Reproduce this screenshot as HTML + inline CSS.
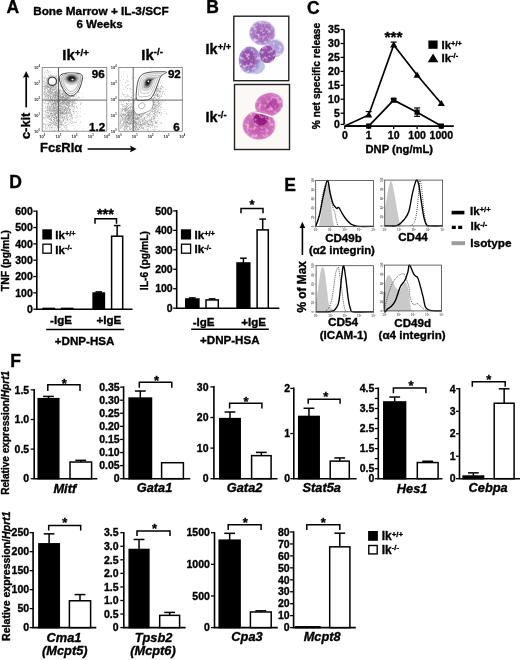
<!DOCTYPE html><html><head><meta charset="utf-8"><style>html,body{margin:0;padding:0;background:#fff;}svg{display:block;} text{stroke:#000;stroke-width:0.35px;stroke-linejoin:round;} text.g{stroke:none;}</style></head><body>
<svg width="520" height="660" viewBox="0 0 520 660" font-family="'Liberation Sans', Arial, Helvetica, sans-serif" font-weight="bold" fill="#000">
<rect width="520" height="660" fill="#fff"/>
<text x="6.60" y="13.40" font-size="17.5" text-anchor="start" >A</text>
<text x="33.20" y="15.20" font-size="11.75" text-anchor="start" >Bone Marrow + IL-3/SCF</text>
<text x="99.50" y="27.80" font-size="11.6" text-anchor="middle" >6 Weeks</text>
<text x="62.30" y="59.80" font-size="15" text-anchor="start">Ik<tspan font-size="9.75" dy="-3.75">+/+</tspan></text>
<text x="141.30" y="59.80" font-size="15" text-anchor="start">Ik<tspan font-size="9.75" dy="-4.80">-/-</tspan></text>
<path d="M71.0 102.8h.55v.55h-.55zM62.5 93.9h.55v.55h-.55zM54.4 97.1h.55v.55h-.55zM54.8 91.3h.55v.55h-.55zM63.4 97.5h.55v.55h-.55zM65.8 93.3h.55v.55h-.55zM62.0 96.7h.55v.55h-.55zM51.5 99.2h.55v.55h-.55zM64.2 106.6h.55v.55h-.55zM63.4 96.4h.55v.55h-.55zM70.6 97.8h.55v.55h-.55zM68.4 95.5h.55v.55h-.55zM63.5 101.1h.55v.55h-.55zM66.9 97.5h.55v.55h-.55zM54.4 98.8h.55v.55h-.55zM62.5 99.9h.55v.55h-.55zM63.5 101.4h.55v.55h-.55zM61.6 97.8h.55v.55h-.55zM66.7 92.7h.55v.55h-.55zM59.2 95.0h.55v.55h-.55zM75.9 96.6h.55v.55h-.55zM66.6 99.5h.55v.55h-.55zM60.0 90.8h.55v.55h-.55zM68.8 95.4h.55v.55h-.55zM67.0 91.8h.55v.55h-.55zM58.9 102.0h.55v.55h-.55zM72.0 91.8h.55v.55h-.55zM52.7 96.8h.55v.55h-.55zM67.1 97.6h.55v.55h-.55zM64.1 93.0h.55v.55h-.55zM66.1 101.5h.55v.55h-.55zM59.0 91.3h.55v.55h-.55zM56.7 100.0h.55v.55h-.55zM49.9 96.6h.55v.55h-.55zM55.1 96.5h.55v.55h-.55zM60.3 97.1h.55v.55h-.55zM72.5 98.7h.55v.55h-.55zM71.3 96.4h.55v.55h-.55zM58.6 98.5h.55v.55h-.55zM63.1 92.1h.55v.55h-.55zM65.3 94.8h.55v.55h-.55zM44.8 96.1h.55v.55h-.55zM55.1 94.9h.55v.55h-.55zM60.9 102.0h.55v.55h-.55zM62.7 96.9h.55v.55h-.55zM64.7 89.8h.55v.55h-.55zM70.7 92.7h.55v.55h-.55zM65.1 92.5h.55v.55h-.55zM55.2 95.4h.55v.55h-.55zM75.3 99.8h.55v.55h-.55zM57.8 95.9h.55v.55h-.55zM53.9 96.9h.55v.55h-.55zM58.0 99.9h.55v.55h-.55zM52.5 95.7h.55v.55h-.55zM56.1 94.1h.55v.55h-.55zM67.0 97.5h.55v.55h-.55zM66.1 101.8h.55v.55h-.55zM70.0 91.5h.55v.55h-.55zM65.8 90.0h.55v.55h-.55zM61.6 104.7h.55v.55h-.55zM60.6 95.5h.55v.55h-.55zM63.2 97.1h.55v.55h-.55zM62.2 94.0h.55v.55h-.55zM69.6 100.6h.55v.55h-.55zM60.5 98.3h.55v.55h-.55zM66.6 101.1h.55v.55h-.55zM64.7 99.8h.55v.55h-.55zM60.2 92.7h.55v.55h-.55zM58.5 101.1h.55v.55h-.55zM68.8 97.6h.55v.55h-.55zM58.0 98.2h.55v.55h-.55zM73.6 102.4h.55v.55h-.55zM57.2 96.8h.55v.55h-.55zM51.8 92.5h.55v.55h-.55zM63.3 97.1h.55v.55h-.55zM68.8 102.1h.55v.55h-.55zM67.8 102.3h.55v.55h-.55zM58.2 92.5h.55v.55h-.55zM65.5 107.7h.55v.55h-.55zM64.5 92.4h.55v.55h-.55zM63.7 102.7h.55v.55h-.55zM54.8 100.2h.55v.55h-.55zM57.7 102.1h.55v.55h-.55zM67.5 98.2h.55v.55h-.55zM76.0 95.4h.55v.55h-.55zM57.2 104.4h.55v.55h-.55zM55.9 105.8h.55v.55h-.55zM61.7 92.9h.55v.55h-.55zM62.0 97.5h.55v.55h-.55zM63.4 96.2h.55v.55h-.55zM69.6 87.7h.55v.55h-.55zM58.1 96.0h.55v.55h-.55zM74.7 89.0h.55v.55h-.55zM59.6 92.4h.55v.55h-.55zM57.3 99.6h.55v.55h-.55zM64.9 102.8h.55v.55h-.55zM57.8 98.1h.55v.55h-.55zM70.2 100.6h.55v.55h-.55zM59.6 101.5h.55v.55h-.55zM55.5 104.2h.55v.55h-.55zM63.1 96.5h.55v.55h-.55zM63.9 100.4h.55v.55h-.55zM74.2 96.4h.55v.55h-.55zM59.4 99.3h.55v.55h-.55zM55.9 90.2h.55v.55h-.55zM67.9 95.5h.55v.55h-.55zM69.9 92.9h.55v.55h-.55zM63.1 103.4h.55v.55h-.55zM65.7 98.2h.55v.55h-.55zM66.1 95.5h.55v.55h-.55zM62.5 91.6h.55v.55h-.55zM65.6 93.8h.55v.55h-.55zM58.9 99.8h.55v.55h-.55zM68.4 93.0h.55v.55h-.55zM76.0 94.6h.55v.55h-.55zM67.8 100.8h.55v.55h-.55zM63.6 97.7h.55v.55h-.55zM74.6 100.6h.55v.55h-.55zM65.1 89.7h.55v.55h-.55zM56.8 101.7h.55v.55h-.55zM63.4 93.2h.55v.55h-.55zM57.5 95.8h.55v.55h-.55zM66.8 98.5h.55v.55h-.55zM69.0 93.7h.55v.55h-.55zM68.9 95.0h.55v.55h-.55zM59.9 103.9h.55v.55h-.55zM62.5 96.4h.55v.55h-.55zM60.5 95.5h.55v.55h-.55zM72.9 102.5h.55v.55h-.55zM67.0 97.7h.55v.55h-.55zM69.3 96.7h.55v.55h-.55zM65.2 98.6h.55v.55h-.55zM62.6 103.6h.55v.55h-.55zM74.3 102.3h.55v.55h-.55zM48.6 104.3h.55v.55h-.55zM66.9 95.2h.55v.55h-.55zM61.8 101.6h.55v.55h-.55zM70.2 100.4h.55v.55h-.55zM63.0 97.1h.55v.55h-.55zM67.8 96.6h.55v.55h-.55zM55.7 94.5h.55v.55h-.55zM61.0 98.3h.55v.55h-.55zM77.8 91.5h.55v.55h-.55zM65.3 96.6h.55v.55h-.55zM64.1 102.4h.55v.55h-.55zM70.7 96.4h.55v.55h-.55zM58.1 91.5h.55v.55h-.55zM61.5 102.0h.55v.55h-.55zM60.1 99.8h.55v.55h-.55zM67.0 98.6h.55v.55h-.55zM69.6 96.5h.55v.55h-.55zM56.2 92.3h.55v.55h-.55zM68.5 95.6h.55v.55h-.55zM59.8 100.3h.55v.55h-.55zM56.5 104.1h.55v.55h-.55zM66.7 94.9h.55v.55h-.55zM57.6 101.3h.55v.55h-.55zM53.7 94.4h.55v.55h-.55zM62.0 97.8h.55v.55h-.55zM62.1 98.5h.55v.55h-.55zM59.5 96.5h.55v.55h-.55zM70.9 99.6h.55v.55h-.55zM58.9 103.9h.55v.55h-.55zM48.1 97.3h.55v.55h-.55zM66.7 100.9h.55v.55h-.55zM62.8 95.5h.55v.55h-.55zM66.1 96.2h.55v.55h-.55zM65.3 85.6h.55v.55h-.55zM64.7 93.8h.55v.55h-.55zM68.6 100.0h.55v.55h-.55zM67.1 95.4h.55v.55h-.55zM65.0 95.6h.55v.55h-.55zM63.5 96.5h.55v.55h-.55zM55.9 104.9h.55v.55h-.55zM67.1 88.8h.55v.55h-.55zM68.3 91.4h.55v.55h-.55zM60.4 94.7h.55v.55h-.55zM58.3 98.0h.55v.55h-.55zM59.7 91.2h.55v.55h-.55zM62.0 98.5h.55v.55h-.55zM74.4 95.3h.55v.55h-.55zM53.7 95.5h.55v.55h-.55zM66.6 93.5h.55v.55h-.55zM57.0 99.2h.55v.55h-.55zM61.9 97.9h.55v.55h-.55zM57.6 93.7h.55v.55h-.55zM59.7 96.4h.55v.55h-.55zM59.7 98.7h.55v.55h-.55zM65.8 99.2h.55v.55h-.55zM65.4 93.5h.55v.55h-.55zM54.2 100.2h.55v.55h-.55zM62.1 97.5h.55v.55h-.55zM53.9 96.2h.55v.55h-.55zM57.5 93.5h.55v.55h-.55zM57.6 91.0h.55v.55h-.55zM62.6 101.7h.55v.55h-.55zM57.0 97.4h.55v.55h-.55zM54.4 99.7h.55v.55h-.55zM75.0 92.1h.55v.55h-.55zM60.4 102.7h.55v.55h-.55zM64.6 97.5h.55v.55h-.55zM47.7 96.4h.55v.55h-.55zM68.4 102.7h.55v.55h-.55zM66.5 94.7h.55v.55h-.55zM57.2 89.7h.55v.55h-.55zM54.5 101.5h.55v.55h-.55zM61.2 91.6h.55v.55h-.55zM71.2 90.3h.55v.55h-.55zM70.8 95.7h.55v.55h-.55zM64.4 99.7h.55v.55h-.55zM63.8 102.1h.55v.55h-.55zM62.1 95.7h.55v.55h-.55zM57.4 91.2h.55v.55h-.55zM57.1 100.9h.55v.55h-.55zM67.8 102.6h.55v.55h-.55zM81.1 99.9h.55v.55h-.55zM65.5 91.7h.55v.55h-.55zM60.3 105.8h.55v.55h-.55zM65.7 96.4h.55v.55h-.55zM64.2 89.4h.55v.55h-.55zM56.2 91.8h.55v.55h-.55zM47.0 100.1h.55v.55h-.55zM68.8 96.3h.55v.55h-.55zM64.4 93.0h.55v.55h-.55zM65.2 100.1h.55v.55h-.55zM72.7 103.2h.55v.55h-.55zM65.4 96.5h.55v.55h-.55zM56.2 94.6h.55v.55h-.55zM66.3 99.3h.55v.55h-.55zM62.1 103.7h.55v.55h-.55zM66.5 97.1h.55v.55h-.55zM60.7 97.3h.55v.55h-.55zM55.4 93.1h.55v.55h-.55zM64.4 94.7h.55v.55h-.55zM60.1 101.9h.55v.55h-.55zM60.6 102.3h.55v.55h-.55zM61.9 103.1h.55v.55h-.55zM65.3 90.0h.55v.55h-.55zM70.7 96.2h.55v.55h-.55zM48.2 97.5h.55v.55h-.55zM63.1 91.8h.55v.55h-.55zM57.7 99.2h.55v.55h-.55zM71.9 101.6h.55v.55h-.55zM70.6 101.5h.55v.55h-.55zM44.6 94.1h.55v.55h-.55zM63.3 86.2h.55v.55h-.55zM67.4 100.6h.55v.55h-.55zM56.6 95.5h.55v.55h-.55zM55.4 96.9h.55v.55h-.55zM61.7 97.0h.55v.55h-.55zM54.8 98.5h.55v.55h-.55zM59.6 100.8h.55v.55h-.55zM64.2 91.1h.55v.55h-.55zM51.9 97.3h.55v.55h-.55zM58.6 98.9h.55v.55h-.55zM67.6 97.1h.55v.55h-.55zM50.2 92.2h.55v.55h-.55zM66.0 92.8h.55v.55h-.55zM69.8 96.6h.55v.55h-.55zM65.6 93.5h.55v.55h-.55zM61.3 85.2h.55v.55h-.55zM60.5 99.3h.55v.55h-.55zM55.7 93.6h.55v.55h-.55zM61.6 97.3h.55v.55h-.55zM56.3 99.7h.55v.55h-.55zM50.5 101.5h.55v.55h-.55zM52.2 93.7h.55v.55h-.55zM71.3 93.0h.55v.55h-.55zM50.4 97.3h.55v.55h-.55zM55.6 92.5h.55v.55h-.55zM57.1 94.0h.55v.55h-.55zM55.2 92.9h.55v.55h-.55zM73.3 94.3h.55v.55h-.55zM68.8 91.4h.55v.55h-.55zM65.8 92.0h.55v.55h-.55zM58.8 99.5h.55v.55h-.55zM58.3 89.1h.55v.55h-.55zM58.1 96.4h.55v.55h-.55zM66.0 93.0h.55v.55h-.55zM59.9 97.3h.55v.55h-.55zM50.5 96.6h.55v.55h-.55zM56.2 98.8h.55v.55h-.55zM61.2 96.3h.55v.55h-.55zM45.1 96.6h.55v.55h-.55zM59.4 93.2h.55v.55h-.55zM58.4 91.9h.55v.55h-.55zM63.2 99.6h.55v.55h-.55zM66.2 94.9h.55v.55h-.55zM73.8 100.4h.55v.55h-.55zM55.4 96.4h.55v.55h-.55zM50.6 96.5h.55v.55h-.55zM67.0 102.1h.55v.55h-.55zM59.1 89.8h.55v.55h-.55zM60.8 102.4h.55v.55h-.55zM63.0 102.1h.55v.55h-.55zM67.8 103.2h.55v.55h-.55zM66.2 94.3h.55v.55h-.55zM65.1 107.1h.55v.55h-.55zM58.4 89.6h.55v.55h-.55zM76.7 98.6h.55v.55h-.55zM57.6 94.6h.55v.55h-.55zM51.2 99.8h.55v.55h-.55zM63.0 94.5h.55v.55h-.55zM59.0 95.3h.55v.55h-.55zM69.5 96.3h.55v.55h-.55zM71.7 93.6h.55v.55h-.55zM57.7 95.1h.55v.55h-.55zM58.2 96.6h.55v.55h-.55zM69.2 101.8h.55v.55h-.55zM54.5 102.1h.55v.55h-.55zM62.7 103.4h.55v.55h-.55zM60.8 93.7h.55v.55h-.55zM67.5 99.5h.55v.55h-.55zM58.8 97.1h.55v.55h-.55zM62.9 98.2h.55v.55h-.55zM50.0 92.2h.55v.55h-.55zM62.4 98.0h.55v.55h-.55zM58.3 90.0h.55v.55h-.55zM71.4 95.8h.55v.55h-.55zM54.7 103.4h.55v.55h-.55zM69.9 101.2h.55v.55h-.55zM67.8 99.3h.55v.55h-.55zM55.2 97.1h.55v.55h-.55zM64.5 99.5h.55v.55h-.55zM65.3 93.0h.55v.55h-.55zM57.8 95.7h.55v.55h-.55zM60.6 93.5h.55v.55h-.55zM49.2 92.1h.55v.55h-.55zM64.2 97.0h.55v.55h-.55zM66.1 89.5h.55v.55h-.55zM59.1 100.6h.55v.55h-.55zM48.3 92.7h.55v.55h-.55zM50.3 101.8h.55v.55h-.55zM62.2 94.7h.55v.55h-.55zM63.0 96.6h.55v.55h-.55zM68.3 101.7h.55v.55h-.55zM68.4 98.4h.55v.55h-.55zM67.3 100.3h.55v.55h-.55zM70.2 89.7h.55v.55h-.55zM64.4 97.3h.55v.55h-.55zM63.1 96.0h.55v.55h-.55zM61.5 99.0h.55v.55h-.55zM63.4 97.5h.55v.55h-.55zM54.5 92.0h.55v.55h-.55zM56.8 89.9h.55v.55h-.55zM58.4 93.6h.55v.55h-.55zM49.4 89.2h.55v.55h-.55zM58.7 94.7h.55v.55h-.55zM77.2 100.5h.55v.55h-.55zM56.5 95.0h.55v.55h-.55zM54.9 93.8h.55v.55h-.55zM59.5 96.8h.55v.55h-.55zM57.6 100.3h.55v.55h-.55zM66.5 104.8h.55v.55h-.55zM52.8 99.7h.55v.55h-.55zM59.4 90.6h.55v.55h-.55zM59.9 90.4h.55v.55h-.55zM61.8 107.9h.55v.55h-.55zM71.1 104.3h.55v.55h-.55zM70.4 90.8h.55v.55h-.55zM64.9 97.6h.55v.55h-.55zM65.0 92.8h.55v.55h-.55zM48.1 105.4h.55v.55h-.55zM70.3 98.2h.55v.55h-.55zM58.6 97.7h.55v.55h-.55zM53.3 100.8h.55v.55h-.55zM63.2 96.4h.55v.55h-.55zM59.0 96.7h.55v.55h-.55zM62.9 95.4h.55v.55h-.55zM68.7 97.8h.55v.55h-.55zM61.3 93.6h.55v.55h-.55zM70.5 102.2h.55v.55h-.55zM66.8 89.6h.55v.55h-.55zM59.6 101.0h.55v.55h-.55zM62.3 102.1h.55v.55h-.55zM58.9 100.2h.55v.55h-.55zM65.7 87.2h.55v.55h-.55zM59.2 96.1h.55v.55h-.55zM57.6 93.4h.55v.55h-.55zM73.1 96.5h.55v.55h-.55zM67.5 91.6h.55v.55h-.55zM47.5 95.1h.55v.55h-.55zM64.9 94.1h.55v.55h-.55zM65.7 100.2h.55v.55h-.55zM58.9 96.8h.55v.55h-.55zM56.8 101.3h.55v.55h-.55zM74.4 99.0h.55v.55h-.55zM58.5 94.2h.55v.55h-.55zM60.0 100.6h.55v.55h-.55zM56.7 102.9h.55v.55h-.55zM53.4 97.0h.55v.55h-.55zM71.2 104.1h.55v.55h-.55zM59.1 100.2h.55v.55h-.55zM79.7 101.7h.55v.55h-.55zM46.7 98.1h.55v.55h-.55zM78.6 92.4h.55v.55h-.55zM68.4 88.6h.55v.55h-.55zM73.1 93.6h.55v.55h-.55zM67.7 100.6h.55v.55h-.55zM64.3 90.9h.55v.55h-.55zM61.9 93.2h.55v.55h-.55zM71.4 95.0h.55v.55h-.55zM55.6 99.6h.55v.55h-.55zM70.6 96.4h.55v.55h-.55zM64.0 99.0h.55v.55h-.55zM58.5 92.2h.55v.55h-.55zM65.7 95.6h.55v.55h-.55zM52.4 100.4h.55v.55h-.55zM65.0 97.6h.55v.55h-.55zM56.7 96.1h.55v.55h-.55zM66.3 98.9h.55v.55h-.55zM56.2 93.4h.55v.55h-.55zM64.4 97.7h.55v.55h-.55zM67.9 92.4h.55v.55h-.55zM68.4 104.1h.55v.55h-.55zM68.6 97.5h.55v.55h-.55zM68.3 91.9h.55v.55h-.55zM58.9 105.2h.55v.55h-.55zM50.6 92.4h.55v.55h-.55zM67.8 94.4h.55v.55h-.55zM58.0 92.5h.55v.55h-.55zM73.8 94.6h.55v.55h-.55zM60.1 89.7h.55v.55h-.55zM67.4 97.0h.55v.55h-.55zM65.5 103.3h.55v.55h-.55zM63.1 92.2h.55v.55h-.55zM54.9 97.3h.55v.55h-.55zM71.2 92.2h.55v.55h-.55zM60.3 96.4h.55v.55h-.55zM66.6 93.4h.55v.55h-.55zM64.2 100.1h.55v.55h-.55zM61.7 96.6h.55v.55h-.55zM66.3 99.3h.55v.55h-.55zM70.8 92.7h.55v.55h-.55zM70.6 96.1h.55v.55h-.55zM54.0 94.8h.55v.55h-.55zM53.4 96.2h.55v.55h-.55zM69.2 88.0h.55v.55h-.55zM53.7 100.1h.55v.55h-.55zM59.9 100.2h.55v.55h-.55zM52.7 96.8h.55v.55h-.55zM43.8 93.6h.55v.55h-.55zM67.2 101.9h.55v.55h-.55zM73.4 96.8h.55v.55h-.55zM55.9 95.5h.55v.55h-.55zM48.6 102.4h.55v.55h-.55zM70.2 93.4h.55v.55h-.55zM74.8 91.6h.55v.55h-.55zM65.9 93.8h.55v.55h-.55zM49.8 98.6h.55v.55h-.55zM53.9 101.8h.55v.55h-.55zM55.7 97.4h.55v.55h-.55zM58.6 97.5h.55v.55h-.55zM57.6 100.3h.55v.55h-.55zM66.3 97.3h.55v.55h-.55zM61.1 104.9h.55v.55h-.55zM57.1 95.2h.55v.55h-.55zM67.4 97.0h.55v.55h-.55zM50.6 96.4h.55v.55h-.55zM59.3 93.0h.55v.55h-.55zM63.4 92.5h.55v.55h-.55zM60.2 92.5h.55v.55h-.55zM72.9 95.9h.55v.55h-.55zM65.1 98.1h.55v.55h-.55zM66.9 96.4h.55v.55h-.55zM67.3 97.5h.55v.55h-.55zM44.9 98.2h.55v.55h-.55zM53.0 100.8h.55v.55h-.55zM63.5 95.5h.55v.55h-.55zM44.3 88.4h.55v.55h-.55zM53.8 95.5h.55v.55h-.55zM52.3 104.9h.55v.55h-.55zM65.2 96.6h.55v.55h-.55zM55.1 95.6h.55v.55h-.55zM60.3 95.2h.55v.55h-.55zM61.5 100.2h.55v.55h-.55zM49.7 97.9h.55v.55h-.55zM69.7 91.5h.55v.55h-.55zM60.7 95.5h.55v.55h-.55zM54.0 100.8h.55v.55h-.55zM59.7 101.6h.55v.55h-.55zM64.9 95.9h.55v.55h-.55zM64.0 95.5h.55v.55h-.55zM50.5 102.7h.55v.55h-.55zM64.6 101.6h.55v.55h-.55zM49.3 101.2h.55v.55h-.55zM67.8 96.8h.55v.55h-.55zM47.2 97.4h.55v.55h-.55zM57.3 96.2h.55v.55h-.55zM62.4 93.4h.55v.55h-.55zM61.1 97.0h.55v.55h-.55zM72.2 96.6h.55v.55h-.55zM78.5 92.3h.55v.55h-.55zM61.0 102.0h.55v.55h-.55zM51.0 99.5h.55v.55h-.55zM64.8 94.6h.55v.55h-.55zM60.3 103.2h.55v.55h-.55zM58.9 98.1h.55v.55h-.55zM65.0 101.8h.55v.55h-.55zM47.5 91.1h.55v.55h-.55zM52.6 95.9h.55v.55h-.55zM66.3 100.3h.55v.55h-.55zM60.0 103.1h.55v.55h-.55zM61.5 99.8h.55v.55h-.55zM56.7 100.3h.55v.55h-.55zM57.0 101.6h.55v.55h-.55zM68.0 104.5h.55v.55h-.55zM59.0 92.4h.55v.55h-.55zM67.8 98.3h.55v.55h-.55zM58.3 91.6h.55v.55h-.55zM67.6 89.2h.55v.55h-.55zM58.7 101.3h.55v.55h-.55zM60.2 98.8h.55v.55h-.55zM65.4 99.4h.55v.55h-.55zM69.4 99.6h.55v.55h-.55zM59.4 92.1h.55v.55h-.55zM60.0 94.4h.55v.55h-.55zM64.8 101.9h.55v.55h-.55zM67.5 94.2h.55v.55h-.55zM63.4 97.0h.55v.55h-.55zM58.7 102.2h.55v.55h-.55zM66.3 98.4h.55v.55h-.55zM53.4 86.5h.55v.55h-.55zM56.9 101.6h.55v.55h-.55zM60.5 96.9h.55v.55h-.55zM60.2 98.9h.55v.55h-.55zM61.9 103.9h.55v.55h-.55zM61.2 95.9h.55v.55h-.55zM71.9 100.0h.55v.55h-.55zM66.9 99.1h.55v.55h-.55zM61.7 98.3h.55v.55h-.55zM65.8 97.4h.55v.55h-.55zM48.8 102.5h.55v.55h-.55zM58.6 94.7h.55v.55h-.55zM59.6 94.1h.55v.55h-.55zM55.9 96.7h.55v.55h-.55zM68.2 95.8h.55v.55h-.55zM65.3 91.6h.55v.55h-.55zM67.3 92.5h.55v.55h-.55zM66.9 94.0h.55v.55h-.55zM57.8 92.0h.55v.55h-.55zM53.1 96.1h.55v.55h-.55zM55.2 96.1h.55v.55h-.55zM70.0 93.6h.55v.55h-.55zM59.8 96.6h.55v.55h-.55zM57.7 96.9h.55v.55h-.55zM63.6 101.2h.55v.55h-.55zM56.9 96.1h.55v.55h-.55zM60.9 101.9h.55v.55h-.55zM55.0 97.7h.55v.55h-.55zM67.4 99.3h.55v.55h-.55zM57.0 92.9h.55v.55h-.55zM49.0 94.9h.55v.55h-.55zM60.2 91.0h.55v.55h-.55zM67.9 97.7h.55v.55h-.55zM60.3 94.9h.55v.55h-.55zM65.3 95.9h.55v.55h-.55zM65.5 95.1h.55v.55h-.55zM69.4 90.5h.55v.55h-.55zM54.5 104.2h.55v.55h-.55zM69.3 103.6h.55v.55h-.55zM56.5 99.9h.55v.55h-.55zM69.0 100.7h.55v.55h-.55zM60.7 102.9h.55v.55h-.55zM64.9 91.8h.55v.55h-.55zM79.2 97.5h.55v.55h-.55zM70.8 94.2h.55v.55h-.55zM55.5 100.5h.55v.55h-.55zM67.8 94.0h.55v.55h-.55zM63.7 91.7h.55v.55h-.55zM47.6 101.4h.55v.55h-.55zM54.0 100.0h.55v.55h-.55zM69.5 98.5h.55v.55h-.55zM72.6 98.5h.55v.55h-.55zM64.1 97.0h.55v.55h-.55zM64.9 98.4h.55v.55h-.55zM55.4 96.8h.55v.55h-.55zM59.4 108.4h.55v.55h-.55zM70.6 93.8h.55v.55h-.55zM66.2 90.0h.55v.55h-.55zM62.4 104.3h.55v.55h-.55zM62.6 102.1h.55v.55h-.55zM59.4 98.8h.55v.55h-.55zM64.6 88.2h.55v.55h-.55zM56.4 104.6h.55v.55h-.55zM56.2 101.8h.55v.55h-.55zM74.0 96.8h.55v.55h-.55zM69.0 98.5h.55v.55h-.55zM57.8 99.3h.55v.55h-.55zM65.0 93.1h.55v.55h-.55zM58.9 91.6h.55v.55h-.55zM59.6 96.8h.55v.55h-.55zM55.1 89.5h.55v.55h-.55zM66.7 102.1h.55v.55h-.55zM55.6 97.3h.55v.55h-.55zM57.3 86.5h.55v.55h-.55zM76.8 98.2h.55v.55h-.55zM52.1 102.1h.55v.55h-.55zM67.1 102.7h.55v.55h-.55zM67.1 99.1h.55v.55h-.55zM72.1 95.9h.55v.55h-.55zM63.7 92.7h.55v.55h-.55zM54.0 97.8h.55v.55h-.55zM63.6 90.7h.55v.55h-.55zM64.6 101.0h.55v.55h-.55zM53.2 95.6h.55v.55h-.55zM74.0 93.6h.55v.55h-.55zM66.0 100.1h.55v.55h-.55zM63.3 97.6h.55v.55h-.55zM66.0 98.1h.55v.55h-.55zM63.0 91.1h.55v.55h-.55zM63.7 93.8h.55v.55h-.55zM72.5 105.9h.55v.55h-.55zM69.8 88.4h.55v.55h-.55zM69.0 97.5h.55v.55h-.55zM54.4 92.1h.55v.55h-.55zM69.4 94.4h.55v.55h-.55zM61.4 97.3h.55v.55h-.55zM68.6 86.3h.55v.55h-.55zM70.6 93.8h.55v.55h-.55zM59.2 99.5h.55v.55h-.55zM64.6 87.8h.55v.55h-.55zM66.2 96.4h.55v.55h-.55zM54.8 94.5h.55v.55h-.55zM50.8 100.1h.55v.55h-.55zM72.3 94.5h.55v.55h-.55zM58.7 91.2h.55v.55h-.55zM57.1 92.9h.55v.55h-.55zM62.2 104.0h.55v.55h-.55zM69.4 100.9h.55v.55h-.55zM55.2 100.3h.55v.55h-.55zM57.0 93.5h.55v.55h-.55zM67.1 96.6h.55v.55h-.55zM79.4 97.8h.55v.55h-.55zM59.9 100.0h.55v.55h-.55zM53.9 99.7h.55v.55h-.55zM72.9 96.5h.55v.55h-.55zM58.4 101.5h.55v.55h-.55zM54.2 98.5h.55v.55h-.55zM58.3 98.2h.55v.55h-.55zM56.5 99.4h.55v.55h-.55zM65.9 104.0h.55v.55h-.55zM59.4 98.8h.55v.55h-.55zM49.7 93.9h.55v.55h-.55zM63.9 91.5h.55v.55h-.55zM61.2 93.4h.55v.55h-.55zM65.4 99.4h.55v.55h-.55zM58.7 99.6h.55v.55h-.55zM58.1 97.5h.55v.55h-.55zM65.7 99.2h.55v.55h-.55zM66.2 103.8h.55v.55h-.55zM57.5 96.4h.55v.55h-.55zM49.2 100.5h.55v.55h-.55zM54.1 94.6h.55v.55h-.55zM58.4 98.7h.55v.55h-.55zM60.0 95.9h.55v.55h-.55zM62.5 95.7h.55v.55h-.55zM61.8 93.1h.55v.55h-.55zM58.1 92.1h.55v.55h-.55zM68.0 100.6h.55v.55h-.55zM66.6 98.3h.55v.55h-.55zM57.8 99.2h.55v.55h-.55zM51.2 87.0h.55v.55h-.55zM53.7 103.0h.55v.55h-.55zM63.7 103.2h.55v.55h-.55zM57.0 101.0h.55v.55h-.55zM73.1 101.0h.55v.55h-.55zM64.0 101.3h.55v.55h-.55zM58.8 104.1h.55v.55h-.55zM53.9 94.0h.55v.55h-.55zM62.2 93.9h.55v.55h-.55zM74.3 99.7h.55v.55h-.55zM56.9 103.7h.55v.55h-.55zM71.5 95.5h.55v.55h-.55zM72.9 101.7h.55v.55h-.55zM58.5 94.8h.55v.55h-.55zM64.2 101.6h.55v.55h-.55zM73.0 103.0h.55v.55h-.55zM58.6 89.9h.55v.55h-.55zM50.2 103.0h.55v.55h-.55zM69.4 101.7h.55v.55h-.55zM62.0 97.3h.55v.55h-.55zM65.4 98.8h.55v.55h-.55zM62.6 93.1h.55v.55h-.55zM52.4 97.6h.55v.55h-.55zM60.9 102.7h.55v.55h-.55zM54.5 89.1h.55v.55h-.55zM48.2 96.9h.55v.55h-.55zM73.7 95.6h.55v.55h-.55zM57.1 98.5h.55v.55h-.55zM72.8 101.3h.55v.55h-.55zM68.2 100.7h.55v.55h-.55zM60.0 97.3h.55v.55h-.55zM64.9 104.3h.55v.55h-.55zM46.6 94.8h.55v.55h-.55zM64.6 96.0h.55v.55h-.55zM61.1 95.9h.55v.55h-.55zM45.2 92.0h.55v.55h-.55zM56.5 86.8h.55v.55h-.55zM52.2 95.7h.55v.55h-.55zM46.7 88.5h.55v.55h-.55zM43.5 98.5h.55v.55h-.55zM58.6 87.8h.55v.55h-.55zM60.0 94.1h.55v.55h-.55zM51.3 92.0h.55v.55h-.55zM53.4 86.3h.55v.55h-.55zM55.7 90.9h.55v.55h-.55zM59.5 88.3h.55v.55h-.55zM52.8 78.0h.55v.55h-.55zM47.0 84.2h.55v.55h-.55zM54.7 85.2h.55v.55h-.55zM55.8 86.0h.55v.55h-.55zM54.8 85.3h.55v.55h-.55zM44.0 92.5h.55v.55h-.55zM48.8 92.1h.55v.55h-.55zM48.3 100.8h.55v.55h-.55zM52.0 78.9h.55v.55h-.55zM51.7 81.4h.55v.55h-.55zM54.9 94.1h.55v.55h-.55zM60.7 90.2h.55v.55h-.55zM47.5 93.9h.55v.55h-.55zM43.2 86.3h.55v.55h-.55zM45.0 85.6h.55v.55h-.55zM43.6 80.3h.55v.55h-.55zM44.4 91.3h.55v.55h-.55zM50.2 88.5h.55v.55h-.55zM52.4 93.5h.55v.55h-.55zM52.4 101.4h.55v.55h-.55zM51.4 91.3h.55v.55h-.55zM47.6 95.5h.55v.55h-.55zM57.2 71.2h.55v.55h-.55zM54.1 82.4h.55v.55h-.55zM51.8 89.5h.55v.55h-.55zM43.7 80.9h.55v.55h-.55zM48.7 104.8h.55v.55h-.55zM43.8 86.6h.55v.55h-.55zM48.5 87.4h.55v.55h-.55zM55.6 101.4h.55v.55h-.55zM49.8 91.5h.55v.55h-.55zM48.4 98.5h.55v.55h-.55zM49.7 93.1h.55v.55h-.55zM49.0 95.8h.55v.55h-.55zM49.7 83.9h.55v.55h-.55zM59.6 77.3h.55v.55h-.55zM50.9 86.9h.55v.55h-.55zM45.4 101.5h.55v.55h-.55zM51.7 86.5h.55v.55h-.55zM45.6 91.0h.55v.55h-.55zM50.0 87.6h.55v.55h-.55zM46.7 98.2h.55v.55h-.55zM51.1 87.9h.55v.55h-.55zM43.7 84.3h.55v.55h-.55zM53.7 84.5h.55v.55h-.55zM53.3 88.3h.55v.55h-.55zM52.0 91.1h.55v.55h-.55zM47.8 87.4h.55v.55h-.55zM49.7 92.9h.55v.55h-.55zM62.0 94.2h.55v.55h-.55zM43.4 102.3h.55v.55h-.55zM49.4 84.8h.55v.55h-.55zM50.6 88.7h.55v.55h-.55zM51.3 88.8h.55v.55h-.55zM49.9 96.6h.55v.55h-.55zM58.5 89.6h.55v.55h-.55zM57.9 94.6h.55v.55h-.55zM56.0 90.6h.55v.55h-.55zM51.0 93.8h.55v.55h-.55zM45.2 89.3h.55v.55h-.55zM44.3 94.5h.55v.55h-.55zM51.1 92.6h.55v.55h-.55zM48.3 84.4h.55v.55h-.55zM54.8 86.4h.55v.55h-.55zM48.9 89.2h.55v.55h-.55zM52.3 89.4h.55v.55h-.55zM44.8 82.7h.55v.55h-.55zM55.1 87.1h.55v.55h-.55zM48.8 83.7h.55v.55h-.55zM54.7 91.8h.55v.55h-.55zM47.3 78.7h.55v.55h-.55zM59.0 85.6h.55v.55h-.55zM44.2 86.0h.55v.55h-.55zM44.3 89.0h.55v.55h-.55zM47.2 81.9h.55v.55h-.55zM53.4 83.9h.55v.55h-.55zM47.3 82.5h.55v.55h-.55zM47.0 86.1h.55v.55h-.55zM47.5 96.6h.55v.55h-.55zM55.3 90.9h.55v.55h-.55zM52.8 86.3h.55v.55h-.55zM56.9 84.8h.55v.55h-.55zM46.5 84.8h.55v.55h-.55zM43.4 92.3h.55v.55h-.55zM44.6 97.3h.55v.55h-.55zM58.3 89.5h.55v.55h-.55zM49.8 83.9h.55v.55h-.55zM54.5 89.5h.55v.55h-.55zM52.3 86.0h.55v.55h-.55zM52.2 90.5h.55v.55h-.55zM57.2 88.4h.55v.55h-.55zM55.3 95.6h.55v.55h-.55zM56.6 86.9h.55v.55h-.55zM51.4 104.3h.55v.55h-.55zM49.0 85.4h.55v.55h-.55zM50.6 81.9h.55v.55h-.55zM45.7 86.4h.55v.55h-.55zM48.6 95.0h.55v.55h-.55zM44.5 87.9h.55v.55h-.55zM51.3 87.2h.55v.55h-.55zM53.7 102.4h.55v.55h-.55zM44.6 83.8h.55v.55h-.55zM47.4 85.7h.55v.55h-.55zM47.3 91.5h.55v.55h-.55zM58.7 103.8h.55v.55h-.55zM49.6 76.7h.55v.55h-.55zM57.8 89.1h.55v.55h-.55zM47.9 95.6h.55v.55h-.55zM49.4 87.7h.55v.55h-.55zM45.6 94.5h.55v.55h-.55zM54.2 83.9h.55v.55h-.55zM47.2 96.4h.55v.55h-.55zM46.4 86.5h.55v.55h-.55zM46.2 87.6h.55v.55h-.55zM54.3 89.4h.55v.55h-.55zM55.0 92.6h.55v.55h-.55zM49.9 79.0h.55v.55h-.55zM53.9 88.7h.55v.55h-.55zM47.5 92.1h.55v.55h-.55zM54.8 93.3h.55v.55h-.55zM47.4 88.8h.55v.55h-.55zM62.2 81.2h.55v.55h-.55zM50.4 89.2h.55v.55h-.55zM57.5 92.7h.55v.55h-.55zM51.1 87.2h.55v.55h-.55zM56.2 89.4h.55v.55h-.55zM49.5 90.0h.55v.55h-.55zM53.4 89.2h.55v.55h-.55zM51.3 93.8h.55v.55h-.55zM46.4 87.6h.55v.55h-.55zM50.4 93.1h.55v.55h-.55zM52.8 86.1h.55v.55h-.55zM44.8 86.8h.55v.55h-.55zM47.5 94.3h.55v.55h-.55zM53.2 89.4h.55v.55h-.55zM44.6 81.2h.55v.55h-.55zM50.6 92.7h.55v.55h-.55zM51.9 87.5h.55v.55h-.55zM52.9 77.2h.55v.55h-.55zM55.7 98.0h.55v.55h-.55zM50.9 90.4h.55v.55h-.55zM49.0 94.4h.55v.55h-.55zM45.4 85.5h.55v.55h-.55zM52.0 80.5h.55v.55h-.55zM52.5 91.7h.55v.55h-.55zM49.9 86.0h.55v.55h-.55zM58.7 85.8h.55v.55h-.55zM50.8 93.8h.55v.55h-.55zM49.9 95.3h.55v.55h-.55zM50.0 90.5h.55v.55h-.55zM50.0 92.9h.55v.55h-.55zM46.8 94.3h.55v.55h-.55zM55.2 82.7h.55v.55h-.55zM46.0 93.1h.55v.55h-.55zM50.3 100.3h.55v.55h-.55zM57.9 79.8h.55v.55h-.55zM48.1 87.2h.55v.55h-.55zM58.0 93.7h.55v.55h-.55zM54.6 84.1h.55v.55h-.55zM60.2 82.4h.55v.55h-.55zM50.1 83.2h.55v.55h-.55zM45.5 90.5h.55v.55h-.55zM45.5 93.1h.55v.55h-.55zM52.6 89.3h.55v.55h-.55zM53.2 95.8h.55v.55h-.55zM55.5 82.2h.55v.55h-.55zM53.3 94.4h.55v.55h-.55zM48.1 86.7h.55v.55h-.55zM56.0 93.0h.55v.55h-.55zM50.7 97.6h.55v.55h-.55zM54.7 99.4h.55v.55h-.55zM48.1 94.9h.55v.55h-.55zM58.3 83.2h.55v.55h-.55zM49.2 86.9h.55v.55h-.55zM52.4 95.8h.55v.55h-.55zM58.0 88.1h.55v.55h-.55zM51.7 94.3h.55v.55h-.55zM55.8 87.3h.55v.55h-.55zM56.8 80.4h.55v.55h-.55zM51.4 80.7h.55v.55h-.55zM47.7 84.3h.55v.55h-.55zM58.9 99.0h.55v.55h-.55zM53.9 90.0h.55v.55h-.55zM50.9 93.4h.55v.55h-.55zM52.6 84.6h.55v.55h-.55zM46.1 92.2h.55v.55h-.55zM61.4 93.4h.55v.55h-.55zM49.8 88.3h.55v.55h-.55zM52.2 90.9h.55v.55h-.55zM52.3 92.3h.55v.55h-.55zM47.7 95.6h.55v.55h-.55zM55.1 84.6h.55v.55h-.55zM55.1 84.7h.55v.55h-.55zM45.0 85.7h.55v.55h-.55zM45.3 88.6h.55v.55h-.55zM48.2 90.0h.55v.55h-.55zM52.4 98.8h.55v.55h-.55zM52.3 92.1h.55v.55h-.55zM52.5 93.9h.55v.55h-.55zM54.5 90.7h.55v.55h-.55zM44.2 83.3h.55v.55h-.55zM51.4 87.1h.55v.55h-.55zM48.0 85.9h.55v.55h-.55zM46.4 95.6h.55v.55h-.55zM53.9 81.4h.55v.55h-.55zM50.9 88.9h.55v.55h-.55zM47.7 95.3h.55v.55h-.55zM51.6 89.4h.55v.55h-.55zM45.7 94.7h.55v.55h-.55zM51.2 90.7h.55v.55h-.55zM46.6 98.0h.55v.55h-.55zM44.9 86.0h.55v.55h-.55zM48.3 90.2h.55v.55h-.55zM56.8 92.4h.55v.55h-.55zM50.6 88.1h.55v.55h-.55zM51.9 93.8h.55v.55h-.55zM46.3 99.5h.55v.55h-.55zM49.9 94.1h.55v.55h-.55zM48.0 97.2h.55v.55h-.55zM55.1 90.9h.55v.55h-.55zM53.1 87.1h.55v.55h-.55zM45.5 95.9h.55v.55h-.55zM44.0 85.9h.55v.55h-.55zM44.2 83.3h.55v.55h-.55zM47.9 94.0h.55v.55h-.55zM45.2 93.4h.55v.55h-.55zM45.7 93.0h.55v.55h-.55zM56.6 75.1h.55v.55h-.55zM50.4 98.7h.55v.55h-.55zM50.1 98.9h.55v.55h-.55zM55.8 90.7h.55v.55h-.55zM57.7 83.7h.55v.55h-.55zM44.6 86.3h.55v.55h-.55zM56.3 89.6h.55v.55h-.55zM53.4 95.9h.55v.55h-.55zM57.6 92.1h.55v.55h-.55zM52.3 83.2h.55v.55h-.55zM47.2 80.8h.55v.55h-.55zM49.3 91.4h.55v.55h-.55zM50.2 83.4h.55v.55h-.55zM52.9 94.5h.55v.55h-.55zM56.2 76.1h.55v.55h-.55zM52.7 95.2h.55v.55h-.55zM53.6 89.2h.55v.55h-.55zM51.2 87.5h.55v.55h-.55zM46.6 83.1h.55v.55h-.55zM65.8 87.5h.55v.55h-.55zM52.8 92.3h.55v.55h-.55zM54.5 88.7h.55v.55h-.55zM54.7 101.0h.55v.55h-.55zM46.8 85.5h.55v.55h-.55zM45.0 86.9h.55v.55h-.55zM43.9 91.0h.55v.55h-.55zM53.3 96.3h.55v.55h-.55zM56.4 86.8h.55v.55h-.55zM51.0 84.2h.55v.55h-.55zM50.3 89.6h.55v.55h-.55zM52.5 88.6h.55v.55h-.55zM44.7 95.0h.55v.55h-.55zM49.3 80.7h.55v.55h-.55zM57.5 92.2h.55v.55h-.55zM54.1 92.4h.55v.55h-.55zM47.0 90.3h.55v.55h-.55zM53.2 89.9h.55v.55h-.55zM55.4 88.0h.55v.55h-.55zM50.5 85.3h.55v.55h-.55zM47.4 86.8h.55v.55h-.55zM51.0 81.4h.55v.55h-.55zM50.6 86.9h.55v.55h-.55zM53.2 87.1h.55v.55h-.55zM53.2 83.8h.55v.55h-.55zM51.8 87.2h.55v.55h-.55zM55.3 91.2h.55v.55h-.55zM55.1 86.2h.55v.55h-.55zM47.0 88.8h.55v.55h-.55zM44.9 87.4h.55v.55h-.55zM56.3 82.6h.55v.55h-.55zM47.2 89.5h.55v.55h-.55zM58.1 101.7h.55v.55h-.55zM47.3 86.2h.55v.55h-.55zM51.3 85.1h.55v.55h-.55zM51.9 90.7h.55v.55h-.55zM52.7 90.1h.55v.55h-.55zM46.9 92.7h.55v.55h-.55zM49.8 90.0h.55v.55h-.55zM44.6 89.5h.55v.55h-.55zM49.8 83.9h.55v.55h-.55zM46.2 86.5h.55v.55h-.55zM50.1 85.3h.55v.55h-.55zM44.6 89.4h.55v.55h-.55zM44.0 90.9h.55v.55h-.55zM45.8 87.8h.55v.55h-.55zM55.5 75.8h.55v.55h-.55zM43.4 85.9h.55v.55h-.55zM49.3 83.8h.55v.55h-.55zM45.3 85.3h.55v.55h-.55zM45.0 89.6h.55v.55h-.55zM46.6 88.0h.55v.55h-.55zM50.2 93.0h.55v.55h-.55zM46.9 86.5h.55v.55h-.55zM52.1 76.2h.55v.55h-.55zM50.3 83.7h.55v.55h-.55zM54.3 87.1h.55v.55h-.55zM45.7 95.2h.55v.55h-.55zM47.3 83.8h.55v.55h-.55zM52.2 77.6h.55v.55h-.55zM49.1 93.2h.55v.55h-.55zM43.8 94.6h.55v.55h-.55zM48.5 85.7h.55v.55h-.55zM56.6 87.0h.55v.55h-.55zM51.8 77.7h.55v.55h-.55zM50.3 91.2h.55v.55h-.55zM46.2 85.2h.55v.55h-.55zM49.0 84.1h.55v.55h-.55zM54.3 92.4h.55v.55h-.55zM53.5 95.1h.55v.55h-.55zM48.4 71.4h.55v.55h-.55zM50.1 85.7h.55v.55h-.55zM44.2 91.9h.55v.55h-.55zM45.0 81.9h.55v.55h-.55zM61.8 86.6h.55v.55h-.55zM50.8 92.4h.55v.55h-.55zM52.9 88.3h.55v.55h-.55zM52.5 88.4h.55v.55h-.55zM47.7 87.4h.55v.55h-.55zM53.0 93.0h.55v.55h-.55zM52.1 80.0h.55v.55h-.55zM48.9 92.0h.55v.55h-.55zM48.0 91.9h.55v.55h-.55zM50.6 96.0h.55v.55h-.55zM55.2 93.0h.55v.55h-.55zM47.5 87.7h.55v.55h-.55zM48.3 91.5h.55v.55h-.55zM53.6 85.6h.55v.55h-.55zM55.2 91.7h.55v.55h-.55zM49.3 85.0h.55v.55h-.55zM50.4 88.7h.55v.55h-.55zM49.5 87.3h.55v.55h-.55zM51.4 85.5h.55v.55h-.55zM52.7 78.5h.55v.55h-.55zM50.3 86.1h.55v.55h-.55zM48.1 90.7h.55v.55h-.55zM46.9 70.2h.55v.55h-.55zM48.6 86.1h.55v.55h-.55zM46.8 93.0h.55v.55h-.55zM50.0 82.8h.55v.55h-.55zM45.7 94.6h.55v.55h-.55zM50.5 91.1h.55v.55h-.55zM50.1 90.2h.55v.55h-.55zM47.3 83.2h.55v.55h-.55zM45.2 83.8h.55v.55h-.55zM58.7 92.7h.55v.55h-.55zM50.3 88.3h.55v.55h-.55zM47.5 80.7h.55v.55h-.55zM57.2 83.2h.55v.55h-.55zM48.7 88.0h.55v.55h-.55zM43.4 87.8h.55v.55h-.55zM44.4 98.3h.55v.55h-.55zM50.2 97.6h.55v.55h-.55zM47.4 90.3h.55v.55h-.55zM52.6 89.4h.55v.55h-.55zM48.7 95.6h.55v.55h-.55zM51.8 89.4h.55v.55h-.55zM54.0 72.9h.55v.55h-.55zM44.9 91.8h.55v.55h-.55zM48.2 87.4h.55v.55h-.55zM56.7 86.0h.55v.55h-.55zM45.1 87.3h.55v.55h-.55zM55.2 85.2h.55v.55h-.55zM48.3 89.9h.55v.55h-.55zM48.5 91.0h.55v.55h-.55zM58.6 97.0h.55v.55h-.55zM55.6 94.6h.55v.55h-.55zM55.1 92.8h.55v.55h-.55zM53.1 86.7h.55v.55h-.55zM47.6 96.7h.55v.55h-.55zM44.3 85.6h.55v.55h-.55zM48.9 90.1h.55v.55h-.55zM46.7 86.3h.55v.55h-.55zM46.1 84.6h.55v.55h-.55zM48.1 108.7h.55v.55h-.55zM44.2 103.4h.55v.55h-.55zM43.9 90.0h.55v.55h-.55zM49.6 92.7h.55v.55h-.55zM48.5 82.6h.55v.55h-.55zM47.3 87.1h.55v.55h-.55zM50.5 80.1h.55v.55h-.55zM43.5 93.7h.55v.55h-.55zM45.3 85.1h.55v.55h-.55zM47.1 85.3h.55v.55h-.55zM52.6 90.3h.55v.55h-.55zM60.4 86.8h.55v.55h-.55zM51.8 84.9h.55v.55h-.55zM54.7 80.0h.55v.55h-.55zM45.9 87.7h.55v.55h-.55zM63.7 102.0h.55v.55h-.55zM59.8 88.9h.55v.55h-.55zM55.3 85.0h.55v.55h-.55zM59.7 100.6h.55v.55h-.55zM55.9 107.2h.55v.55h-.55zM56.4 110.4h.55v.55h-.55zM55.1 96.7h.55v.55h-.55zM61.6 120.8h.55v.55h-.55zM52.5 100.4h.55v.55h-.55zM53.5 86.6h.55v.55h-.55zM51.8 114.9h.55v.55h-.55zM51.8 107.3h.55v.55h-.55zM55.9 103.6h.55v.55h-.55zM58.9 111.9h.55v.55h-.55zM61.9 113.7h.55v.55h-.55zM54.6 128.1h.55v.55h-.55zM58.2 115.3h.55v.55h-.55zM58.2 106.4h.55v.55h-.55zM53.3 123.4h.55v.55h-.55zM54.1 106.7h.55v.55h-.55zM60.5 120.8h.55v.55h-.55zM62.4 112.1h.55v.55h-.55zM56.1 122.2h.55v.55h-.55zM50.3 117.8h.55v.55h-.55zM59.7 127.3h.55v.55h-.55zM62.6 113.3h.55v.55h-.55zM58.9 99.6h.55v.55h-.55zM59.2 101.6h.55v.55h-.55zM51.6 129.1h.55v.55h-.55zM64.0 108.8h.55v.55h-.55zM51.7 126.5h.55v.55h-.55zM55.8 116.9h.55v.55h-.55zM56.7 126.8h.55v.55h-.55zM61.8 108.3h.55v.55h-.55zM61.8 120.4h.55v.55h-.55zM62.6 98.6h.55v.55h-.55zM60.5 110.1h.55v.55h-.55zM58.0 93.1h.55v.55h-.55zM65.5 109.4h.55v.55h-.55zM58.8 93.9h.55v.55h-.55zM56.2 112.0h.55v.55h-.55zM57.5 97.9h.55v.55h-.55zM58.4 105.6h.55v.55h-.55zM60.6 97.6h.55v.55h-.55zM61.7 98.8h.55v.55h-.55zM52.6 115.2h.55v.55h-.55zM59.4 114.7h.55v.55h-.55zM54.8 106.9h.55v.55h-.55zM53.4 122.3h.55v.55h-.55zM50.0 96.9h.55v.55h-.55zM52.4 115.7h.55v.55h-.55zM51.1 118.7h.55v.55h-.55zM50.2 91.2h.55v.55h-.55zM58.3 114.5h.55v.55h-.55zM55.5 124.7h.55v.55h-.55zM55.3 104.4h.55v.55h-.55zM56.3 124.7h.55v.55h-.55zM62.5 121.9h.55v.55h-.55zM60.6 124.3h.55v.55h-.55zM58.9 84.2h.55v.55h-.55zM57.7 108.6h.55v.55h-.55zM52.3 89.5h.55v.55h-.55zM57.6 98.0h.55v.55h-.55zM57.0 101.0h.55v.55h-.55zM58.3 99.4h.55v.55h-.55zM57.9 109.5h.55v.55h-.55zM55.2 107.1h.55v.55h-.55zM58.1 80.9h.55v.55h-.55zM49.3 111.1h.55v.55h-.55zM57.1 112.6h.55v.55h-.55zM58.4 99.3h.55v.55h-.55zM62.2 118.3h.55v.55h-.55zM58.4 107.3h.55v.55h-.55zM54.2 103.5h.55v.55h-.55zM58.5 111.1h.55v.55h-.55zM60.3 112.6h.55v.55h-.55zM55.2 122.8h.55v.55h-.55zM51.3 95.2h.55v.55h-.55zM58.5 104.7h.55v.55h-.55zM51.3 93.8h.55v.55h-.55zM57.0 125.0h.55v.55h-.55zM62.7 108.9h.55v.55h-.55zM56.0 100.9h.55v.55h-.55zM64.5 109.0h.55v.55h-.55zM55.5 118.4h.55v.55h-.55zM61.6 110.4h.55v.55h-.55zM61.9 96.2h.55v.55h-.55zM58.8 116.5h.55v.55h-.55zM58.6 117.2h.55v.55h-.55zM57.7 116.3h.55v.55h-.55zM48.6 102.0h.55v.55h-.55zM60.4 97.9h.55v.55h-.55zM57.3 113.0h.55v.55h-.55zM58.5 129.0h.55v.55h-.55zM55.9 101.0h.55v.55h-.55zM58.1 125.4h.55v.55h-.55zM49.9 108.6h.55v.55h-.55zM55.4 111.5h.55v.55h-.55zM59.6 113.4h.55v.55h-.55zM50.7 107.4h.55v.55h-.55zM56.5 109.5h.55v.55h-.55zM61.2 106.5h.55v.55h-.55zM54.5 108.2h.55v.55h-.55zM57.1 117.6h.55v.55h-.55zM50.1 95.1h.55v.55h-.55zM56.7 120.2h.55v.55h-.55zM56.8 112.6h.55v.55h-.55zM64.0 111.3h.55v.55h-.55zM58.2 109.5h.55v.55h-.55zM60.9 115.6h.55v.55h-.55zM56.0 117.8h.55v.55h-.55zM58.8 104.7h.55v.55h-.55zM52.6 98.3h.55v.55h-.55zM56.6 107.8h.55v.55h-.55zM58.0 109.6h.55v.55h-.55zM57.6 122.4h.55v.55h-.55zM62.1 87.1h.55v.55h-.55zM59.2 110.3h.55v.55h-.55zM59.2 110.6h.55v.55h-.55zM58.4 107.6h.55v.55h-.55zM54.4 108.2h.55v.55h-.55zM60.2 110.4h.55v.55h-.55zM56.7 123.7h.55v.55h-.55zM60.4 100.4h.55v.55h-.55zM53.8 108.2h.55v.55h-.55zM58.9 121.4h.55v.55h-.55zM50.2 124.6h.55v.55h-.55zM57.2 112.4h.55v.55h-.55zM60.3 113.1h.55v.55h-.55zM57.8 120.9h.55v.55h-.55zM61.7 97.9h.55v.55h-.55zM50.7 98.5h.55v.55h-.55zM58.1 107.2h.55v.55h-.55zM56.2 104.6h.55v.55h-.55zM53.6 115.8h.55v.55h-.55zM56.8 113.3h.55v.55h-.55zM59.1 126.2h.55v.55h-.55zM65.5 103.6h.55v.55h-.55zM62.1 112.0h.55v.55h-.55zM58.8 122.4h.55v.55h-.55zM54.7 108.6h.55v.55h-.55zM60.9 116.6h.55v.55h-.55zM64.3 116.8h.55v.55h-.55zM57.5 108.8h.55v.55h-.55zM59.4 90.1h.55v.55h-.55zM62.2 113.6h.55v.55h-.55zM54.5 111.1h.55v.55h-.55zM59.2 97.1h.55v.55h-.55zM60.6 86.2h.55v.55h-.55zM62.8 106.9h.55v.55h-.55zM58.0 107.1h.55v.55h-.55zM54.6 120.6h.55v.55h-.55zM53.2 109.2h.55v.55h-.55zM59.2 96.7h.55v.55h-.55zM59.5 100.2h.55v.55h-.55zM60.5 106.3h.55v.55h-.55zM62.2 109.4h.55v.55h-.55zM53.0 120.7h.55v.55h-.55zM61.8 120.4h.55v.55h-.55zM51.1 98.3h.55v.55h-.55zM60.7 115.3h.55v.55h-.55zM55.8 108.0h.55v.55h-.55zM57.7 86.4h.55v.55h-.55zM52.2 96.7h.55v.55h-.55zM61.1 105.9h.55v.55h-.55zM48.7 108.3h.55v.55h-.55zM55.6 102.1h.55v.55h-.55zM51.2 100.0h.55v.55h-.55zM58.2 105.2h.55v.55h-.55zM60.0 124.6h.55v.55h-.55zM55.6 92.6h.55v.55h-.55zM53.1 110.7h.55v.55h-.55zM60.0 107.9h.55v.55h-.55zM56.8 112.4h.55v.55h-.55zM61.8 117.8h.55v.55h-.55zM55.5 103.4h.55v.55h-.55zM56.8 103.3h.55v.55h-.55zM53.1 121.3h.55v.55h-.55zM57.8 98.1h.55v.55h-.55zM58.6 98.4h.55v.55h-.55zM53.1 92.1h.55v.55h-.55zM52.3 104.6h.55v.55h-.55zM58.0 108.8h.55v.55h-.55zM58.1 110.4h.55v.55h-.55zM55.1 122.7h.55v.55h-.55zM52.5 98.8h.55v.55h-.55zM65.1 112.4h.55v.55h-.55zM52.6 127.5h.55v.55h-.55zM56.8 107.7h.55v.55h-.55zM53.0 109.2h.55v.55h-.55zM59.9 109.7h.55v.55h-.55zM55.0 114.2h.55v.55h-.55zM62.0 110.4h.55v.55h-.55zM55.3 105.5h.55v.55h-.55zM58.5 103.4h.55v.55h-.55zM62.5 103.7h.55v.55h-.55zM61.2 107.9h.55v.55h-.55zM59.9 97.3h.55v.55h-.55zM56.1 99.0h.55v.55h-.55zM53.8 109.4h.55v.55h-.55zM63.7 119.8h.55v.55h-.55zM57.0 103.5h.55v.55h-.55zM50.1 118.8h.55v.55h-.55zM52.2 109.3h.55v.55h-.55zM54.5 109.8h.55v.55h-.55zM63.6 108.9h.55v.55h-.55zM56.2 119.9h.55v.55h-.55zM54.9 88.6h.55v.55h-.55zM53.9 107.1h.55v.55h-.55zM53.8 120.7h.55v.55h-.55zM61.7 98.8h.55v.55h-.55zM57.1 112.2h.55v.55h-.55zM55.3 102.8h.55v.55h-.55zM58.7 105.4h.55v.55h-.55zM64.2 109.5h.55v.55h-.55zM57.0 112.0h.55v.55h-.55zM57.8 105.2h.55v.55h-.55zM59.3 118.8h.55v.55h-.55zM57.8 114.3h.55v.55h-.55zM51.4 105.1h.55v.55h-.55zM57.3 106.3h.55v.55h-.55zM61.3 113.9h.55v.55h-.55zM56.9 102.5h.55v.55h-.55zM55.4 107.0h.55v.55h-.55zM63.5 96.7h.55v.55h-.55zM60.7 105.7h.55v.55h-.55zM63.4 120.1h.55v.55h-.55zM53.5 113.7h.55v.55h-.55zM51.4 117.6h.55v.55h-.55zM56.4 98.3h.55v.55h-.55zM56.8 116.3h.55v.55h-.55zM66.7 119.2h.55v.55h-.55zM58.5 109.2h.55v.55h-.55zM48.0 93.7h.55v.55h-.55zM47.6 96.6h.55v.55h-.55zM60.9 123.9h.55v.55h-.55zM58.1 105.4h.55v.55h-.55zM57.6 125.1h.55v.55h-.55zM62.4 100.9h.55v.55h-.55zM57.5 100.8h.55v.55h-.55zM58.3 105.1h.55v.55h-.55zM53.3 117.5h.55v.55h-.55zM56.7 107.2h.55v.55h-.55zM60.4 114.8h.55v.55h-.55zM61.9 130.0h.55v.55h-.55zM52.0 115.1h.55v.55h-.55zM49.9 119.8h.55v.55h-.55zM64.7 99.4h.55v.55h-.55zM61.8 117.4h.55v.55h-.55zM58.5 85.8h.55v.55h-.55zM52.8 105.7h.55v.55h-.55zM57.2 111.3h.55v.55h-.55zM60.2 111.3h.55v.55h-.55zM56.2 99.0h.55v.55h-.55zM53.9 107.7h.55v.55h-.55zM65.9 105.9h.55v.55h-.55zM56.7 120.8h.55v.55h-.55zM60.2 116.8h.55v.55h-.55zM57.3 127.7h.55v.55h-.55zM54.7 125.5h.55v.55h-.55zM63.2 112.9h.55v.55h-.55zM54.8 103.1h.55v.55h-.55zM58.1 88.2h.55v.55h-.55zM62.1 100.5h.55v.55h-.55zM52.1 115.4h.55v.55h-.55zM57.3 100.4h.55v.55h-.55zM62.2 97.1h.55v.55h-.55zM54.7 92.6h.55v.55h-.55zM63.9 116.4h.55v.55h-.55zM51.2 115.5h.55v.55h-.55zM54.5 100.6h.55v.55h-.55zM56.3 88.4h.55v.55h-.55zM57.8 109.9h.55v.55h-.55zM62.9 100.3h.55v.55h-.55zM51.4 99.5h.55v.55h-.55zM54.6 119.1h.55v.55h-.55zM65.9 116.4h.55v.55h-.55zM58.7 97.6h.55v.55h-.55zM51.3 96.7h.55v.55h-.55zM59.6 122.4h.55v.55h-.55zM56.1 95.7h.55v.55h-.55zM60.0 108.8h.55v.55h-.55zM54.0 92.7h.55v.55h-.55zM49.7 126.5h.55v.55h-.55zM55.1 113.3h.55v.55h-.55zM58.9 119.6h.55v.55h-.55zM65.9 108.0h.55v.55h-.55zM61.8 100.4h.55v.55h-.55zM51.3 109.7h.55v.55h-.55zM49.1 93.2h.55v.55h-.55zM53.9 116.8h.55v.55h-.55zM56.1 90.3h.55v.55h-.55zM56.8 103.5h.55v.55h-.55zM54.9 103.5h.55v.55h-.55zM56.5 118.4h.55v.55h-.55zM59.0 110.3h.55v.55h-.55zM53.6 92.7h.55v.55h-.55zM64.6 126.6h.55v.55h-.55zM50.2 114.1h.55v.55h-.55zM58.6 111.2h.55v.55h-.55zM57.7 105.4h.55v.55h-.55zM62.7 113.8h.55v.55h-.55zM61.0 113.1h.55v.55h-.55zM57.8 105.0h.55v.55h-.55zM61.8 89.8h.55v.55h-.55zM62.5 107.6h.55v.55h-.55zM58.0 104.2h.55v.55h-.55zM49.7 99.9h.55v.55h-.55zM58.6 105.0h.55v.55h-.55zM58.9 100.2h.55v.55h-.55zM49.9 108.5h.55v.55h-.55zM55.3 101.5h.55v.55h-.55zM62.7 90.0h.55v.55h-.55zM57.5 106.7h.55v.55h-.55zM62.2 111.4h.55v.55h-.55zM58.4 112.7h.55v.55h-.55zM57.9 107.5h.55v.55h-.55zM56.3 119.2h.55v.55h-.55zM65.8 99.0h.55v.55h-.55zM58.0 98.1h.55v.55h-.55zM64.6 129.0h.55v.55h-.55zM58.0 125.5h.55v.55h-.55zM57.9 97.1h.55v.55h-.55zM64.1 92.9h.55v.55h-.55zM52.8 122.9h.55v.55h-.55zM60.5 116.5h.55v.55h-.55zM55.5 102.2h.55v.55h-.55zM52.3 123.3h.55v.55h-.55zM58.8 116.0h.55v.55h-.55zM54.8 104.8h.55v.55h-.55zM59.0 101.2h.55v.55h-.55zM61.1 121.7h.55v.55h-.55zM52.0 116.8h.55v.55h-.55zM58.0 112.3h.55v.55h-.55zM55.6 122.7h.55v.55h-.55zM57.9 117.1h.55v.55h-.55zM58.5 103.0h.55v.55h-.55zM52.4 128.3h.55v.55h-.55zM63.9 109.8h.55v.55h-.55zM61.3 124.5h.55v.55h-.55zM63.0 120.6h.55v.55h-.55zM56.5 117.6h.55v.55h-.55zM55.0 112.7h.55v.55h-.55zM53.3 92.3h.55v.55h-.55zM53.4 93.0h.55v.55h-.55zM58.7 117.4h.55v.55h-.55zM58.9 101.7h.55v.55h-.55zM56.9 95.8h.55v.55h-.55zM58.7 116.3h.55v.55h-.55zM64.6 99.0h.55v.55h-.55zM56.4 108.9h.55v.55h-.55zM66.4 112.7h.55v.55h-.55zM58.9 93.8h.55v.55h-.55zM62.5 117.4h.55v.55h-.55zM55.5 100.2h.55v.55h-.55zM58.0 103.4h.55v.55h-.55zM66.0 104.0h.55v.55h-.55zM55.1 118.3h.55v.55h-.55zM58.0 100.3h.55v.55h-.55zM51.8 101.1h.55v.55h-.55zM63.3 103.8h.55v.55h-.55zM56.4 120.1h.55v.55h-.55zM63.4 119.0h.55v.55h-.55zM58.6 103.5h.55v.55h-.55zM53.4 111.8h.55v.55h-.55zM56.8 112.6h.55v.55h-.55zM48.9 94.9h.55v.55h-.55zM60.2 126.2h.55v.55h-.55zM57.7 96.5h.55v.55h-.55zM59.4 100.6h.55v.55h-.55zM55.9 107.2h.55v.55h-.55zM60.1 122.0h.55v.55h-.55zM59.5 99.6h.55v.55h-.55zM61.3 104.8h.55v.55h-.55zM51.1 120.3h.55v.55h-.55zM64.6 98.7h.55v.55h-.55zM55.5 103.6h.55v.55h-.55zM55.2 123.1h.55v.55h-.55zM60.3 112.1h.55v.55h-.55zM57.7 101.9h.55v.55h-.55zM55.0 102.5h.55v.55h-.55zM59.4 117.4h.55v.55h-.55zM55.6 118.0h.55v.55h-.55zM52.8 104.2h.55v.55h-.55zM56.7 119.1h.55v.55h-.55zM58.1 100.6h.55v.55h-.55zM59.3 118.8h.55v.55h-.55zM52.6 86.8h.55v.55h-.55zM59.3 98.9h.55v.55h-.55zM61.1 130.0h.55v.55h-.55zM62.1 113.6h.55v.55h-.55zM60.4 108.3h.55v.55h-.55zM53.6 108.7h.55v.55h-.55zM55.3 112.7h.55v.55h-.55zM52.4 98.5h.55v.55h-.55zM57.4 111.2h.55v.55h-.55zM57.2 120.3h.55v.55h-.55zM51.2 116.9h.55v.55h-.55zM56.0 109.6h.55v.55h-.55zM61.3 111.4h.55v.55h-.55zM60.6 127.4h.55v.55h-.55zM56.8 90.1h.55v.55h-.55zM55.0 104.9h.55v.55h-.55zM57.9 101.2h.55v.55h-.55zM57.6 112.7h.55v.55h-.55zM49.3 127.4h.55v.55h-.55zM54.6 95.2h.55v.55h-.55zM53.9 118.1h.55v.55h-.55zM69.5 88.1h.55v.55h-.55zM54.3 122.7h.55v.55h-.55zM54.3 110.6h.55v.55h-.55zM55.3 109.7h.55v.55h-.55zM58.2 99.3h.55v.55h-.55zM53.1 94.2h.55v.55h-.55zM61.6 109.0h.55v.55h-.55zM62.1 116.9h.55v.55h-.55zM55.8 103.0h.55v.55h-.55zM57.6 101.2h.55v.55h-.55zM56.9 114.6h.55v.55h-.55zM52.1 97.4h.55v.55h-.55zM55.8 101.2h.55v.55h-.55zM56.6 113.5h.55v.55h-.55zM58.4 117.5h.55v.55h-.55zM57.3 113.1h.55v.55h-.55zM56.5 110.9h.55v.55h-.55zM56.7 110.0h.55v.55h-.55zM55.7 113.4h.55v.55h-.55zM60.2 124.5h.55v.55h-.55zM63.3 118.4h.55v.55h-.55zM54.6 95.7h.55v.55h-.55zM50.7 106.6h.55v.55h-.55zM57.8 121.0h.55v.55h-.55zM57.4 110.1h.55v.55h-.55zM52.2 117.7h.55v.55h-.55zM64.5 105.5h.55v.55h-.55zM65.4 118.1h.55v.55h-.55zM53.7 116.9h.55v.55h-.55zM57.9 114.1h.55v.55h-.55zM52.2 114.1h.55v.55h-.55zM60.5 97.0h.55v.55h-.55zM58.9 123.8h.55v.55h-.55zM58.3 102.5h.55v.55h-.55zM56.2 118.2h.55v.55h-.55zM59.2 108.9h.55v.55h-.55zM54.4 102.3h.55v.55h-.55zM56.3 97.2h.55v.55h-.55zM56.2 109.5h.55v.55h-.55zM57.5 116.6h.55v.55h-.55zM56.0 115.9h.55v.55h-.55zM53.6 98.1h.55v.55h-.55zM54.6 115.5h.55v.55h-.55zM54.4 102.0h.55v.55h-.55zM57.9 88.2h.55v.55h-.55zM55.2 84.4h.55v.55h-.55zM54.5 130.4h.55v.55h-.55zM50.4 122.1h.55v.55h-.55zM54.6 103.9h.55v.55h-.55zM54.7 110.7h.55v.55h-.55zM55.1 107.1h.55v.55h-.55zM59.9 113.2h.55v.55h-.55zM57.4 102.6h.55v.55h-.55zM57.8 107.6h.55v.55h-.55zM56.8 110.9h.55v.55h-.55zM54.9 95.9h.55v.55h-.55zM58.6 90.2h.55v.55h-.55zM60.5 103.7h.55v.55h-.55zM53.3 121.2h.55v.55h-.55zM54.4 110.6h.55v.55h-.55zM53.4 114.5h.55v.55h-.55zM58.3 107.1h.55v.55h-.55zM56.1 93.0h.55v.55h-.55zM61.4 102.7h.55v.55h-.55zM56.4 104.6h.55v.55h-.55zM57.9 107.4h.55v.55h-.55zM55.5 106.6h.55v.55h-.55zM57.8 126.6h.55v.55h-.55zM52.5 121.2h.55v.55h-.55zM57.3 114.9h.55v.55h-.55zM54.3 120.7h.55v.55h-.55zM59.9 89.5h.55v.55h-.55zM50.1 128.2h.55v.55h-.55zM54.6 107.3h.55v.55h-.55zM51.0 109.6h.55v.55h-.55zM57.2 104.5h.55v.55h-.55zM62.0 107.6h.55v.55h-.55zM60.3 110.3h.55v.55h-.55zM57.7 106.8h.55v.55h-.55zM54.7 125.3h.55v.55h-.55zM61.4 122.6h.55v.55h-.55zM54.3 105.4h.55v.55h-.55zM57.6 106.0h.55v.55h-.55zM59.4 127.5h.55v.55h-.55zM54.8 105.4h.55v.55h-.55zM50.9 123.3h.55v.55h-.55zM57.7 113.6h.55v.55h-.55zM54.3 110.1h.55v.55h-.55zM55.8 102.5h.55v.55h-.55zM59.1 124.1h.55v.55h-.55zM61.9 106.5h.55v.55h-.55zM69.1 102.8h.55v.55h-.55zM57.1 95.6h.55v.55h-.55zM55.9 113.2h.55v.55h-.55zM54.5 108.8h.55v.55h-.55zM53.1 105.2h.55v.55h-.55zM52.1 105.0h.55v.55h-.55zM48.5 100.7h.55v.55h-.55zM55.1 108.2h.55v.55h-.55zM61.9 98.0h.55v.55h-.55zM54.1 118.8h.55v.55h-.55zM53.3 105.8h.55v.55h-.55zM50.1 75.9h.55v.55h-.55zM65.5 117.9h.55v.55h-.55zM65.0 108.6h.55v.55h-.55zM51.3 113.7h.55v.55h-.55zM53.2 112.2h.55v.55h-.55zM58.5 116.1h.55v.55h-.55zM53.8 111.3h.55v.55h-.55zM58.4 124.6h.55v.55h-.55zM55.5 130.4h.55v.55h-.55zM59.4 114.1h.55v.55h-.55zM54.5 113.5h.55v.55h-.55zM59.4 99.1h.55v.55h-.55zM59.5 112.8h.55v.55h-.55zM55.9 101.0h.55v.55h-.55zM56.2 117.2h.55v.55h-.55zM63.7 111.5h.55v.55h-.55zM55.6 117.3h.55v.55h-.55zM60.7 118.0h.55v.55h-.55zM56.3 83.4h.55v.55h-.55zM57.7 109.2h.55v.55h-.55zM52.4 110.3h.55v.55h-.55zM53.0 106.5h.55v.55h-.55zM61.8 103.5h.55v.55h-.55zM47.6 121.1h.55v.55h-.55zM56.5 109.8h.55v.55h-.55zM49.8 89.6h.55v.55h-.55zM55.5 104.0h.55v.55h-.55zM57.6 107.5h.55v.55h-.55zM58.2 105.1h.55v.55h-.55zM58.4 104.2h.55v.55h-.55zM58.8 116.7h.55v.55h-.55zM50.9 109.6h.55v.55h-.55zM55.5 109.7h.55v.55h-.55zM64.2 103.1h.55v.55h-.55zM56.3 112.3h.55v.55h-.55zM48.3 125.2h.55v.55h-.55zM59.3 108.1h.55v.55h-.55zM53.7 124.4h.55v.55h-.55zM63.7 101.1h.55v.55h-.55zM58.8 95.7h.55v.55h-.55zM58.0 102.5h.55v.55h-.55zM59.3 105.7h.55v.55h-.55zM61.9 123.2h.55v.55h-.55zM63.7 109.0h.55v.55h-.55zM55.8 106.7h.55v.55h-.55zM54.5 108.8h.55v.55h-.55zM53.0 107.1h.55v.55h-.55zM60.2 120.6h.55v.55h-.55zM58.6 93.2h.55v.55h-.55zM63.0 129.9h.55v.55h-.55zM60.4 105.7h.55v.55h-.55zM59.6 109.0h.55v.55h-.55zM50.8 122.4h.55v.55h-.55zM60.4 115.7h.55v.55h-.55zM59.8 110.5h.55v.55h-.55zM52.3 126.4h.55v.55h-.55zM55.7 106.5h.55v.55h-.55zM58.9 92.2h.55v.55h-.55zM56.1 116.4h.55v.55h-.55zM56.1 84.2h.55v.55h-.55zM57.7 119.7h.55v.55h-.55zM57.7 110.7h.55v.55h-.55zM58.8 121.2h.55v.55h-.55zM58.1 109.4h.55v.55h-.55zM58.4 97.2h.55v.55h-.55zM65.0 92.0h.55v.55h-.55zM56.4 101.8h.55v.55h-.55zM57.5 109.1h.55v.55h-.55zM61.1 109.1h.55v.55h-.55zM53.1 110.1h.55v.55h-.55zM55.6 120.8h.55v.55h-.55zM57.1 123.3h.55v.55h-.55zM54.1 113.4h.55v.55h-.55zM59.3 110.2h.55v.55h-.55zM58.2 93.1h.55v.55h-.55zM52.5 109.6h.55v.55h-.55zM59.4 103.6h.55v.55h-.55zM59.6 110.2h.55v.55h-.55zM51.5 116.0h.55v.55h-.55zM55.0 122.6h.55v.55h-.55zM53.2 110.5h.55v.55h-.55zM56.8 126.2h.55v.55h-.55zM51.9 108.7h.55v.55h-.55zM53.9 113.5h.55v.55h-.55zM49.9 113.1h.55v.55h-.55zM55.8 125.5h.55v.55h-.55zM55.1 115.9h.55v.55h-.55zM48.3 98.1h.55v.55h-.55zM49.0 116.5h.55v.55h-.55zM45.8 115.8h.55v.55h-.55zM46.1 114.4h.55v.55h-.55zM53.6 112.3h.55v.55h-.55zM53.4 103.4h.55v.55h-.55zM50.4 108.4h.55v.55h-.55zM50.4 112.0h.55v.55h-.55zM50.8 105.4h.55v.55h-.55zM47.8 96.2h.55v.55h-.55zM48.8 89.7h.55v.55h-.55zM51.7 129.3h.55v.55h-.55zM47.6 108.1h.55v.55h-.55zM50.4 115.8h.55v.55h-.55zM53.7 107.4h.55v.55h-.55zM48.5 115.8h.55v.55h-.55zM52.1 101.2h.55v.55h-.55zM52.5 127.4h.55v.55h-.55zM48.5 102.8h.55v.55h-.55zM43.5 126.9h.55v.55h-.55zM51.0 115.8h.55v.55h-.55zM54.8 101.4h.55v.55h-.55zM56.1 106.4h.55v.55h-.55zM55.3 112.0h.55v.55h-.55zM56.8 117.2h.55v.55h-.55zM49.9 121.0h.55v.55h-.55zM47.0 117.9h.55v.55h-.55zM43.3 110.7h.55v.55h-.55zM59.5 120.2h.55v.55h-.55zM45.3 124.0h.55v.55h-.55zM48.6 115.7h.55v.55h-.55zM48.3 117.6h.55v.55h-.55zM47.5 124.6h.55v.55h-.55zM48.6 106.7h.55v.55h-.55zM48.1 100.0h.55v.55h-.55zM53.4 122.1h.55v.55h-.55zM56.9 116.6h.55v.55h-.55zM49.3 123.9h.55v.55h-.55zM57.2 106.6h.55v.55h-.55zM43.9 107.8h.55v.55h-.55zM50.1 122.1h.55v.55h-.55zM55.5 115.5h.55v.55h-.55zM55.8 109.9h.55v.55h-.55zM49.6 92.6h.55v.55h-.55zM47.6 110.1h.55v.55h-.55zM56.0 111.3h.55v.55h-.55zM48.4 113.4h.55v.55h-.55zM48.4 94.8h.55v.55h-.55zM46.9 110.8h.55v.55h-.55zM49.1 106.4h.55v.55h-.55zM47.9 117.5h.55v.55h-.55zM47.2 110.1h.55v.55h-.55zM50.3 118.3h.55v.55h-.55zM44.5 97.2h.55v.55h-.55zM50.9 113.1h.55v.55h-.55zM46.5 110.2h.55v.55h-.55zM46.0 124.7h.55v.55h-.55zM58.5 122.3h.55v.55h-.55zM44.3 118.3h.55v.55h-.55zM51.7 112.8h.55v.55h-.55zM49.4 109.8h.55v.55h-.55zM47.2 106.1h.55v.55h-.55zM52.8 106.2h.55v.55h-.55zM46.9 117.0h.55v.55h-.55zM59.0 127.2h.55v.55h-.55zM45.4 100.4h.55v.55h-.55zM47.0 114.8h.55v.55h-.55zM47.4 107.1h.55v.55h-.55zM60.3 100.8h.55v.55h-.55zM53.4 110.7h.55v.55h-.55zM47.2 129.2h.55v.55h-.55zM43.8 114.5h.55v.55h-.55zM49.2 106.0h.55v.55h-.55zM48.0 112.9h.55v.55h-.55zM62.9 116.6h.55v.55h-.55zM48.8 99.6h.55v.55h-.55zM51.2 119.2h.55v.55h-.55zM64.0 98.1h.55v.55h-.55zM49.5 105.7h.55v.55h-.55zM50.7 111.3h.55v.55h-.55zM49.3 122.4h.55v.55h-.55zM54.3 108.8h.55v.55h-.55zM56.2 121.1h.55v.55h-.55zM48.8 108.0h.55v.55h-.55zM48.2 103.7h.55v.55h-.55zM56.8 90.5h.55v.55h-.55zM48.5 103.5h.55v.55h-.55zM48.1 115.6h.55v.55h-.55zM55.4 116.5h.55v.55h-.55zM53.5 122.0h.55v.55h-.55zM51.4 122.3h.55v.55h-.55zM54.5 106.0h.55v.55h-.55zM53.8 108.5h.55v.55h-.55zM55.2 122.6h.55v.55h-.55zM43.2 117.4h.55v.55h-.55zM45.3 107.4h.55v.55h-.55zM47.7 116.8h.55v.55h-.55zM53.4 111.7h.55v.55h-.55zM55.8 88.6h.55v.55h-.55zM47.1 106.8h.55v.55h-.55zM51.2 109.6h.55v.55h-.55zM55.1 108.5h.55v.55h-.55zM45.6 94.6h.55v.55h-.55zM53.2 102.9h.55v.55h-.55zM53.2 108.4h.55v.55h-.55zM54.3 123.8h.55v.55h-.55zM52.3 103.7h.55v.55h-.55zM55.2 113.8h.55v.55h-.55zM50.3 115.4h.55v.55h-.55zM53.4 122.5h.55v.55h-.55zM43.5 123.0h.55v.55h-.55zM51.3 124.0h.55v.55h-.55zM49.5 119.3h.55v.55h-.55zM54.8 124.0h.55v.55h-.55zM48.5 125.1h.55v.55h-.55zM47.6 101.4h.55v.55h-.55zM46.0 100.4h.55v.55h-.55zM57.0 120.9h.55v.55h-.55zM51.3 114.0h.55v.55h-.55zM47.4 105.9h.55v.55h-.55zM54.3 111.3h.55v.55h-.55zM45.6 114.5h.55v.55h-.55zM46.8 109.8h.55v.55h-.55zM53.9 110.2h.55v.55h-.55zM62.7 99.4h.55v.55h-.55zM45.2 126.1h.55v.55h-.55zM51.1 110.5h.55v.55h-.55zM54.8 110.4h.55v.55h-.55zM45.2 125.8h.55v.55h-.55zM50.6 113.8h.55v.55h-.55zM50.9 111.7h.55v.55h-.55zM45.8 103.1h.55v.55h-.55zM50.4 110.2h.55v.55h-.55zM48.0 115.0h.55v.55h-.55zM49.2 111.3h.55v.55h-.55zM45.6 119.1h.55v.55h-.55zM51.5 123.7h.55v.55h-.55zM52.7 103.0h.55v.55h-.55zM46.9 110.5h.55v.55h-.55zM55.6 112.5h.55v.55h-.55zM50.0 124.7h.55v.55h-.55zM54.4 117.8h.55v.55h-.55zM59.9 118.1h.55v.55h-.55zM56.4 128.6h.55v.55h-.55zM54.0 94.5h.55v.55h-.55zM51.9 110.3h.55v.55h-.55zM45.7 121.2h.55v.55h-.55zM46.4 123.5h.55v.55h-.55zM52.3 107.6h.55v.55h-.55zM45.8 128.6h.55v.55h-.55zM49.0 115.2h.55v.55h-.55zM49.9 104.5h.55v.55h-.55zM48.4 110.3h.55v.55h-.55zM45.5 114.9h.55v.55h-.55zM50.8 101.1h.55v.55h-.55zM46.9 112.9h.55v.55h-.55zM45.9 96.7h.55v.55h-.55zM54.3 112.0h.55v.55h-.55zM48.3 107.8h.55v.55h-.55zM51.7 108.2h.55v.55h-.55zM50.2 121.9h.55v.55h-.55zM57.0 126.9h.55v.55h-.55zM45.0 111.6h.55v.55h-.55zM43.6 102.4h.55v.55h-.55zM43.1 108.4h.55v.55h-.55zM47.8 103.2h.55v.55h-.55zM49.5 116.6h.55v.55h-.55zM47.5 104.5h.55v.55h-.55zM53.8 109.9h.55v.55h-.55zM51.1 102.5h.55v.55h-.55zM52.8 119.4h.55v.55h-.55zM44.8 102.3h.55v.55h-.55zM47.9 117.3h.55v.55h-.55zM53.7 122.0h.55v.55h-.55zM45.4 94.5h.55v.55h-.55zM45.5 112.5h.55v.55h-.55zM52.1 99.8h.55v.55h-.55zM49.7 108.8h.55v.55h-.55zM52.2 103.9h.55v.55h-.55zM49.1 108.9h.55v.55h-.55zM51.2 112.0h.55v.55h-.55zM51.9 113.7h.55v.55h-.55zM54.1 103.3h.55v.55h-.55zM67.0 124.4h.55v.55h-.55zM43.1 117.7h.55v.55h-.55zM47.5 104.8h.55v.55h-.55zM56.0 91.1h.55v.55h-.55zM46.1 116.5h.55v.55h-.55zM47.7 111.9h.55v.55h-.55zM57.3 112.9h.55v.55h-.55zM55.1 124.3h.55v.55h-.55zM47.2 108.4h.55v.55h-.55zM56.8 117.6h.55v.55h-.55zM45.6 111.3h.55v.55h-.55zM52.3 100.2h.55v.55h-.55zM45.2 98.7h.55v.55h-.55zM48.6 112.8h.55v.55h-.55zM49.2 110.6h.55v.55h-.55zM51.4 115.4h.55v.55h-.55zM49.7 125.1h.55v.55h-.55zM55.8 106.8h.55v.55h-.55zM57.3 126.1h.55v.55h-.55zM47.7 106.8h.55v.55h-.55zM50.3 106.5h.55v.55h-.55zM45.3 106.5h.55v.55h-.55zM59.2 125.2h.55v.55h-.55zM51.6 120.1h.55v.55h-.55zM47.4 106.6h.55v.55h-.55zM53.5 116.3h.55v.55h-.55zM43.5 123.4h.55v.55h-.55zM56.0 124.9h.55v.55h-.55zM64.2 109.7h.55v.55h-.55zM49.3 115.9h.55v.55h-.55zM50.5 102.3h.55v.55h-.55zM48.6 108.9h.55v.55h-.55zM54.9 110.0h.55v.55h-.55zM50.6 111.8h.55v.55h-.55zM48.5 121.7h.55v.55h-.55zM47.7 116.5h.55v.55h-.55zM56.3 110.6h.55v.55h-.55zM55.6 107.8h.55v.55h-.55zM51.6 99.4h.55v.55h-.55zM55.0 122.6h.55v.55h-.55zM49.9 97.7h.55v.55h-.55zM48.4 112.2h.55v.55h-.55zM56.3 91.3h.55v.55h-.55zM51.3 113.1h.55v.55h-.55zM54.9 103.7h.55v.55h-.55zM44.6 103.4h.55v.55h-.55zM47.7 116.4h.55v.55h-.55zM53.3 108.3h.55v.55h-.55zM52.8 102.4h.55v.55h-.55zM49.4 96.2h.55v.55h-.55zM57.1 100.5h.55v.55h-.55zM45.6 127.1h.55v.55h-.55zM54.9 102.6h.55v.55h-.55zM51.5 103.6h.55v.55h-.55zM47.0 127.6h.55v.55h-.55zM47.4 104.7h.55v.55h-.55zM62.6 96.9h.55v.55h-.55zM45.9 96.7h.55v.55h-.55zM46.5 107.6h.55v.55h-.55zM52.3 98.7h.55v.55h-.55zM53.4 106.3h.55v.55h-.55zM57.1 106.8h.55v.55h-.55zM50.0 94.7h.55v.55h-.55zM60.3 96.9h.55v.55h-.55zM48.6 110.1h.55v.55h-.55zM50.2 118.0h.55v.55h-.55zM53.1 118.8h.55v.55h-.55zM60.9 123.2h.55v.55h-.55zM52.2 104.6h.55v.55h-.55zM47.6 97.8h.55v.55h-.55zM44.6 130.0h.55v.55h-.55zM50.5 111.1h.55v.55h-.55zM53.0 105.0h.55v.55h-.55zM51.7 111.2h.55v.55h-.55zM53.3 103.0h.55v.55h-.55zM49.0 122.3h.55v.55h-.55zM52.7 103.8h.55v.55h-.55zM51.9 106.7h.55v.55h-.55zM45.0 111.3h.55v.55h-.55zM51.2 117.6h.55v.55h-.55zM52.3 115.5h.55v.55h-.55zM46.6 115.2h.55v.55h-.55zM49.7 108.1h.55v.55h-.55zM47.1 109.5h.55v.55h-.55zM50.4 110.5h.55v.55h-.55zM49.1 116.6h.55v.55h-.55zM45.2 117.3h.55v.55h-.55zM55.1 106.7h.55v.55h-.55zM60.1 98.6h.55v.55h-.55zM52.3 113.2h.55v.55h-.55zM51.5 105.0h.55v.55h-.55zM53.8 113.2h.55v.55h-.55zM53.6 114.6h.55v.55h-.55zM51.2 111.8h.55v.55h-.55zM46.6 110.3h.55v.55h-.55zM49.8 106.6h.55v.55h-.55zM49.8 101.1h.55v.55h-.55zM52.0 111.2h.55v.55h-.55zM44.8 110.8h.55v.55h-.55zM58.3 104.2h.55v.55h-.55zM51.0 103.0h.55v.55h-.55zM48.1 118.5h.55v.55h-.55zM52.0 111.4h.55v.55h-.55zM54.7 121.6h.55v.55h-.55zM60.3 95.3h.55v.55h-.55zM46.1 120.2h.55v.55h-.55zM50.4 106.5h.55v.55h-.55zM48.4 103.0h.55v.55h-.55zM54.5 114.4h.55v.55h-.55zM49.5 95.9h.55v.55h-.55zM46.8 98.8h.55v.55h-.55zM47.1 117.7h.55v.55h-.55zM45.7 117.8h.55v.55h-.55zM45.2 128.6h.55v.55h-.55zM49.1 107.1h.55v.55h-.55zM53.8 119.6h.55v.55h-.55zM45.0 101.5h.55v.55h-.55zM44.1 117.2h.55v.55h-.55zM46.7 107.4h.55v.55h-.55zM51.6 104.2h.55v.55h-.55zM51.9 115.7h.55v.55h-.55zM46.6 103.8h.55v.55h-.55zM55.8 96.8h.55v.55h-.55zM50.9 127.6h.55v.55h-.55zM47.4 101.4h.55v.55h-.55zM53.1 111.8h.55v.55h-.55zM45.5 116.5h.55v.55h-.55zM49.1 124.4h.55v.55h-.55zM53.5 103.9h.55v.55h-.55zM53.4 115.4h.55v.55h-.55zM48.9 102.2h.55v.55h-.55zM53.7 113.9h.55v.55h-.55zM45.7 110.5h.55v.55h-.55zM51.3 120.5h.55v.55h-.55zM58.0 124.1h.55v.55h-.55zM47.6 121.1h.55v.55h-.55zM44.6 110.7h.55v.55h-.55zM52.6 109.5h.55v.55h-.55zM47.1 112.2h.55v.55h-.55zM57.2 117.2h.55v.55h-.55zM45.8 124.7h.55v.55h-.55zM48.6 112.2h.55v.55h-.55zM51.0 113.0h.55v.55h-.55zM45.5 107.8h.55v.55h-.55zM48.9 119.3h.55v.55h-.55zM57.2 101.4h.55v.55h-.55zM49.9 107.4h.55v.55h-.55zM43.6 124.1h.55v.55h-.55zM52.3 125.8h.55v.55h-.55zM57.1 122.4h.55v.55h-.55zM49.8 118.9h.55v.55h-.55zM52.4 111.0h.55v.55h-.55zM53.4 107.6h.55v.55h-.55zM49.5 116.9h.55v.55h-.55zM54.6 115.1h.55v.55h-.55zM45.9 114.7h.55v.55h-.55zM60.5 112.8h.55v.55h-.55zM53.9 101.4h.55v.55h-.55zM51.9 115.9h.55v.55h-.55zM46.9 112.5h.55v.55h-.55zM49.3 118.2h.55v.55h-.55zM50.9 98.7h.55v.55h-.55zM47.3 103.2h.55v.55h-.55zM44.8 113.8h.55v.55h-.55zM60.9 120.9h.55v.55h-.55zM49.1 114.5h.55v.55h-.55zM53.9 117.4h.55v.55h-.55zM48.7 101.7h.55v.55h-.55zM59.7 123.2h.55v.55h-.55zM70.3 110.6h.55v.55h-.55zM71.0 102.0h.55v.55h-.55zM63.6 108.7h.55v.55h-.55zM58.1 100.6h.55v.55h-.55zM67.6 104.7h.55v.55h-.55zM56.1 101.6h.55v.55h-.55zM68.1 105.8h.55v.55h-.55zM74.0 121.7h.55v.55h-.55zM61.3 113.7h.55v.55h-.55zM65.6 102.4h.55v.55h-.55zM70.6 116.2h.55v.55h-.55zM55.6 95.4h.55v.55h-.55zM72.9 114.9h.55v.55h-.55zM71.6 115.5h.55v.55h-.55zM62.1 101.5h.55v.55h-.55zM61.1 113.1h.55v.55h-.55zM71.1 94.0h.55v.55h-.55zM56.6 112.0h.55v.55h-.55zM60.1 111.4h.55v.55h-.55zM60.1 100.4h.55v.55h-.55zM59.4 110.4h.55v.55h-.55zM69.5 102.5h.55v.55h-.55zM63.7 104.8h.55v.55h-.55zM67.8 107.7h.55v.55h-.55zM66.7 103.3h.55v.55h-.55zM65.7 107.4h.55v.55h-.55zM65.2 110.1h.55v.55h-.55zM58.6 113.2h.55v.55h-.55zM73.5 109.1h.55v.55h-.55zM56.1 117.4h.55v.55h-.55zM64.9 109.2h.55v.55h-.55zM66.8 124.3h.55v.55h-.55zM60.1 108.7h.55v.55h-.55zM64.1 114.1h.55v.55h-.55zM71.0 115.9h.55v.55h-.55zM68.1 111.4h.55v.55h-.55zM68.7 112.7h.55v.55h-.55zM69.1 104.7h.55v.55h-.55zM80.4 111.7h.55v.55h-.55zM50.1 109.4h.55v.55h-.55zM67.6 99.2h.55v.55h-.55zM65.8 108.1h.55v.55h-.55zM62.1 110.8h.55v.55h-.55zM57.4 118.9h.55v.55h-.55zM55.5 95.0h.55v.55h-.55zM67.4 92.4h.55v.55h-.55zM71.6 114.1h.55v.55h-.55zM70.6 95.6h.55v.55h-.55zM68.7 100.3h.55v.55h-.55zM71.0 115.0h.55v.55h-.55zM56.7 102.4h.55v.55h-.55zM57.4 120.6h.55v.55h-.55zM73.1 98.7h.55v.55h-.55zM65.4 83.8h.55v.55h-.55zM70.7 112.0h.55v.55h-.55zM60.1 111.0h.55v.55h-.55zM63.1 100.3h.55v.55h-.55zM65.0 109.3h.55v.55h-.55zM72.6 110.7h.55v.55h-.55zM64.1 113.2h.55v.55h-.55zM68.4 108.4h.55v.55h-.55zM68.9 116.2h.55v.55h-.55zM66.8 116.8h.55v.55h-.55zM65.9 104.8h.55v.55h-.55zM59.0 98.3h.55v.55h-.55zM81.9 93.5h.55v.55h-.55zM66.7 110.2h.55v.55h-.55zM61.5 99.9h.55v.55h-.55zM72.7 102.0h.55v.55h-.55zM66.4 106.9h.55v.55h-.55zM62.1 109.0h.55v.55h-.55zM67.0 110.8h.55v.55h-.55zM71.6 105.3h.55v.55h-.55zM69.0 94.8h.55v.55h-.55zM67.8 101.7h.55v.55h-.55zM66.7 99.2h.55v.55h-.55zM74.3 103.2h.55v.55h-.55zM77.9 96.1h.55v.55h-.55zM62.5 113.9h.55v.55h-.55zM77.3 108.3h.55v.55h-.55zM63.3 104.8h.55v.55h-.55zM55.7 94.7h.55v.55h-.55zM82.4 96.9h.55v.55h-.55zM63.6 113.2h.55v.55h-.55zM69.3 108.1h.55v.55h-.55zM65.6 119.2h.55v.55h-.55zM79.8 108.7h.55v.55h-.55zM58.9 95.3h.55v.55h-.55zM64.4 117.5h.55v.55h-.55zM68.5 106.0h.55v.55h-.55zM69.0 110.1h.55v.55h-.55zM67.1 112.8h.55v.55h-.55zM69.4 108.9h.55v.55h-.55zM61.1 110.6h.55v.55h-.55zM59.3 111.1h.55v.55h-.55zM63.9 97.9h.55v.55h-.55zM80.2 104.5h.55v.55h-.55zM71.9 102.2h.55v.55h-.55zM66.3 116.8h.55v.55h-.55zM58.8 108.5h.55v.55h-.55zM74.3 103.6h.55v.55h-.55zM69.2 106.2h.55v.55h-.55zM63.0 103.2h.55v.55h-.55zM66.6 108.1h.55v.55h-.55zM63.4 111.7h.55v.55h-.55zM65.2 110.1h.55v.55h-.55zM70.4 109.1h.55v.55h-.55zM64.9 98.9h.55v.55h-.55zM63.7 90.5h.55v.55h-.55zM58.0 108.0h.55v.55h-.55zM67.7 115.1h.55v.55h-.55zM65.9 94.0h.55v.55h-.55zM68.4 112.1h.55v.55h-.55zM59.6 110.1h.55v.55h-.55zM56.9 97.4h.55v.55h-.55zM66.1 111.6h.55v.55h-.55zM70.4 111.6h.55v.55h-.55zM63.9 111.0h.55v.55h-.55zM68.8 101.4h.55v.55h-.55zM66.0 114.5h.55v.55h-.55zM72.3 100.5h.55v.55h-.55zM67.1 104.2h.55v.55h-.55zM69.0 115.1h.55v.55h-.55zM62.8 109.0h.55v.55h-.55zM66.8 111.1h.55v.55h-.55zM69.1 110.0h.55v.55h-.55zM66.2 114.8h.55v.55h-.55zM48.3 90.5h.55v.55h-.55zM59.9 103.9h.55v.55h-.55zM63.8 110.5h.55v.55h-.55zM62.5 100.6h.55v.55h-.55zM62.8 101.3h.55v.55h-.55zM67.3 115.0h.55v.55h-.55zM68.8 113.1h.55v.55h-.55zM69.8 106.4h.55v.55h-.55zM54.8 97.5h.55v.55h-.55zM61.7 112.1h.55v.55h-.55zM68.5 110.7h.55v.55h-.55zM72.1 104.1h.55v.55h-.55zM65.2 110.1h.55v.55h-.55zM65.2 103.8h.55v.55h-.55zM55.9 108.1h.55v.55h-.55zM69.8 93.0h.55v.55h-.55zM65.8 112.7h.55v.55h-.55zM69.9 112.8h.55v.55h-.55zM63.8 112.4h.55v.55h-.55zM70.5 113.7h.55v.55h-.55zM63.2 110.0h.55v.55h-.55zM67.1 104.9h.55v.55h-.55zM61.5 113.1h.55v.55h-.55zM59.5 114.9h.55v.55h-.55zM57.9 106.9h.55v.55h-.55zM65.7 104.5h.55v.55h-.55zM73.1 105.9h.55v.55h-.55zM66.1 102.7h.55v.55h-.55zM55.8 110.3h.55v.55h-.55zM62.8 117.3h.55v.55h-.55zM71.1 101.0h.55v.55h-.55zM56.8 106.1h.55v.55h-.55zM70.1 105.1h.55v.55h-.55zM75.7 105.9h.55v.55h-.55zM63.1 111.0h.55v.55h-.55zM65.6 116.2h.55v.55h-.55zM64.3 100.2h.55v.55h-.55zM68.3 109.1h.55v.55h-.55zM68.3 106.8h.55v.55h-.55zM76.9 97.8h.55v.55h-.55zM59.2 100.5h.55v.55h-.55zM72.9 95.9h.55v.55h-.55zM63.7 95.0h.55v.55h-.55zM69.9 105.2h.55v.55h-.55zM57.5 115.2h.55v.55h-.55zM63.5 100.6h.55v.55h-.55zM67.8 108.0h.55v.55h-.55zM67.3 112.2h.55v.55h-.55zM58.5 124.0h.55v.55h-.55zM76.3 107.3h.55v.55h-.55zM53.9 116.8h.55v.55h-.55zM62.3 116.6h.55v.55h-.55zM64.9 100.7h.55v.55h-.55zM62.5 90.8h.55v.55h-.55zM59.9 119.1h.55v.55h-.55zM77.8 115.6h.55v.55h-.55zM60.5 109.5h.55v.55h-.55zM68.6 107.1h.55v.55h-.55zM51.1 106.1h.55v.55h-.55zM62.6 112.3h.55v.55h-.55zM57.4 111.1h.55v.55h-.55zM64.8 127.1h.55v.55h-.55zM75.1 100.9h.55v.55h-.55zM59.8 106.5h.55v.55h-.55zM66.5 115.4h.55v.55h-.55zM60.7 109.5h.55v.55h-.55zM65.1 107.9h.55v.55h-.55zM69.5 95.3h.55v.55h-.55zM66.6 104.4h.55v.55h-.55zM65.4 113.6h.55v.55h-.55zM51.9 99.9h.55v.55h-.55zM58.9 119.8h.55v.55h-.55zM74.7 110.9h.55v.55h-.55zM61.7 112.8h.55v.55h-.55zM59.9 94.9h.55v.55h-.55zM71.6 104.7h.55v.55h-.55zM59.4 107.5h.55v.55h-.55zM73.2 111.4h.55v.55h-.55zM65.4 90.1h.55v.55h-.55zM67.8 117.9h.55v.55h-.55zM67.1 102.9h.55v.55h-.55zM64.9 116.2h.55v.55h-.55zM61.1 93.9h.55v.55h-.55zM63.8 118.5h.55v.55h-.55zM80.3 103.3h.55v.55h-.55zM68.8 100.7h.55v.55h-.55zM63.9 99.3h.55v.55h-.55zM60.4 107.3h.55v.55h-.55zM76.0 107.4h.55v.55h-.55zM64.5 107.5h.55v.55h-.55zM60.7 122.2h.55v.55h-.55zM76.5 117.0h.55v.55h-.55zM63.6 109.2h.55v.55h-.55zM55.5 110.6h.55v.55h-.55zM72.7 110.9h.55v.55h-.55zM63.6 100.0h.55v.55h-.55zM63.7 118.5h.55v.55h-.55zM63.1 106.9h.55v.55h-.55zM75.2 98.2h.55v.55h-.55zM52.8 104.2h.55v.55h-.55zM64.8 106.6h.55v.55h-.55zM74.3 103.8h.55v.55h-.55zM66.7 109.4h.55v.55h-.55zM66.1 100.2h.55v.55h-.55zM72.0 116.8h.55v.55h-.55zM55.5 102.9h.55v.55h-.55zM60.7 102.8h.55v.55h-.55zM57.3 129.9h.55v.55h-.55zM68.1 107.1h.55v.55h-.55zM76.1 107.3h.55v.55h-.55zM65.9 122.0h.55v.55h-.55zM61.0 98.9h.55v.55h-.55zM69.5 103.1h.55v.55h-.55zM69.2 98.5h.55v.55h-.55zM54.4 122.9h.55v.55h-.55zM73.1 112.9h.55v.55h-.55zM67.2 105.6h.55v.55h-.55zM70.7 100.4h.55v.55h-.55zM61.1 105.7h.55v.55h-.55zM66.4 103.6h.55v.55h-.55zM60.3 108.7h.55v.55h-.55zM62.1 106.4h.55v.55h-.55zM65.0 107.6h.55v.55h-.55zM60.4 100.4h.55v.55h-.55zM69.2 113.5h.55v.55h-.55zM55.4 113.5h.55v.55h-.55zM74.0 107.4h.55v.55h-.55zM67.2 100.5h.55v.55h-.55zM78.0 97.0h.55v.55h-.55zM74.3 107.5h.55v.55h-.55zM69.6 110.8h.55v.55h-.55zM67.4 118.8h.55v.55h-.55zM62.3 115.0h.55v.55h-.55zM66.3 104.4h.55v.55h-.55zM70.3 109.1h.55v.55h-.55zM63.3 103.3h.55v.55h-.55zM72.6 103.7h.55v.55h-.55zM59.2 105.1h.55v.55h-.55zM73.9 112.3h.55v.55h-.55zM57.9 101.5h.55v.55h-.55zM59.7 122.5h.55v.55h-.55zM56.9 114.3h.55v.55h-.55zM73.9 108.1h.55v.55h-.55zM69.4 105.9h.55v.55h-.55zM67.1 108.0h.55v.55h-.55zM58.6 119.1h.55v.55h-.55zM67.7 119.5h.55v.55h-.55zM67.4 102.3h.55v.55h-.55zM72.2 101.3h.55v.55h-.55zM60.9 112.0h.55v.55h-.55zM71.4 121.3h.55v.55h-.55zM67.7 103.0h.55v.55h-.55zM69.2 109.6h.55v.55h-.55zM61.6 112.7h.55v.55h-.55zM75.4 102.7h.55v.55h-.55zM72.2 122.7h.55v.55h-.55zM80.7 103.1h.55v.55h-.55zM57.4 108.0h.55v.55h-.55zM69.2 105.2h.55v.55h-.55zM70.9 107.9h.55v.55h-.55zM63.4 112.8h.55v.55h-.55zM63.3 95.6h.55v.55h-.55zM66.6 113.6h.55v.55h-.55zM76.9 107.5h.55v.55h-.55zM64.7 122.5h.55v.55h-.55zM64.2 99.9h.55v.55h-.55zM75.1 103.3h.55v.55h-.55zM63.5 125.3h.55v.55h-.55zM59.3 118.8h.55v.55h-.55zM59.8 108.5h.55v.55h-.55zM68.1 117.2h.55v.55h-.55zM60.9 106.7h.55v.55h-.55zM66.8 117.9h.55v.55h-.55zM59.3 112.6h.55v.55h-.55zM67.0 89.6h.55v.55h-.55zM57.9 107.1h.55v.55h-.55zM69.3 111.0h.55v.55h-.55zM60.2 114.4h.55v.55h-.55zM67.8 117.5h.55v.55h-.55zM65.7 95.3h.55v.55h-.55zM70.9 99.3h.55v.55h-.55zM66.1 96.6h.55v.55h-.55zM72.7 115.0h.55v.55h-.55zM63.8 102.0h.55v.55h-.55zM67.6 100.7h.55v.55h-.55zM73.6 95.1h.55v.55h-.55zM56.6 114.7h.55v.55h-.55zM66.1 113.2h.55v.55h-.55zM67.6 105.3h.55v.55h-.55zM61.9 96.0h.55v.55h-.55zM61.4 108.3h.55v.55h-.55zM71.9 109.7h.55v.55h-.55zM60.5 113.2h.55v.55h-.55zM67.4 114.3h.55v.55h-.55zM66.4 112.4h.55v.55h-.55zM59.7 121.9h.55v.55h-.55zM71.2 100.9h.55v.55h-.55zM62.3 98.1h.55v.55h-.55zM60.3 103.7h.55v.55h-.55zM63.3 101.1h.55v.55h-.55zM64.3 113.3h.55v.55h-.55zM58.2 116.1h.55v.55h-.55zM76.1 111.3h.55v.55h-.55zM68.8 96.5h.55v.55h-.55zM64.3 104.4h.55v.55h-.55zM64.0 111.6h.55v.55h-.55zM59.5 108.0h.55v.55h-.55zM52.1 121.6h.55v.55h-.55zM55.6 116.0h.55v.55h-.55zM64.3 112.9h.55v.55h-.55zM61.4 113.3h.55v.55h-.55zM63.4 107.8h.55v.55h-.55zM55.8 92.1h.55v.55h-.55zM74.3 117.5h.55v.55h-.55zM63.9 110.7h.55v.55h-.55zM68.1 87.1h.55v.55h-.55zM64.4 93.8h.55v.55h-.55zM72.2 95.7h.55v.55h-.55zM59.3 109.9h.55v.55h-.55zM74.8 114.6h.55v.55h-.55zM78.4 97.0h.55v.55h-.55zM72.3 105.1h.55v.55h-.55zM66.2 100.1h.55v.55h-.55zM68.3 103.8h.55v.55h-.55zM69.7 110.0h.55v.55h-.55zM65.3 112.9h.55v.55h-.55zM56.1 108.2h.55v.55h-.55zM52.9 104.9h.55v.55h-.55zM66.5 108.9h.55v.55h-.55zM62.7 119.5h.55v.55h-.55zM66.5 109.6h.55v.55h-.55zM62.9 124.5h.55v.55h-.55zM65.2 112.8h.55v.55h-.55zM63.9 117.1h.55v.55h-.55zM68.5 96.6h.55v.55h-.55zM70.4 101.5h.55v.55h-.55zM66.9 113.1h.55v.55h-.55zM73.8 111.5h.55v.55h-.55zM63.4 114.6h.55v.55h-.55zM64.7 109.6h.55v.55h-.55zM63.2 110.9h.55v.55h-.55zM73.2 122.0h.55v.55h-.55zM69.9 119.2h.55v.55h-.55zM60.6 109.8h.55v.55h-.55zM73.1 106.2h.55v.55h-.55zM69.7 105.3h.55v.55h-.55zM61.7 106.4h.55v.55h-.55zM66.7 105.3h.55v.55h-.55zM66.9 127.3h.55v.55h-.55zM59.5 106.0h.55v.55h-.55zM57.7 126.9h.55v.55h-.55zM72.9 106.4h.55v.55h-.55zM62.8 108.3h.55v.55h-.55zM62.6 110.3h.55v.55h-.55zM60.6 105.1h.55v.55h-.55zM72.3 99.5h.55v.55h-.55zM69.0 96.3h.55v.55h-.55zM66.3 117.2h.55v.55h-.55zM62.5 115.3h.55v.55h-.55zM76.5 115.5h.55v.55h-.55zM80.0 103.9h.55v.55h-.55zM67.1 110.2h.55v.55h-.55zM54.4 110.7h.55v.55h-.55zM59.4 100.7h.55v.55h-.55zM67.5 108.6h.55v.55h-.55zM72.3 104.4h.55v.55h-.55zM59.5 110.3h.55v.55h-.55zM60.5 111.5h.55v.55h-.55zM69.9 112.0h.55v.55h-.55zM66.4 111.7h.55v.55h-.55zM58.0 113.1h.55v.55h-.55zM74.4 100.5h.55v.55h-.55zM67.5 101.4h.55v.55h-.55zM63.8 104.8h.55v.55h-.55zM64.0 114.4h.55v.55h-.55zM51.0 95.9h.55v.55h-.55zM69.9 109.2h.55v.55h-.55zM56.6 110.8h.55v.55h-.55zM68.3 103.2h.55v.55h-.55zM80.0 108.4h.55v.55h-.55zM70.9 113.4h.55v.55h-.55zM66.0 112.4h.55v.55h-.55zM63.8 99.0h.55v.55h-.55zM62.1 113.2h.55v.55h-.55zM76.0 99.1h.55v.55h-.55zM76.9 113.0h.55v.55h-.55zM68.2 112.9h.55v.55h-.55zM57.7 109.4h.55v.55h-.55zM63.2 106.9h.55v.55h-.55zM76.1 106.3h.55v.55h-.55zM53.8 94.0h.55v.55h-.55zM74.0 107.8h.55v.55h-.55zM58.1 112.5h.55v.55h-.55zM65.9 106.0h.55v.55h-.55zM63.9 99.3h.55v.55h-.55zM63.4 105.5h.55v.55h-.55zM73.2 110.7h.55v.55h-.55zM62.5 121.8h.55v.55h-.55zM73.7 106.0h.55v.55h-.55zM70.1 105.1h.55v.55h-.55zM62.9 113.9h.55v.55h-.55zM65.0 109.6h.55v.55h-.55zM59.7 112.1h.55v.55h-.55zM71.7 106.7h.55v.55h-.55zM65.7 128.5h.55v.55h-.55zM66.1 105.0h.55v.55h-.55zM65.7 114.6h.55v.55h-.55zM66.7 101.4h.55v.55h-.55zM74.3 102.2h.55v.55h-.55zM73.8 96.5h.55v.55h-.55zM62.6 99.3h.55v.55h-.55zM69.4 105.1h.55v.55h-.55zM59.4 103.8h.55v.55h-.55zM64.3 117.9h.55v.55h-.55zM67.3 119.6h.55v.55h-.55zM71.8 118.1h.55v.55h-.55zM55.6 93.1h.55v.55h-.55zM59.7 98.7h.55v.55h-.55zM57.8 99.4h.55v.55h-.55zM58.3 90.1h.55v.55h-.55zM73.6 99.0h.55v.55h-.55zM68.3 109.0h.55v.55h-.55zM68.7 91.2h.55v.55h-.55zM70.4 122.1h.55v.55h-.55zM72.3 108.3h.55v.55h-.55zM66.3 125.4h.55v.55h-.55zM70.4 113.0h.55v.55h-.55zM70.5 99.0h.55v.55h-.55zM70.5 100.3h.55v.55h-.55zM70.4 111.9h.55v.55h-.55zM61.5 101.4h.55v.55h-.55zM73.7 107.7h.55v.55h-.55zM58.6 112.4h.55v.55h-.55zM62.1 113.2h.55v.55h-.55zM64.4 115.8h.55v.55h-.55zM71.6 106.1h.55v.55h-.55zM69.4 101.1h.55v.55h-.55zM53.8 115.9h.55v.55h-.55zM64.0 101.3h.55v.55h-.55zM74.4 121.7h.55v.55h-.55zM62.0 120.7h.55v.55h-.55zM70.3 102.9h.55v.55h-.55zM64.4 110.5h.55v.55h-.55zM66.0 103.7h.55v.55h-.55zM65.0 106.3h.55v.55h-.55zM72.1 118.1h.55v.55h-.55zM65.8 110.3h.55v.55h-.55zM69.1 112.3h.55v.55h-.55zM70.1 107.4h.55v.55h-.55zM68.2 112.5h.55v.55h-.55zM62.4 113.0h.55v.55h-.55zM60.5 103.1h.55v.55h-.55zM57.3 102.2h.55v.55h-.55zM64.9 106.5h.55v.55h-.55zM71.6 117.1h.55v.55h-.55zM61.9 107.6h.55v.55h-.55zM72.5 101.5h.55v.55h-.55zM58.9 106.5h.55v.55h-.55zM74.1 101.6h.55v.55h-.55zM65.0 95.8h.55v.55h-.55zM59.7 104.8h.55v.55h-.55zM54.6 99.7h.55v.55h-.55zM63.4 106.5h.55v.55h-.55zM62.8 121.2h.55v.55h-.55zM66.3 113.4h.55v.55h-.55zM70.3 120.1h.55v.55h-.55zM66.3 91.2h.55v.55h-.55zM58.5 96.9h.55v.55h-.55zM67.0 119.4h.55v.55h-.55zM56.8 108.9h.55v.55h-.55zM68.9 105.4h.55v.55h-.55zM74.3 105.6h.55v.55h-.55zM70.8 113.8h.55v.55h-.55zM58.9 90.3h.55v.55h-.55zM68.9 97.3h.55v.55h-.55zM66.6 102.0h.55v.55h-.55zM69.0 105.0h.55v.55h-.55zM64.3 106.1h.55v.55h-.55zM67.6 105.4h.55v.55h-.55zM70.6 97.2h.55v.55h-.55zM61.0 107.1h.55v.55h-.55zM62.5 99.1h.55v.55h-.55zM62.6 102.7h.55v.55h-.55zM70.2 115.5h.55v.55h-.55zM64.9 103.3h.55v.55h-.55zM67.3 97.1h.55v.55h-.55zM68.3 108.0h.55v.55h-.55zM52.9 103.5h.55v.55h-.55zM77.5 112.8h.55v.55h-.55zM61.6 100.1h.55v.55h-.55zM58.5 110.6h.55v.55h-.55zM67.1 107.8h.55v.55h-.55zM64.5 110.6h.55v.55h-.55zM69.4 110.0h.55v.55h-.55zM59.0 103.3h.55v.55h-.55zM69.1 119.2h.55v.55h-.55zM72.5 104.8h.55v.55h-.55zM59.2 120.9h.55v.55h-.55zM71.9 103.1h.55v.55h-.55zM75.6 117.6h.55v.55h-.55zM62.4 106.7h.55v.55h-.55zM68.3 106.1h.55v.55h-.55zM62.0 124.4h.55v.55h-.55zM60.3 100.8h.55v.55h-.55zM58.4 105.6h.55v.55h-.55zM60.4 103.8h.55v.55h-.55zM66.3 99.4h.55v.55h-.55zM67.6 98.4h.55v.55h-.55zM61.7 104.4h.55v.55h-.55zM64.6 123.1h.55v.55h-.55zM74.4 87.0h.55v.55h-.55zM77.8 111.4h.55v.55h-.55zM64.6 98.9h.55v.55h-.55zM76.4 102.9h.55v.55h-.55zM64.8 95.4h.55v.55h-.55zM58.5 90.7h.55v.55h-.55zM60.3 104.0h.55v.55h-.55zM66.3 118.0h.55v.55h-.55zM74.1 113.3h.55v.55h-.55zM65.8 120.1h.55v.55h-.55zM66.6 100.8h.55v.55h-.55zM71.1 104.1h.55v.55h-.55zM55.0 127.4h.55v.55h-.55zM72.7 125.5h.55v.55h-.55zM71.6 119.8h.55v.55h-.55zM48.7 126.6h.55v.55h-.55zM62.0 111.4h.55v.55h-.55zM60.3 117.3h.55v.55h-.55zM81.2 101.9h.55v.55h-.55zM75.7 122.1h.55v.55h-.55zM71.2 123.5h.55v.55h-.55zM51.1 104.1h.55v.55h-.55zM57.7 111.3h.55v.55h-.55zM61.6 125.6h.55v.55h-.55zM45.4 128.7h.55v.55h-.55zM57.7 115.5h.55v.55h-.55zM68.6 129.9h.55v.55h-.55zM61.6 111.5h.55v.55h-.55zM73.8 125.2h.55v.55h-.55zM47.6 117.2h.55v.55h-.55zM60.5 129.2h.55v.55h-.55zM46.9 123.7h.55v.55h-.55zM54.4 124.5h.55v.55h-.55zM69.9 125.3h.55v.55h-.55zM74.3 128.7h.55v.55h-.55zM68.4 120.7h.55v.55h-.55zM50.7 120.5h.55v.55h-.55zM74.9 122.2h.55v.55h-.55zM55.5 114.7h.55v.55h-.55zM48.2 124.5h.55v.55h-.55zM48.1 123.5h.55v.55h-.55zM63.3 112.1h.55v.55h-.55zM65.1 122.5h.55v.55h-.55zM55.9 123.3h.55v.55h-.55zM68.5 124.5h.55v.55h-.55zM47.2 127.6h.55v.55h-.55zM76.8 116.5h.55v.55h-.55zM50.3 113.1h.55v.55h-.55zM53.1 124.2h.55v.55h-.55zM55.1 114.8h.55v.55h-.55zM76.5 122.0h.55v.55h-.55zM55.8 120.4h.55v.55h-.55zM55.7 122.9h.55v.55h-.55zM63.3 105.7h.55v.55h-.55zM71.8 118.8h.55v.55h-.55zM50.7 125.0h.55v.55h-.55zM68.8 121.9h.55v.55h-.55zM62.1 113.0h.55v.55h-.55zM43.4 126.9h.55v.55h-.55zM63.2 125.1h.55v.55h-.55zM53.6 125.0h.55v.55h-.55zM84.7 113.7h.55v.55h-.55zM49.2 118.9h.55v.55h-.55zM57.6 120.1h.55v.55h-.55zM50.9 120.1h.55v.55h-.55zM58.8 108.9h.55v.55h-.55zM60.2 114.1h.55v.55h-.55zM56.2 113.2h.55v.55h-.55zM67.6 109.8h.55v.55h-.55zM51.9 123.8h.55v.55h-.55zM67.5 116.6h.55v.55h-.55zM55.5 125.4h.55v.55h-.55zM79.6 116.4h.55v.55h-.55zM65.3 123.3h.55v.55h-.55zM54.1 129.6h.55v.55h-.55zM72.5 121.0h.55v.55h-.55zM49.7 126.8h.55v.55h-.55zM61.3 129.5h.55v.55h-.55zM50.6 124.4h.55v.55h-.55zM61.4 120.8h.55v.55h-.55zM68.8 113.8h.55v.55h-.55zM51.1 118.7h.55v.55h-.55zM66.2 107.0h.55v.55h-.55zM70.7 113.9h.55v.55h-.55zM62.3 128.4h.55v.55h-.55zM66.3 129.1h.55v.55h-.55zM58.4 115.2h.55v.55h-.55zM69.9 116.2h.55v.55h-.55zM61.6 112.5h.55v.55h-.55zM76.2 111.7h.55v.55h-.55zM54.8 117.0h.55v.55h-.55zM79.6 126.9h.55v.55h-.55zM52.7 130.1h.55v.55h-.55zM54.0 117.9h.55v.55h-.55zM61.0 116.9h.55v.55h-.55zM61.7 118.8h.55v.55h-.55zM53.1 117.0h.55v.55h-.55zM71.6 123.0h.55v.55h-.55zM78.1 119.8h.55v.55h-.55zM66.5 129.0h.55v.55h-.55zM66.0 111.1h.55v.55h-.55zM57.7 124.9h.55v.55h-.55zM53.3 113.5h.55v.55h-.55zM57.3 108.1h.55v.55h-.55zM60.6 113.6h.55v.55h-.55zM49.6 129.9h.55v.55h-.55zM49.0 128.8h.55v.55h-.55zM51.3 111.9h.55v.55h-.55zM73.8 123.4h.55v.55h-.55zM71.7 117.0h.55v.55h-.55zM56.3 123.1h.55v.55h-.55zM60.7 121.0h.55v.55h-.55zM62.3 124.0h.55v.55h-.55zM50.8 127.0h.55v.55h-.55zM50.4 125.4h.55v.55h-.55zM49.6 115.8h.55v.55h-.55zM58.2 128.9h.55v.55h-.55zM66.7 130.3h.55v.55h-.55zM75.9 120.5h.55v.55h-.55zM82.8 128.7h.55v.55h-.55zM64.1 125.2h.55v.55h-.55zM62.9 119.8h.55v.55h-.55zM59.0 120.5h.55v.55h-.55zM59.4 120.0h.55v.55h-.55zM70.1 117.0h.55v.55h-.55zM63.8 127.3h.55v.55h-.55zM65.9 126.1h.55v.55h-.55zM56.1 118.7h.55v.55h-.55zM65.7 112.0h.55v.55h-.55zM53.9 127.2h.55v.55h-.55zM58.8 116.9h.55v.55h-.55zM47.6 121.0h.55v.55h-.55zM63.4 119.0h.55v.55h-.55zM63.2 130.3h.55v.55h-.55zM65.3 125.1h.55v.55h-.55zM51.4 127.5h.55v.55h-.55zM53.4 119.0h.55v.55h-.55zM64.9 121.6h.55v.55h-.55zM65.0 113.3h.55v.55h-.55zM60.5 123.4h.55v.55h-.55zM54.0 114.6h.55v.55h-.55zM51.6 119.7h.55v.55h-.55zM60.1 106.0h.55v.55h-.55zM63.2 112.5h.55v.55h-.55zM57.7 125.9h.55v.55h-.55zM50.6 119.2h.55v.55h-.55zM43.1 117.0h.55v.55h-.55zM48.2 125.6h.55v.55h-.55zM62.3 112.5h.55v.55h-.55zM72.3 122.4h.55v.55h-.55zM61.4 124.1h.55v.55h-.55zM45.5 124.6h.55v.55h-.55zM71.7 117.6h.55v.55h-.55zM44.3 124.4h.55v.55h-.55zM50.9 112.9h.55v.55h-.55zM80.1 121.6h.55v.55h-.55zM54.6 115.0h.55v.55h-.55zM64.4 113.2h.55v.55h-.55zM57.9 129.9h.55v.55h-.55zM61.6 112.1h.55v.55h-.55zM49.7 123.0h.55v.55h-.55zM57.1 122.4h.55v.55h-.55zM69.5 123.4h.55v.55h-.55zM58.3 113.3h.55v.55h-.55zM57.0 121.4h.55v.55h-.55zM67.1 120.3h.55v.55h-.55zM59.1 115.7h.55v.55h-.55zM58.1 117.1h.55v.55h-.55zM71.3 115.0h.55v.55h-.55zM51.0 108.0h.55v.55h-.55zM56.3 123.4h.55v.55h-.55zM55.7 114.2h.55v.55h-.55zM61.1 125.3h.55v.55h-.55zM47.4 115.5h.55v.55h-.55zM55.0 121.7h.55v.55h-.55zM60.2 116.4h.55v.55h-.55zM53.9 112.7h.55v.55h-.55zM69.7 118.6h.55v.55h-.55zM48.7 116.1h.55v.55h-.55zM65.6 112.4h.55v.55h-.55zM60.9 127.9h.55v.55h-.55zM53.4 117.4h.55v.55h-.55zM61.6 116.3h.55v.55h-.55zM56.1 124.6h.55v.55h-.55zM69.1 120.9h.55v.55h-.55zM75.7 129.8h.55v.55h-.55zM58.9 120.0h.55v.55h-.55zM58.5 124.8h.55v.55h-.55zM46.8 116.4h.55v.55h-.55zM54.6 119.9h.55v.55h-.55zM55.9 117.1h.55v.55h-.55zM46.1 112.2h.55v.55h-.55zM56.9 111.7h.55v.55h-.55zM67.2 130.2h.55v.55h-.55zM64.1 118.9h.55v.55h-.55zM59.9 121.5h.55v.55h-.55zM48.7 112.5h.55v.55h-.55zM66.7 116.8h.55v.55h-.55zM49.1 119.3h.55v.55h-.55zM57.6 124.4h.55v.55h-.55zM71.0 114.5h.55v.55h-.55zM66.6 127.6h.55v.55h-.55zM56.4 123.1h.55v.55h-.55zM54.8 122.3h.55v.55h-.55zM72.9 111.2h.55v.55h-.55zM59.6 115.1h.55v.55h-.55zM49.4 129.5h.55v.55h-.55zM49.9 109.2h.55v.55h-.55zM60.3 112.3h.55v.55h-.55zM47.3 110.8h.55v.55h-.55zM52.2 123.3h.55v.55h-.55zM54.5 117.2h.55v.55h-.55zM49.9 110.2h.55v.55h-.55zM49.8 110.5h.55v.55h-.55zM77.6 124.8h.55v.55h-.55zM80.5 116.2h.55v.55h-.55zM58.9 118.7h.55v.55h-.55zM58.0 118.9h.55v.55h-.55zM63.0 120.9h.55v.55h-.55zM63.4 124.9h.55v.55h-.55zM58.0 119.4h.55v.55h-.55zM48.5 114.7h.55v.55h-.55zM44.4 110.7h.55v.55h-.55zM54.5 113.6h.55v.55h-.55zM50.4 114.7h.55v.55h-.55zM60.3 124.3h.55v.55h-.55zM56.9 124.9h.55v.55h-.55zM50.0 74.6h.55v.55h-.55zM43.2 81.1h.55v.55h-.55zM49.2 75.7h.55v.55h-.55zM45.6 75.1h.55v.55h-.55zM51.8 80.9h.55v.55h-.55zM43.5 83.7h.55v.55h-.55zM48.3 78.6h.55v.55h-.55zM48.5 86.8h.55v.55h-.55zM46.2 79.7h.55v.55h-.55zM44.2 76.0h.55v.55h-.55zM46.1 77.9h.55v.55h-.55zM51.3 80.0h.55v.55h-.55zM51.6 81.5h.55v.55h-.55zM47.6 70.6h.55v.55h-.55zM47.6 73.9h.55v.55h-.55zM49.2 81.0h.55v.55h-.55zM43.8 84.2h.55v.55h-.55zM49.3 91.1h.55v.55h-.55zM52.2 77.7h.55v.55h-.55zM44.9 81.9h.55v.55h-.55zM43.6 77.9h.55v.55h-.55zM50.3 87.6h.55v.55h-.55zM44.1 72.0h.55v.55h-.55zM47.7 77.5h.55v.55h-.55zM45.6 70.6h.55v.55h-.55zM47.8 71.9h.55v.55h-.55zM50.0 91.3h.55v.55h-.55zM43.9 68.4h.55v.55h-.55zM47.5 79.7h.55v.55h-.55zM50.8 80.0h.55v.55h-.55zM52.7 84.5h.55v.55h-.55zM49.3 79.6h.55v.55h-.55zM44.0 78.7h.55v.55h-.55zM44.1 77.5h.55v.55h-.55zM49.7 80.6h.55v.55h-.55zM44.3 77.9h.55v.55h-.55zM48.6 83.7h.55v.55h-.55zM48.4 72.8h.55v.55h-.55zM46.0 72.4h.55v.55h-.55zM47.8 86.5h.55v.55h-.55zM46.5 79.7h.55v.55h-.55zM45.9 78.8h.55v.55h-.55zM44.6 75.0h.55v.55h-.55zM48.5 75.1h.55v.55h-.55zM52.4 82.7h.55v.55h-.55zM47.2 80.7h.55v.55h-.55zM47.0 83.1h.55v.55h-.55zM45.9 86.6h.55v.55h-.55zM48.9 83.2h.55v.55h-.55zM49.3 76.3h.55v.55h-.55zM47.0 69.8h.55v.55h-.55zM46.7 85.0h.55v.55h-.55zM48.7 79.3h.55v.55h-.55zM44.1 73.3h.55v.55h-.55zM47.0 78.0h.55v.55h-.55zM43.9 71.8h.55v.55h-.55zM47.4 72.9h.55v.55h-.55zM48.3 81.8h.55v.55h-.55zM50.1 71.3h.55v.55h-.55zM51.1 77.1h.55v.55h-.55zM45.1 83.8h.55v.55h-.55zM45.2 82.0h.55v.55h-.55zM44.6 77.7h.55v.55h-.55zM49.6 79.6h.55v.55h-.55zM49.6 81.9h.55v.55h-.55zM45.0 85.8h.55v.55h-.55zM56.7 82.9h.55v.55h-.55zM44.0 81.9h.55v.55h-.55zM49.7 80.1h.55v.55h-.55zM50.1 80.9h.55v.55h-.55zM44.0 80.3h.55v.55h-.55zM45.2 77.1h.55v.55h-.55zM53.2 89.4h.55v.55h-.55z" fill="#222" opacity="0.5"/>
<path d="M59.30 79.00 C59.05 76.80 59.88 75.77 61.00 74.80 C62.12 73.83 64.17 73.50 66.00 73.20 C67.83 72.90 70.00 72.98 72.00 73.00 C74.00 73.02 76.37 72.97 78.00 73.30 C79.63 73.63 81.08 74.05 81.80 75.00 C82.52 75.95 82.52 77.17 82.30 79.00 C82.08 80.83 81.30 83.83 80.50 86.00 C79.70 88.17 78.92 90.37 77.50 92.00 C76.08 93.63 73.75 95.47 72.00 95.80 C70.25 96.13 68.58 95.30 67.00 94.00 C65.42 92.70 63.78 90.50 62.50 88.00 C61.22 85.50 59.55 81.20 59.30 79.00 Z" fill="#fff" stroke="#3a3a3a" stroke-width="1.0"/>
<path d="M60.97 79.21 C60.75 77.32 61.47 76.43 62.43 75.60 C63.39 74.77 65.15 74.48 66.73 74.22 C68.30 73.96 70.17 74.04 71.89 74.05 C73.61 74.06 75.64 74.02 77.05 74.31 C78.45 74.59 79.70 74.95 80.32 75.77 C80.93 76.59 80.93 77.63 80.75 79.21 C80.56 80.79 79.89 83.37 79.20 85.23 C78.51 87.09 77.84 88.99 76.62 90.39 C75.40 91.79 73.39 93.37 71.89 93.66 C70.38 93.94 68.95 93.23 67.59 92.11 C66.23 90.99 64.82 89.10 63.72 86.95 C62.61 84.80 61.18 81.10 60.97 79.21 Z" fill="#fff" stroke="#8a8a8a" stroke-width="0.7"/>
<path d="M62.63 79.42 C62.45 77.84 63.05 77.09 63.86 76.40 C64.66 75.70 66.14 75.46 67.46 75.24 C68.78 75.03 70.34 75.09 71.78 75.10 C73.22 75.11 74.92 75.08 76.10 75.32 C77.27 75.56 78.32 75.86 78.83 76.54 C79.35 77.22 79.35 78.10 79.19 79.42 C79.04 80.74 78.47 82.90 77.90 84.46 C77.32 86.02 76.76 87.60 75.74 88.78 C74.72 89.96 73.04 91.28 71.78 91.52 C70.52 91.76 69.32 91.16 68.18 90.22 C67.04 89.28 65.86 87.70 64.94 85.90 C64.01 84.10 62.81 81.00 62.63 79.42 Z" fill="#f6f6f6" stroke="#9a9a9a" stroke-width="0.7"/>
<ellipse cx="71.6" cy="78.6" rx="8.6" ry="5.9" fill="#e4e4e4" stroke="#999" stroke-width="0.4"/>
<ellipse cx="71.6" cy="78.6" rx="7.2" ry="4.8" fill="#c8c8c8" stroke="#888" stroke-width="0.4"/>
<ellipse cx="71.6" cy="78.6" rx="5.8" ry="3.8" fill="#999" stroke="#666" stroke-width="0.4"/>
<ellipse cx="71.6" cy="78.6" rx="4.5" ry="2.9" fill="#5a5a5a" stroke="#444" stroke-width="0.4"/>
<ellipse cx="71.6" cy="78.6" rx="3.2" ry="2.0" fill="#222" stroke="#111" stroke-width="0.4"/>
<ellipse cx="72.6" cy="79.6" rx="1.3" ry="0.8" fill="#ddd"/>
<circle cx="52.3" cy="81.3" r="5.8" fill="none" stroke="#aaa" stroke-width="0.6"/>
<circle cx="52.3" cy="81.3" r="4.2" fill="#fff" stroke="#444" stroke-width="1.3"/>
<rect x="42.20" y="67.40" width="64.60" height="63.80" fill="none" stroke="#777" stroke-width="0.8" />
<line x1="58.50" y1="67.40" x2="58.50" y2="131.20" stroke="#555" stroke-width="0.9" />
<line x1="42.20" y1="100.10" x2="106.80" y2="100.10" stroke="#555" stroke-width="0.9" />
<text x="40.0" y="132.7" font-size="4" text-anchor="end" fill="#222" class="g" font-weight="bold">10<tspan font-size="2.6" dy="-1.6">0</tspan></text>
<text x="42.2" y="138.0" font-size="4" text-anchor="middle" fill="#222" class="g">10<tspan font-size="2.6" dy="-1.6">0</tspan></text>
<text x="40.0" y="116.7" font-size="4" text-anchor="end" fill="#222" class="g" font-weight="bold">10<tspan font-size="2.6" dy="-1.6">1</tspan></text>
<text x="58.4" y="138.0" font-size="4" text-anchor="middle" fill="#222" class="g">10<tspan font-size="2.6" dy="-1.6">1</tspan></text>
<text x="40.0" y="100.8" font-size="4" text-anchor="end" fill="#222" class="g" font-weight="bold">10<tspan font-size="2.6" dy="-1.6">2</tspan></text>
<text x="74.5" y="138.0" font-size="4" text-anchor="middle" fill="#222" class="g">10<tspan font-size="2.6" dy="-1.6">2</tspan></text>
<text x="40.0" y="84.8" font-size="4" text-anchor="end" fill="#222" class="g" font-weight="bold">10<tspan font-size="2.6" dy="-1.6">3</tspan></text>
<text x="90.7" y="138.0" font-size="4" text-anchor="middle" fill="#222" class="g">10<tspan font-size="2.6" dy="-1.6">3</tspan></text>
<text x="40.0" y="68.9" font-size="4" text-anchor="end" fill="#222" class="g" font-weight="bold">10<tspan font-size="2.6" dy="-1.6">4</tspan></text>
<text x="106.8" y="138.0" font-size="4" text-anchor="middle" fill="#222" class="g">10<tspan font-size="2.6" dy="-1.6">4</tspan></text>
<text x="104.60" y="77.80" font-size="11.6" text-anchor="end" >96</text>
<text x="105.20" y="130.60" font-size="11.6" text-anchor="end" >1.2</text>
<path d="M143.7 111.0h.55v.55h-.55zM134.0 118.3h.55v.55h-.55zM136.2 104.4h.55v.55h-.55zM129.9 110.2h.55v.55h-.55zM126.6 109.4h.55v.55h-.55zM129.4 114.4h.55v.55h-.55zM127.5 120.8h.55v.55h-.55zM129.3 88.2h.55v.55h-.55zM138.0 113.5h.55v.55h-.55zM128.3 119.4h.55v.55h-.55zM133.1 117.5h.55v.55h-.55zM127.7 118.7h.55v.55h-.55zM124.3 130.0h.55v.55h-.55zM125.7 115.1h.55v.55h-.55zM132.1 119.0h.55v.55h-.55zM130.8 121.3h.55v.55h-.55zM130.6 111.9h.55v.55h-.55zM139.0 107.0h.55v.55h-.55zM130.9 97.5h.55v.55h-.55zM132.7 101.2h.55v.55h-.55zM134.9 115.7h.55v.55h-.55zM132.2 102.7h.55v.55h-.55zM126.0 119.7h.55v.55h-.55zM120.6 118.3h.55v.55h-.55zM122.6 116.9h.55v.55h-.55zM136.5 111.1h.55v.55h-.55zM121.8 108.6h.55v.55h-.55zM131.1 106.7h.55v.55h-.55zM132.8 124.8h.55v.55h-.55zM131.1 111.8h.55v.55h-.55zM135.3 113.1h.55v.55h-.55zM135.7 112.9h.55v.55h-.55zM139.5 113.3h.55v.55h-.55zM126.0 116.7h.55v.55h-.55zM128.1 107.2h.55v.55h-.55zM130.7 122.7h.55v.55h-.55zM120.4 115.4h.55v.55h-.55zM130.6 114.5h.55v.55h-.55zM135.4 103.9h.55v.55h-.55zM134.7 113.8h.55v.55h-.55zM131.9 113.9h.55v.55h-.55zM129.7 111.1h.55v.55h-.55zM136.8 123.8h.55v.55h-.55zM134.3 111.6h.55v.55h-.55zM125.0 123.7h.55v.55h-.55zM136.6 118.7h.55v.55h-.55zM135.5 128.9h.55v.55h-.55zM142.8 128.1h.55v.55h-.55zM140.0 119.3h.55v.55h-.55zM135.8 117.9h.55v.55h-.55zM133.1 112.1h.55v.55h-.55zM135.1 129.6h.55v.55h-.55zM130.9 118.8h.55v.55h-.55zM134.9 116.7h.55v.55h-.55zM136.5 118.9h.55v.55h-.55zM125.8 107.2h.55v.55h-.55zM135.4 122.3h.55v.55h-.55zM137.4 118.9h.55v.55h-.55zM132.8 102.3h.55v.55h-.55zM138.9 108.3h.55v.55h-.55zM137.1 106.3h.55v.55h-.55zM128.5 118.1h.55v.55h-.55zM129.7 110.4h.55v.55h-.55zM136.4 122.9h.55v.55h-.55zM133.8 113.7h.55v.55h-.55zM127.7 112.4h.55v.55h-.55zM129.2 116.5h.55v.55h-.55zM135.7 115.3h.55v.55h-.55zM127.9 111.2h.55v.55h-.55zM138.3 118.3h.55v.55h-.55zM133.1 119.4h.55v.55h-.55zM134.9 118.1h.55v.55h-.55zM137.8 124.2h.55v.55h-.55zM146.8 105.3h.55v.55h-.55zM132.6 126.7h.55v.55h-.55zM132.0 129.0h.55v.55h-.55zM125.6 105.6h.55v.55h-.55zM131.0 110.3h.55v.55h-.55zM126.6 122.1h.55v.55h-.55zM133.3 117.1h.55v.55h-.55zM130.0 119.4h.55v.55h-.55zM131.4 110.4h.55v.55h-.55zM134.6 120.3h.55v.55h-.55zM132.4 123.3h.55v.55h-.55zM126.5 115.7h.55v.55h-.55zM129.4 129.0h.55v.55h-.55zM139.9 113.7h.55v.55h-.55zM126.5 121.4h.55v.55h-.55zM130.6 115.6h.55v.55h-.55zM126.7 122.4h.55v.55h-.55zM132.9 120.6h.55v.55h-.55zM133.6 108.9h.55v.55h-.55zM120.8 114.6h.55v.55h-.55zM128.8 112.2h.55v.55h-.55zM136.8 116.1h.55v.55h-.55zM139.5 118.6h.55v.55h-.55zM135.4 121.6h.55v.55h-.55zM136.0 105.7h.55v.55h-.55zM137.5 118.0h.55v.55h-.55zM127.1 122.5h.55v.55h-.55zM133.7 128.6h.55v.55h-.55zM135.7 120.3h.55v.55h-.55zM139.4 124.0h.55v.55h-.55zM134.3 128.0h.55v.55h-.55zM127.7 123.3h.55v.55h-.55zM132.1 108.0h.55v.55h-.55zM133.8 120.2h.55v.55h-.55zM140.5 125.5h.55v.55h-.55zM124.0 99.3h.55v.55h-.55zM131.6 115.1h.55v.55h-.55zM127.3 103.9h.55v.55h-.55zM131.0 106.6h.55v.55h-.55zM128.5 124.8h.55v.55h-.55zM133.2 110.2h.55v.55h-.55zM126.4 115.3h.55v.55h-.55zM140.7 112.4h.55v.55h-.55zM140.7 109.9h.55v.55h-.55zM130.9 123.3h.55v.55h-.55zM128.1 117.5h.55v.55h-.55zM125.2 123.0h.55v.55h-.55zM137.8 111.1h.55v.55h-.55zM132.9 113.3h.55v.55h-.55zM135.1 124.4h.55v.55h-.55zM133.9 118.6h.55v.55h-.55zM143.9 100.6h.55v.55h-.55zM130.4 113.2h.55v.55h-.55zM131.0 123.3h.55v.55h-.55zM128.4 105.0h.55v.55h-.55zM126.4 121.1h.55v.55h-.55zM136.8 124.3h.55v.55h-.55zM140.0 112.3h.55v.55h-.55zM137.0 123.2h.55v.55h-.55zM131.2 110.2h.55v.55h-.55zM136.4 110.9h.55v.55h-.55zM130.5 108.2h.55v.55h-.55zM140.7 116.5h.55v.55h-.55zM129.5 114.8h.55v.55h-.55zM130.9 117.8h.55v.55h-.55zM123.5 106.5h.55v.55h-.55zM134.5 126.7h.55v.55h-.55zM126.9 118.0h.55v.55h-.55zM129.1 96.5h.55v.55h-.55zM130.4 107.2h.55v.55h-.55zM136.4 115.1h.55v.55h-.55zM131.8 103.8h.55v.55h-.55zM132.7 99.5h.55v.55h-.55zM133.1 129.4h.55v.55h-.55zM125.9 124.7h.55v.55h-.55zM139.0 115.2h.55v.55h-.55zM137.6 117.7h.55v.55h-.55zM129.5 98.9h.55v.55h-.55zM126.6 103.6h.55v.55h-.55zM143.9 119.3h.55v.55h-.55zM131.1 104.8h.55v.55h-.55zM140.6 106.5h.55v.55h-.55zM139.4 126.8h.55v.55h-.55zM132.4 111.0h.55v.55h-.55zM131.8 105.1h.55v.55h-.55zM136.5 126.4h.55v.55h-.55zM128.5 119.8h.55v.55h-.55zM126.9 112.9h.55v.55h-.55zM132.3 117.3h.55v.55h-.55zM122.5 118.6h.55v.55h-.55zM127.4 104.3h.55v.55h-.55zM124.5 118.3h.55v.55h-.55zM130.0 123.1h.55v.55h-.55zM130.8 117.0h.55v.55h-.55zM139.3 124.2h.55v.55h-.55zM135.8 130.3h.55v.55h-.55zM133.1 108.0h.55v.55h-.55zM128.0 102.9h.55v.55h-.55zM133.8 113.3h.55v.55h-.55zM134.6 124.5h.55v.55h-.55zM127.9 118.7h.55v.55h-.55zM138.4 117.8h.55v.55h-.55zM136.7 115.2h.55v.55h-.55zM127.2 114.9h.55v.55h-.55zM122.5 123.4h.55v.55h-.55zM129.4 129.2h.55v.55h-.55zM125.8 118.1h.55v.55h-.55zM133.7 115.2h.55v.55h-.55zM133.9 110.2h.55v.55h-.55zM126.6 104.2h.55v.55h-.55zM129.2 109.6h.55v.55h-.55zM133.2 113.7h.55v.55h-.55zM128.7 110.3h.55v.55h-.55zM122.4 113.7h.55v.55h-.55zM134.1 104.9h.55v.55h-.55zM130.7 123.1h.55v.55h-.55zM128.5 118.7h.55v.55h-.55zM139.0 127.8h.55v.55h-.55zM128.5 122.9h.55v.55h-.55zM131.2 120.3h.55v.55h-.55zM129.1 118.4h.55v.55h-.55zM128.1 119.7h.55v.55h-.55zM140.9 104.5h.55v.55h-.55zM125.3 121.6h.55v.55h-.55zM136.0 113.6h.55v.55h-.55zM135.0 120.9h.55v.55h-.55zM134.8 129.6h.55v.55h-.55zM128.7 123.0h.55v.55h-.55zM133.0 110.7h.55v.55h-.55zM134.5 105.1h.55v.55h-.55zM124.5 126.8h.55v.55h-.55zM137.3 112.2h.55v.55h-.55zM127.5 96.6h.55v.55h-.55zM131.6 102.0h.55v.55h-.55zM140.0 101.6h.55v.55h-.55zM132.3 92.0h.55v.55h-.55zM130.2 129.1h.55v.55h-.55zM129.7 109.4h.55v.55h-.55zM129.5 120.4h.55v.55h-.55zM136.5 114.8h.55v.55h-.55zM121.5 119.8h.55v.55h-.55zM132.8 118.5h.55v.55h-.55zM129.2 123.8h.55v.55h-.55zM141.0 107.8h.55v.55h-.55zM132.4 107.4h.55v.55h-.55zM128.5 115.2h.55v.55h-.55zM134.5 109.3h.55v.55h-.55zM130.5 129.5h.55v.55h-.55zM134.6 123.4h.55v.55h-.55zM134.0 115.2h.55v.55h-.55zM134.1 121.7h.55v.55h-.55zM132.0 126.4h.55v.55h-.55zM132.0 125.2h.55v.55h-.55zM132.1 123.7h.55v.55h-.55zM128.5 111.8h.55v.55h-.55zM126.0 128.0h.55v.55h-.55zM134.6 118.9h.55v.55h-.55zM135.1 109.3h.55v.55h-.55zM132.5 112.3h.55v.55h-.55zM122.4 114.5h.55v.55h-.55zM127.5 130.1h.55v.55h-.55zM128.1 111.2h.55v.55h-.55zM137.0 116.9h.55v.55h-.55zM125.1 119.1h.55v.55h-.55zM126.6 110.1h.55v.55h-.55zM141.6 115.8h.55v.55h-.55zM127.1 119.6h.55v.55h-.55zM130.5 116.6h.55v.55h-.55zM127.3 98.9h.55v.55h-.55zM135.8 120.6h.55v.55h-.55zM132.2 115.9h.55v.55h-.55zM135.7 122.2h.55v.55h-.55zM133.3 121.5h.55v.55h-.55zM130.9 113.5h.55v.55h-.55zM139.1 114.7h.55v.55h-.55zM142.2 122.9h.55v.55h-.55zM132.3 127.3h.55v.55h-.55zM129.5 115.2h.55v.55h-.55zM130.2 117.0h.55v.55h-.55zM134.7 107.2h.55v.55h-.55zM127.8 100.3h.55v.55h-.55zM135.7 125.1h.55v.55h-.55zM133.7 120.3h.55v.55h-.55zM134.7 120.9h.55v.55h-.55zM135.3 119.1h.55v.55h-.55zM126.9 125.7h.55v.55h-.55zM138.8 101.9h.55v.55h-.55zM130.8 106.5h.55v.55h-.55zM134.6 114.3h.55v.55h-.55zM139.3 127.2h.55v.55h-.55zM129.6 112.6h.55v.55h-.55zM129.0 122.3h.55v.55h-.55zM127.2 121.0h.55v.55h-.55zM124.8 126.6h.55v.55h-.55zM134.4 106.3h.55v.55h-.55zM128.0 118.3h.55v.55h-.55zM133.4 90.6h.55v.55h-.55zM129.7 104.5h.55v.55h-.55zM138.2 119.2h.55v.55h-.55zM133.0 122.6h.55v.55h-.55zM125.7 110.8h.55v.55h-.55zM126.2 106.5h.55v.55h-.55zM130.3 107.2h.55v.55h-.55zM140.2 121.6h.55v.55h-.55zM136.2 101.7h.55v.55h-.55zM130.9 115.5h.55v.55h-.55zM132.8 121.1h.55v.55h-.55zM127.9 108.5h.55v.55h-.55zM142.6 114.3h.55v.55h-.55zM128.0 118.7h.55v.55h-.55zM130.8 110.1h.55v.55h-.55zM137.3 110.3h.55v.55h-.55zM127.6 121.9h.55v.55h-.55zM131.0 107.2h.55v.55h-.55zM130.6 113.1h.55v.55h-.55zM130.8 110.1h.55v.55h-.55zM134.9 113.7h.55v.55h-.55zM128.9 126.7h.55v.55h-.55zM127.2 123.9h.55v.55h-.55zM135.0 114.2h.55v.55h-.55zM133.1 103.3h.55v.55h-.55zM133.2 107.4h.55v.55h-.55zM127.6 119.3h.55v.55h-.55zM128.2 118.2h.55v.55h-.55zM134.1 126.5h.55v.55h-.55zM134.0 126.5h.55v.55h-.55zM128.1 113.6h.55v.55h-.55zM135.3 127.8h.55v.55h-.55zM134.3 112.1h.55v.55h-.55zM126.5 108.2h.55v.55h-.55zM137.7 108.0h.55v.55h-.55zM130.8 122.7h.55v.55h-.55zM134.2 110.5h.55v.55h-.55zM142.1 118.4h.55v.55h-.55zM133.4 124.4h.55v.55h-.55zM130.4 123.3h.55v.55h-.55zM131.3 108.9h.55v.55h-.55zM127.1 120.4h.55v.55h-.55zM132.5 115.5h.55v.55h-.55zM129.7 114.7h.55v.55h-.55zM136.0 127.0h.55v.55h-.55zM130.7 119.3h.55v.55h-.55zM122.6 106.5h.55v.55h-.55zM128.4 108.7h.55v.55h-.55zM135.5 98.0h.55v.55h-.55zM134.5 123.2h.55v.55h-.55zM143.1 112.5h.55v.55h-.55zM134.3 130.4h.55v.55h-.55zM136.7 108.4h.55v.55h-.55zM130.2 106.5h.55v.55h-.55zM132.3 123.2h.55v.55h-.55zM138.8 122.1h.55v.55h-.55zM136.5 126.6h.55v.55h-.55zM127.8 123.1h.55v.55h-.55zM136.9 115.3h.55v.55h-.55zM127.2 118.4h.55v.55h-.55zM132.8 123.3h.55v.55h-.55zM123.0 113.6h.55v.55h-.55zM142.2 128.7h.55v.55h-.55zM131.2 114.3h.55v.55h-.55zM130.6 108.2h.55v.55h-.55zM129.7 116.6h.55v.55h-.55zM126.0 116.3h.55v.55h-.55zM133.3 105.4h.55v.55h-.55zM129.7 102.9h.55v.55h-.55zM132.2 119.0h.55v.55h-.55zM129.4 117.6h.55v.55h-.55zM134.8 123.2h.55v.55h-.55zM125.3 114.1h.55v.55h-.55zM124.8 99.9h.55v.55h-.55zM137.1 123.9h.55v.55h-.55zM138.4 123.9h.55v.55h-.55zM129.5 118.9h.55v.55h-.55zM129.3 129.3h.55v.55h-.55zM120.1 120.6h.55v.55h-.55zM129.2 123.5h.55v.55h-.55zM138.0 111.3h.55v.55h-.55zM138.8 126.8h.55v.55h-.55zM126.1 104.7h.55v.55h-.55zM136.7 110.5h.55v.55h-.55zM133.1 116.6h.55v.55h-.55zM139.5 117.7h.55v.55h-.55zM139.9 116.9h.55v.55h-.55zM133.3 114.3h.55v.55h-.55zM125.4 113.9h.55v.55h-.55zM127.2 120.7h.55v.55h-.55zM132.8 111.8h.55v.55h-.55zM138.4 120.4h.55v.55h-.55zM141.2 113.5h.55v.55h-.55zM130.1 110.3h.55v.55h-.55zM133.2 115.5h.55v.55h-.55zM136.0 111.4h.55v.55h-.55zM134.0 114.6h.55v.55h-.55zM130.5 115.1h.55v.55h-.55zM132.3 122.8h.55v.55h-.55zM137.1 117.4h.55v.55h-.55zM127.9 117.0h.55v.55h-.55zM131.0 114.6h.55v.55h-.55zM125.9 115.8h.55v.55h-.55zM122.9 128.4h.55v.55h-.55zM135.7 123.8h.55v.55h-.55zM127.3 119.2h.55v.55h-.55zM138.4 115.1h.55v.55h-.55zM126.6 116.0h.55v.55h-.55zM120.7 125.5h.55v.55h-.55zM134.2 104.6h.55v.55h-.55zM135.5 127.3h.55v.55h-.55zM135.2 123.0h.55v.55h-.55zM139.7 119.0h.55v.55h-.55zM139.1 115.2h.55v.55h-.55zM128.6 114.1h.55v.55h-.55zM126.8 120.6h.55v.55h-.55zM128.5 120.3h.55v.55h-.55zM140.9 112.1h.55v.55h-.55zM131.1 115.5h.55v.55h-.55zM138.2 115.1h.55v.55h-.55zM125.1 111.2h.55v.55h-.55zM125.6 130.1h.55v.55h-.55zM124.8 120.2h.55v.55h-.55zM126.2 113.2h.55v.55h-.55zM120.0 122.4h.55v.55h-.55zM132.2 107.6h.55v.55h-.55zM121.3 116.4h.55v.55h-.55zM131.9 103.9h.55v.55h-.55zM134.4 115.9h.55v.55h-.55zM126.3 109.7h.55v.55h-.55zM119.7 123.5h.55v.55h-.55zM136.9 115.2h.55v.55h-.55zM125.7 106.8h.55v.55h-.55zM130.4 108.9h.55v.55h-.55zM133.4 109.0h.55v.55h-.55zM136.5 127.6h.55v.55h-.55zM129.0 109.6h.55v.55h-.55zM133.8 108.4h.55v.55h-.55zM137.5 110.8h.55v.55h-.55zM126.0 124.3h.55v.55h-.55zM134.2 98.3h.55v.55h-.55zM128.4 105.3h.55v.55h-.55zM130.8 118.5h.55v.55h-.55zM129.6 118.2h.55v.55h-.55zM136.4 114.0h.55v.55h-.55zM125.6 108.0h.55v.55h-.55zM131.1 120.3h.55v.55h-.55zM127.9 111.6h.55v.55h-.55zM136.7 112.2h.55v.55h-.55zM132.8 118.0h.55v.55h-.55zM137.7 119.0h.55v.55h-.55zM131.6 114.2h.55v.55h-.55zM129.3 126.0h.55v.55h-.55zM142.6 102.7h.55v.55h-.55zM137.0 107.9h.55v.55h-.55zM128.8 114.1h.55v.55h-.55zM129.7 113.5h.55v.55h-.55zM124.7 111.0h.55v.55h-.55zM128.0 118.6h.55v.55h-.55zM125.5 116.7h.55v.55h-.55zM135.1 116.3h.55v.55h-.55zM131.4 110.7h.55v.55h-.55zM128.8 113.6h.55v.55h-.55zM136.3 107.9h.55v.55h-.55zM129.0 116.6h.55v.55h-.55zM127.3 122.7h.55v.55h-.55zM130.0 121.3h.55v.55h-.55zM134.5 130.2h.55v.55h-.55zM140.6 109.1h.55v.55h-.55zM125.4 106.5h.55v.55h-.55zM134.3 121.6h.55v.55h-.55zM131.9 116.5h.55v.55h-.55zM139.5 124.9h.55v.55h-.55zM133.0 122.4h.55v.55h-.55zM124.5 127.5h.55v.55h-.55zM142.2 118.2h.55v.55h-.55zM129.8 128.0h.55v.55h-.55zM129.5 117.8h.55v.55h-.55zM135.0 115.6h.55v.55h-.55zM135.5 99.6h.55v.55h-.55zM119.8 123.5h.55v.55h-.55zM134.6 119.0h.55v.55h-.55zM130.0 117.4h.55v.55h-.55zM134.2 106.7h.55v.55h-.55zM133.2 110.0h.55v.55h-.55zM142.4 120.2h.55v.55h-.55zM133.3 126.0h.55v.55h-.55zM136.7 125.5h.55v.55h-.55zM128.8 118.3h.55v.55h-.55zM136.4 119.0h.55v.55h-.55zM132.6 111.9h.55v.55h-.55zM132.9 129.4h.55v.55h-.55zM126.0 104.8h.55v.55h-.55zM126.0 103.1h.55v.55h-.55zM134.5 117.8h.55v.55h-.55zM138.9 126.4h.55v.55h-.55zM120.7 116.4h.55v.55h-.55zM144.2 113.5h.55v.55h-.55zM128.5 111.5h.55v.55h-.55zM139.8 113.1h.55v.55h-.55zM134.1 127.8h.55v.55h-.55zM132.9 117.2h.55v.55h-.55zM126.9 106.0h.55v.55h-.55zM137.4 105.5h.55v.55h-.55zM137.3 128.2h.55v.55h-.55zM139.5 115.4h.55v.55h-.55zM127.9 117.9h.55v.55h-.55zM138.5 121.9h.55v.55h-.55zM134.4 115.9h.55v.55h-.55zM136.6 99.7h.55v.55h-.55zM134.4 123.3h.55v.55h-.55zM122.6 109.5h.55v.55h-.55zM129.9 116.1h.55v.55h-.55zM137.9 112.0h.55v.55h-.55zM132.7 110.6h.55v.55h-.55zM130.9 120.4h.55v.55h-.55zM134.1 125.9h.55v.55h-.55zM125.8 124.0h.55v.55h-.55zM134.3 110.0h.55v.55h-.55zM138.5 111.1h.55v.55h-.55zM130.2 121.8h.55v.55h-.55zM139.0 113.4h.55v.55h-.55zM139.3 120.6h.55v.55h-.55zM128.2 123.5h.55v.55h-.55zM132.3 110.6h.55v.55h-.55zM131.3 128.1h.55v.55h-.55zM133.8 114.8h.55v.55h-.55zM136.0 104.6h.55v.55h-.55zM135.2 128.9h.55v.55h-.55zM126.3 107.2h.55v.55h-.55zM127.8 115.2h.55v.55h-.55zM128.3 116.9h.55v.55h-.55zM127.1 119.5h.55v.55h-.55zM134.8 121.1h.55v.55h-.55zM129.2 124.5h.55v.55h-.55zM124.4 111.2h.55v.55h-.55zM131.6 128.4h.55v.55h-.55zM130.1 122.5h.55v.55h-.55zM140.6 110.0h.55v.55h-.55zM133.4 121.5h.55v.55h-.55zM135.4 121.6h.55v.55h-.55zM131.5 117.5h.55v.55h-.55zM125.3 123.5h.55v.55h-.55zM133.6 112.0h.55v.55h-.55zM140.9 117.2h.55v.55h-.55zM128.8 122.3h.55v.55h-.55zM134.2 122.9h.55v.55h-.55zM131.6 123.9h.55v.55h-.55zM132.7 127.8h.55v.55h-.55zM133.7 109.9h.55v.55h-.55zM127.0 122.2h.55v.55h-.55zM136.7 104.2h.55v.55h-.55zM135.1 116.5h.55v.55h-.55zM133.4 109.9h.55v.55h-.55zM126.6 111.9h.55v.55h-.55zM128.1 113.4h.55v.55h-.55zM132.6 117.5h.55v.55h-.55zM141.4 108.7h.55v.55h-.55zM129.9 118.0h.55v.55h-.55zM135.1 108.0h.55v.55h-.55zM125.0 119.4h.55v.55h-.55zM133.9 122.3h.55v.55h-.55zM135.2 103.5h.55v.55h-.55zM137.3 116.0h.55v.55h-.55zM142.3 113.7h.55v.55h-.55zM121.5 116.1h.55v.55h-.55zM133.0 119.9h.55v.55h-.55zM133.1 112.4h.55v.55h-.55zM123.9 115.6h.55v.55h-.55zM130.5 111.3h.55v.55h-.55zM132.3 114.4h.55v.55h-.55zM122.1 109.7h.55v.55h-.55zM127.9 114.8h.55v.55h-.55zM140.1 116.7h.55v.55h-.55zM134.7 98.5h.55v.55h-.55zM138.0 112.3h.55v.55h-.55zM134.7 107.5h.55v.55h-.55zM131.9 124.3h.55v.55h-.55zM131.9 119.0h.55v.55h-.55zM128.3 110.8h.55v.55h-.55zM133.4 115.4h.55v.55h-.55zM132.7 111.2h.55v.55h-.55zM130.1 123.7h.55v.55h-.55zM138.9 113.6h.55v.55h-.55zM128.9 118.2h.55v.55h-.55zM136.6 119.5h.55v.55h-.55zM137.3 115.4h.55v.55h-.55zM127.3 100.4h.55v.55h-.55zM136.2 119.3h.55v.55h-.55zM128.9 120.2h.55v.55h-.55zM126.4 126.1h.55v.55h-.55zM137.1 127.4h.55v.55h-.55zM129.9 129.6h.55v.55h-.55zM123.7 125.3h.55v.55h-.55zM138.5 114.6h.55v.55h-.55zM136.7 118.1h.55v.55h-.55zM139.2 115.0h.55v.55h-.55zM132.3 106.8h.55v.55h-.55zM142.1 109.8h.55v.55h-.55zM126.9 109.2h.55v.55h-.55zM132.5 117.7h.55v.55h-.55zM136.9 104.4h.55v.55h-.55zM132.9 115.5h.55v.55h-.55zM135.8 118.2h.55v.55h-.55zM138.6 118.4h.55v.55h-.55zM141.7 108.8h.55v.55h-.55zM137.8 125.2h.55v.55h-.55zM128.5 105.4h.55v.55h-.55zM128.9 120.5h.55v.55h-.55zM140.2 104.2h.55v.55h-.55zM130.7 106.0h.55v.55h-.55zM135.9 118.5h.55v.55h-.55zM132.2 123.7h.55v.55h-.55zM133.6 130.1h.55v.55h-.55zM130.7 111.9h.55v.55h-.55zM132.1 116.8h.55v.55h-.55zM138.4 113.7h.55v.55h-.55zM129.5 111.2h.55v.55h-.55zM128.3 99.8h.55v.55h-.55zM132.7 121.6h.55v.55h-.55zM132.9 110.4h.55v.55h-.55zM136.6 123.4h.55v.55h-.55zM133.3 122.8h.55v.55h-.55zM131.6 120.7h.55v.55h-.55zM134.7 106.5h.55v.55h-.55zM129.6 110.9h.55v.55h-.55zM134.0 94.4h.55v.55h-.55zM133.5 117.0h.55v.55h-.55zM131.2 120.6h.55v.55h-.55zM124.8 119.1h.55v.55h-.55zM128.4 111.7h.55v.55h-.55zM138.8 114.1h.55v.55h-.55zM137.3 116.8h.55v.55h-.55zM130.6 113.8h.55v.55h-.55zM125.0 114.1h.55v.55h-.55zM132.7 129.5h.55v.55h-.55zM135.8 124.4h.55v.55h-.55zM127.5 110.6h.55v.55h-.55zM133.9 121.8h.55v.55h-.55zM126.9 126.2h.55v.55h-.55zM128.9 119.5h.55v.55h-.55zM129.7 123.6h.55v.55h-.55zM136.3 126.1h.55v.55h-.55zM127.6 118.4h.55v.55h-.55zM143.1 117.2h.55v.55h-.55zM134.4 118.3h.55v.55h-.55zM139.8 111.1h.55v.55h-.55zM134.4 117.9h.55v.55h-.55zM136.9 124.5h.55v.55h-.55zM126.2 110.0h.55v.55h-.55zM139.9 112.2h.55v.55h-.55zM131.9 111.5h.55v.55h-.55zM141.5 106.2h.55v.55h-.55zM133.0 113.7h.55v.55h-.55zM130.6 106.4h.55v.55h-.55zM128.2 115.4h.55v.55h-.55zM133.3 100.9h.55v.55h-.55zM132.5 109.4h.55v.55h-.55zM131.8 113.2h.55v.55h-.55zM131.5 115.0h.55v.55h-.55zM134.3 117.2h.55v.55h-.55zM123.8 95.8h.55v.55h-.55zM125.0 119.6h.55v.55h-.55zM123.8 108.1h.55v.55h-.55zM141.1 113.9h.55v.55h-.55zM131.1 120.0h.55v.55h-.55zM135.2 112.5h.55v.55h-.55zM132.5 99.0h.55v.55h-.55zM133.6 122.1h.55v.55h-.55zM123.5 125.1h.55v.55h-.55zM141.4 94.3h.55v.55h-.55zM131.0 129.4h.55v.55h-.55zM135.4 110.7h.55v.55h-.55zM129.0 113.7h.55v.55h-.55zM135.4 109.4h.55v.55h-.55zM124.7 118.1h.55v.55h-.55zM126.9 119.4h.55v.55h-.55zM130.9 103.8h.55v.55h-.55zM129.4 99.2h.55v.55h-.55zM133.9 108.4h.55v.55h-.55zM125.8 102.9h.55v.55h-.55zM138.9 121.5h.55v.55h-.55zM127.0 115.4h.55v.55h-.55zM135.0 122.0h.55v.55h-.55zM132.0 98.3h.55v.55h-.55zM140.4 115.7h.55v.55h-.55zM138.8 105.5h.55v.55h-.55zM135.9 128.9h.55v.55h-.55zM137.7 106.0h.55v.55h-.55zM127.9 123.1h.55v.55h-.55zM131.1 103.6h.55v.55h-.55zM136.7 126.7h.55v.55h-.55zM135.2 119.2h.55v.55h-.55zM137.0 99.3h.55v.55h-.55zM134.4 126.6h.55v.55h-.55zM130.8 120.1h.55v.55h-.55zM126.2 121.6h.55v.55h-.55zM133.4 113.6h.55v.55h-.55zM131.9 117.8h.55v.55h-.55zM133.0 123.8h.55v.55h-.55zM137.0 97.8h.55v.55h-.55zM133.3 127.1h.55v.55h-.55zM126.3 115.4h.55v.55h-.55zM143.8 111.4h.55v.55h-.55zM137.0 119.2h.55v.55h-.55zM124.9 114.7h.55v.55h-.55zM122.9 113.8h.55v.55h-.55zM136.5 122.8h.55v.55h-.55zM133.5 112.2h.55v.55h-.55zM135.2 128.1h.55v.55h-.55zM135.8 125.9h.55v.55h-.55zM134.3 121.1h.55v.55h-.55zM126.8 109.1h.55v.55h-.55zM128.5 110.5h.55v.55h-.55zM138.6 115.2h.55v.55h-.55zM130.7 114.6h.55v.55h-.55zM132.0 129.0h.55v.55h-.55zM139.5 113.2h.55v.55h-.55zM140.6 122.5h.55v.55h-.55zM133.6 128.8h.55v.55h-.55zM132.6 120.0h.55v.55h-.55zM132.8 106.7h.55v.55h-.55zM125.8 108.4h.55v.55h-.55zM127.7 111.8h.55v.55h-.55zM129.3 127.0h.55v.55h-.55zM132.1 124.0h.55v.55h-.55zM133.7 109.4h.55v.55h-.55zM130.6 103.6h.55v.55h-.55zM123.4 120.4h.55v.55h-.55zM131.8 117.7h.55v.55h-.55zM136.8 104.8h.55v.55h-.55zM131.2 96.8h.55v.55h-.55zM127.6 122.2h.55v.55h-.55zM124.3 105.1h.55v.55h-.55zM135.7 115.2h.55v.55h-.55zM135.0 117.6h.55v.55h-.55zM129.9 112.0h.55v.55h-.55zM134.1 115.7h.55v.55h-.55zM135.7 111.8h.55v.55h-.55zM136.0 113.1h.55v.55h-.55zM137.7 125.7h.55v.55h-.55zM133.7 110.8h.55v.55h-.55zM125.7 117.7h.55v.55h-.55zM132.6 110.0h.55v.55h-.55zM126.5 112.6h.55v.55h-.55zM126.6 111.0h.55v.55h-.55zM127.5 120.7h.55v.55h-.55zM129.7 116.4h.55v.55h-.55zM125.3 126.5h.55v.55h-.55zM131.2 113.6h.55v.55h-.55zM127.3 122.1h.55v.55h-.55zM134.2 111.1h.55v.55h-.55zM139.9 108.7h.55v.55h-.55zM137.8 118.3h.55v.55h-.55zM125.1 114.4h.55v.55h-.55zM134.6 113.1h.55v.55h-.55zM132.3 115.9h.55v.55h-.55zM133.9 110.9h.55v.55h-.55zM141.0 119.7h.55v.55h-.55zM139.2 114.6h.55v.55h-.55zM132.9 108.1h.55v.55h-.55zM132.1 130.3h.55v.55h-.55zM133.4 110.4h.55v.55h-.55zM129.2 122.0h.55v.55h-.55zM133.1 117.1h.55v.55h-.55zM124.4 110.5h.55v.55h-.55zM128.5 99.2h.55v.55h-.55zM131.1 116.0h.55v.55h-.55zM136.1 122.6h.55v.55h-.55zM135.2 122.3h.55v.55h-.55zM139.3 114.0h.55v.55h-.55zM127.5 121.4h.55v.55h-.55zM137.0 121.2h.55v.55h-.55zM135.8 125.7h.55v.55h-.55zM134.0 108.7h.55v.55h-.55zM129.5 101.1h.55v.55h-.55zM136.5 112.2h.55v.55h-.55zM128.0 117.0h.55v.55h-.55zM127.9 100.6h.55v.55h-.55zM136.8 116.1h.55v.55h-.55zM131.6 123.8h.55v.55h-.55zM131.0 123.0h.55v.55h-.55zM138.2 110.8h.55v.55h-.55zM134.1 118.2h.55v.55h-.55zM132.5 122.9h.55v.55h-.55zM133.9 115.7h.55v.55h-.55zM125.9 116.9h.55v.55h-.55zM127.6 129.9h.55v.55h-.55zM134.2 111.8h.55v.55h-.55zM130.2 126.8h.55v.55h-.55zM125.0 118.6h.55v.55h-.55zM132.7 108.9h.55v.55h-.55zM137.1 113.4h.55v.55h-.55zM137.2 118.7h.55v.55h-.55zM128.9 115.9h.55v.55h-.55zM136.9 108.7h.55v.55h-.55zM127.9 116.1h.55v.55h-.55zM134.7 122.4h.55v.55h-.55zM127.2 106.4h.55v.55h-.55zM131.5 114.9h.55v.55h-.55zM133.3 103.3h.55v.55h-.55zM129.5 107.0h.55v.55h-.55zM139.8 98.7h.55v.55h-.55zM127.4 112.2h.55v.55h-.55zM123.3 112.8h.55v.55h-.55zM128.2 103.0h.55v.55h-.55zM129.5 128.4h.55v.55h-.55zM132.6 128.8h.55v.55h-.55zM138.1 118.0h.55v.55h-.55zM130.4 97.4h.55v.55h-.55zM121.9 118.7h.55v.55h-.55zM132.2 118.3h.55v.55h-.55zM127.7 114.3h.55v.55h-.55zM126.6 124.4h.55v.55h-.55zM132.4 99.1h.55v.55h-.55zM129.0 127.6h.55v.55h-.55zM126.8 107.0h.55v.55h-.55zM127.2 111.9h.55v.55h-.55zM132.4 115.3h.55v.55h-.55zM132.7 111.7h.55v.55h-.55zM135.1 129.2h.55v.55h-.55zM127.6 119.3h.55v.55h-.55zM133.4 118.4h.55v.55h-.55zM131.7 121.0h.55v.55h-.55zM130.9 111.3h.55v.55h-.55zM128.2 123.4h.55v.55h-.55zM129.4 101.1h.55v.55h-.55zM129.6 112.4h.55v.55h-.55zM136.2 125.8h.55v.55h-.55zM126.6 127.8h.55v.55h-.55zM133.6 130.5h.55v.55h-.55zM129.5 122.7h.55v.55h-.55zM125.7 116.7h.55v.55h-.55zM132.6 115.2h.55v.55h-.55zM127.7 114.7h.55v.55h-.55zM132.2 126.2h.55v.55h-.55zM129.5 119.0h.55v.55h-.55zM131.8 117.7h.55v.55h-.55zM125.0 117.0h.55v.55h-.55zM144.7 117.0h.55v.55h-.55zM134.3 120.1h.55v.55h-.55zM124.6 114.4h.55v.55h-.55zM130.9 115.6h.55v.55h-.55zM127.1 122.7h.55v.55h-.55zM125.6 127.0h.55v.55h-.55zM131.9 113.2h.55v.55h-.55zM124.5 120.0h.55v.55h-.55zM133.8 104.1h.55v.55h-.55zM140.1 114.9h.55v.55h-.55zM124.6 127.6h.55v.55h-.55zM126.9 109.1h.55v.55h-.55zM125.0 108.7h.55v.55h-.55zM130.6 107.4h.55v.55h-.55zM133.2 107.8h.55v.55h-.55zM131.4 97.1h.55v.55h-.55zM129.2 116.1h.55v.55h-.55zM134.9 113.5h.55v.55h-.55zM132.4 119.7h.55v.55h-.55zM127.6 121.4h.55v.55h-.55zM133.3 112.0h.55v.55h-.55zM125.9 127.8h.55v.55h-.55zM137.1 118.4h.55v.55h-.55zM137.1 129.4h.55v.55h-.55zM131.2 121.7h.55v.55h-.55zM134.6 121.0h.55v.55h-.55zM131.3 112.7h.55v.55h-.55zM135.6 118.6h.55v.55h-.55zM139.8 120.8h.55v.55h-.55zM132.3 105.9h.55v.55h-.55zM131.3 119.2h.55v.55h-.55zM131.2 110.5h.55v.55h-.55zM126.3 121.2h.55v.55h-.55zM125.6 124.9h.55v.55h-.55zM123.0 115.7h.55v.55h-.55zM125.3 109.3h.55v.55h-.55zM121.3 125.2h.55v.55h-.55zM126.9 122.7h.55v.55h-.55zM120.7 108.2h.55v.55h-.55zM129.6 112.7h.55v.55h-.55zM121.7 114.7h.55v.55h-.55zM122.3 125.8h.55v.55h-.55zM120.7 118.8h.55v.55h-.55zM121.5 110.4h.55v.55h-.55zM130.7 107.0h.55v.55h-.55zM123.5 119.5h.55v.55h-.55zM131.3 118.7h.55v.55h-.55zM122.2 118.3h.55v.55h-.55zM130.7 121.1h.55v.55h-.55zM120.5 127.0h.55v.55h-.55zM120.7 128.0h.55v.55h-.55zM126.0 122.1h.55v.55h-.55zM125.0 118.5h.55v.55h-.55zM132.2 116.9h.55v.55h-.55zM123.5 121.7h.55v.55h-.55zM127.6 117.8h.55v.55h-.55zM128.0 122.0h.55v.55h-.55zM121.7 117.6h.55v.55h-.55zM127.9 107.2h.55v.55h-.55zM124.2 108.6h.55v.55h-.55zM122.9 100.8h.55v.55h-.55zM124.4 109.7h.55v.55h-.55zM128.2 112.6h.55v.55h-.55zM131.9 126.9h.55v.55h-.55zM124.4 119.7h.55v.55h-.55zM121.4 103.3h.55v.55h-.55zM119.6 128.9h.55v.55h-.55zM121.8 115.5h.55v.55h-.55zM120.8 111.3h.55v.55h-.55zM121.7 114.3h.55v.55h-.55zM123.9 123.8h.55v.55h-.55zM123.5 114.1h.55v.55h-.55zM120.5 121.1h.55v.55h-.55zM125.4 112.4h.55v.55h-.55zM123.9 127.7h.55v.55h-.55zM122.9 123.6h.55v.55h-.55zM130.3 123.4h.55v.55h-.55zM119.7 100.3h.55v.55h-.55zM121.5 116.9h.55v.55h-.55zM121.1 113.3h.55v.55h-.55zM126.4 103.3h.55v.55h-.55zM123.9 113.5h.55v.55h-.55zM124.4 117.1h.55v.55h-.55zM131.4 118.0h.55v.55h-.55zM130.6 112.4h.55v.55h-.55zM123.9 101.7h.55v.55h-.55zM124.7 107.8h.55v.55h-.55zM124.8 110.6h.55v.55h-.55zM124.8 118.6h.55v.55h-.55zM124.0 129.5h.55v.55h-.55zM128.0 107.9h.55v.55h-.55zM120.1 114.6h.55v.55h-.55zM126.5 109.2h.55v.55h-.55zM122.3 107.8h.55v.55h-.55zM124.0 119.4h.55v.55h-.55zM119.6 115.4h.55v.55h-.55zM124.5 105.1h.55v.55h-.55zM122.2 104.1h.55v.55h-.55zM127.4 113.2h.55v.55h-.55zM123.0 121.2h.55v.55h-.55zM122.9 123.5h.55v.55h-.55zM128.7 115.8h.55v.55h-.55zM123.0 105.9h.55v.55h-.55zM120.9 113.5h.55v.55h-.55zM122.6 108.3h.55v.55h-.55zM119.7 123.1h.55v.55h-.55zM129.1 121.5h.55v.55h-.55zM130.1 115.5h.55v.55h-.55zM122.0 117.1h.55v.55h-.55zM121.3 96.4h.55v.55h-.55zM123.8 120.7h.55v.55h-.55zM128.9 113.6h.55v.55h-.55zM128.1 107.2h.55v.55h-.55zM128.4 108.1h.55v.55h-.55zM123.1 102.0h.55v.55h-.55zM130.4 111.1h.55v.55h-.55zM128.1 114.3h.55v.55h-.55zM124.7 122.5h.55v.55h-.55zM122.3 105.6h.55v.55h-.55zM128.0 113.8h.55v.55h-.55zM128.9 116.7h.55v.55h-.55zM122.4 109.8h.55v.55h-.55zM123.9 109.4h.55v.55h-.55zM127.6 109.8h.55v.55h-.55zM129.3 111.9h.55v.55h-.55zM123.6 109.3h.55v.55h-.55zM132.9 95.4h.55v.55h-.55zM127.1 126.6h.55v.55h-.55zM129.8 99.5h.55v.55h-.55zM124.5 106.2h.55v.55h-.55zM123.1 113.4h.55v.55h-.55zM128.0 123.9h.55v.55h-.55zM123.8 107.7h.55v.55h-.55zM125.2 116.3h.55v.55h-.55zM122.1 124.5h.55v.55h-.55zM129.1 107.5h.55v.55h-.55zM129.0 104.7h.55v.55h-.55zM121.9 99.8h.55v.55h-.55zM119.6 116.3h.55v.55h-.55zM128.0 101.1h.55v.55h-.55zM122.6 115.1h.55v.55h-.55zM126.0 96.0h.55v.55h-.55zM120.1 120.3h.55v.55h-.55zM123.7 122.5h.55v.55h-.55zM119.8 113.7h.55v.55h-.55zM120.7 104.0h.55v.55h-.55zM120.1 119.1h.55v.55h-.55zM126.2 128.6h.55v.55h-.55zM121.0 100.2h.55v.55h-.55zM125.6 107.6h.55v.55h-.55zM123.6 116.9h.55v.55h-.55zM122.9 94.8h.55v.55h-.55zM129.0 120.2h.55v.55h-.55zM119.9 128.3h.55v.55h-.55zM125.0 123.9h.55v.55h-.55zM120.5 121.5h.55v.55h-.55zM127.4 124.9h.55v.55h-.55zM124.4 100.5h.55v.55h-.55zM129.2 112.4h.55v.55h-.55zM134.6 112.6h.55v.55h-.55zM128.5 125.9h.55v.55h-.55zM125.7 122.6h.55v.55h-.55zM125.3 95.9h.55v.55h-.55zM121.1 111.2h.55v.55h-.55zM120.6 116.8h.55v.55h-.55zM123.7 122.7h.55v.55h-.55zM132.8 108.7h.55v.55h-.55zM123.9 99.9h.55v.55h-.55zM123.8 128.3h.55v.55h-.55zM126.5 101.7h.55v.55h-.55zM125.2 114.6h.55v.55h-.55zM122.1 124.4h.55v.55h-.55zM131.4 112.2h.55v.55h-.55zM120.2 101.6h.55v.55h-.55zM125.6 110.4h.55v.55h-.55zM126.2 125.4h.55v.55h-.55zM121.9 117.2h.55v.55h-.55zM119.9 126.2h.55v.55h-.55zM123.1 115.3h.55v.55h-.55zM125.3 108.5h.55v.55h-.55zM129.5 119.1h.55v.55h-.55zM121.4 104.0h.55v.55h-.55zM124.7 117.1h.55v.55h-.55zM123.2 104.2h.55v.55h-.55zM129.1 116.9h.55v.55h-.55zM127.9 121.7h.55v.55h-.55zM123.3 109.1h.55v.55h-.55zM123.1 129.7h.55v.55h-.55zM129.9 121.4h.55v.55h-.55zM124.4 126.6h.55v.55h-.55zM130.9 115.4h.55v.55h-.55zM120.3 123.0h.55v.55h-.55zM123.5 122.1h.55v.55h-.55zM128.0 115.1h.55v.55h-.55zM127.3 122.3h.55v.55h-.55zM124.8 117.8h.55v.55h-.55zM128.6 114.8h.55v.55h-.55zM122.7 111.4h.55v.55h-.55zM123.1 118.6h.55v.55h-.55zM124.3 115.0h.55v.55h-.55zM133.5 106.6h.55v.55h-.55zM125.0 123.8h.55v.55h-.55zM124.4 118.0h.55v.55h-.55zM127.4 108.3h.55v.55h-.55zM125.9 125.4h.55v.55h-.55zM124.6 118.2h.55v.55h-.55zM133.4 129.2h.55v.55h-.55zM130.9 89.1h.55v.55h-.55zM121.2 111.2h.55v.55h-.55zM124.3 110.4h.55v.55h-.55zM126.1 123.3h.55v.55h-.55zM126.4 121.5h.55v.55h-.55zM124.4 108.5h.55v.55h-.55zM122.0 119.9h.55v.55h-.55zM131.0 115.0h.55v.55h-.55zM126.7 110.2h.55v.55h-.55zM129.7 123.2h.55v.55h-.55zM121.9 110.1h.55v.55h-.55zM127.3 116.4h.55v.55h-.55zM129.5 109.8h.55v.55h-.55zM121.0 102.5h.55v.55h-.55zM131.8 95.6h.55v.55h-.55zM121.9 92.6h.55v.55h-.55zM121.0 120.6h.55v.55h-.55zM123.8 125.6h.55v.55h-.55zM126.8 110.5h.55v.55h-.55zM124.0 120.4h.55v.55h-.55zM122.3 93.2h.55v.55h-.55zM122.0 118.7h.55v.55h-.55zM124.6 96.6h.55v.55h-.55zM120.2 122.2h.55v.55h-.55zM120.5 124.8h.55v.55h-.55zM120.6 108.8h.55v.55h-.55zM125.6 109.8h.55v.55h-.55zM128.0 98.9h.55v.55h-.55zM124.6 108.6h.55v.55h-.55zM131.0 112.1h.55v.55h-.55zM124.6 115.5h.55v.55h-.55zM129.9 120.5h.55v.55h-.55zM123.1 123.2h.55v.55h-.55zM127.1 118.5h.55v.55h-.55zM120.1 126.8h.55v.55h-.55zM126.1 103.5h.55v.55h-.55zM126.8 126.0h.55v.55h-.55zM126.6 112.8h.55v.55h-.55zM123.1 109.3h.55v.55h-.55zM122.4 127.8h.55v.55h-.55zM126.5 105.2h.55v.55h-.55zM125.9 128.2h.55v.55h-.55zM130.1 121.3h.55v.55h-.55zM120.6 112.8h.55v.55h-.55zM121.4 109.3h.55v.55h-.55zM124.8 109.8h.55v.55h-.55zM131.6 111.6h.55v.55h-.55zM127.4 106.4h.55v.55h-.55zM121.1 100.9h.55v.55h-.55zM121.6 109.2h.55v.55h-.55zM125.1 94.5h.55v.55h-.55zM121.2 124.3h.55v.55h-.55zM122.5 108.1h.55v.55h-.55zM125.7 98.7h.55v.55h-.55zM125.1 125.7h.55v.55h-.55zM127.5 107.9h.55v.55h-.55zM131.1 120.1h.55v.55h-.55zM125.8 126.2h.55v.55h-.55zM129.6 106.3h.55v.55h-.55zM124.0 114.2h.55v.55h-.55zM124.0 120.9h.55v.55h-.55zM126.8 115.2h.55v.55h-.55zM127.4 129.4h.55v.55h-.55zM125.2 100.4h.55v.55h-.55zM123.1 114.4h.55v.55h-.55zM124.2 115.0h.55v.55h-.55zM129.3 115.5h.55v.55h-.55zM121.9 110.7h.55v.55h-.55zM126.5 108.8h.55v.55h-.55zM122.8 114.4h.55v.55h-.55zM120.5 99.0h.55v.55h-.55zM125.3 110.4h.55v.55h-.55zM123.4 94.1h.55v.55h-.55zM123.2 101.2h.55v.55h-.55zM122.1 110.6h.55v.55h-.55zM125.1 97.8h.55v.55h-.55zM124.4 125.6h.55v.55h-.55zM125.8 118.3h.55v.55h-.55zM130.1 108.1h.55v.55h-.55zM122.0 119.3h.55v.55h-.55zM126.3 116.1h.55v.55h-.55zM125.3 113.3h.55v.55h-.55zM125.5 110.9h.55v.55h-.55zM124.9 109.2h.55v.55h-.55zM122.1 99.5h.55v.55h-.55zM121.0 115.1h.55v.55h-.55zM121.0 116.2h.55v.55h-.55zM128.4 114.0h.55v.55h-.55zM120.8 112.1h.55v.55h-.55zM129.7 103.8h.55v.55h-.55zM135.5 106.2h.55v.55h-.55zM127.3 116.8h.55v.55h-.55zM130.4 126.3h.55v.55h-.55zM128.3 130.0h.55v.55h-.55zM124.9 122.3h.55v.55h-.55zM124.0 122.5h.55v.55h-.55zM124.6 108.4h.55v.55h-.55zM120.0 110.5h.55v.55h-.55zM122.7 104.8h.55v.55h-.55zM124.3 121.2h.55v.55h-.55zM125.5 110.0h.55v.55h-.55zM123.9 129.1h.55v.55h-.55zM127.6 112.9h.55v.55h-.55zM122.4 124.2h.55v.55h-.55zM142.5 127.0h.55v.55h-.55zM132.9 125.2h.55v.55h-.55zM155.5 115.7h.55v.55h-.55zM143.0 127.0h.55v.55h-.55zM141.8 122.5h.55v.55h-.55zM128.1 120.5h.55v.55h-.55zM140.5 124.5h.55v.55h-.55zM142.0 121.3h.55v.55h-.55zM143.2 114.3h.55v.55h-.55zM140.1 123.0h.55v.55h-.55zM151.7 126.4h.55v.55h-.55zM147.3 123.7h.55v.55h-.55zM140.5 128.5h.55v.55h-.55zM144.2 113.5h.55v.55h-.55zM144.9 124.4h.55v.55h-.55zM143.2 119.4h.55v.55h-.55zM147.2 113.8h.55v.55h-.55zM151.2 118.3h.55v.55h-.55zM135.3 124.1h.55v.55h-.55zM155.7 129.2h.55v.55h-.55zM136.1 116.9h.55v.55h-.55zM150.2 124.0h.55v.55h-.55zM148.6 126.3h.55v.55h-.55zM136.2 123.5h.55v.55h-.55zM138.7 124.9h.55v.55h-.55zM154.6 125.8h.55v.55h-.55zM140.3 122.3h.55v.55h-.55zM145.0 120.8h.55v.55h-.55zM151.5 117.0h.55v.55h-.55zM149.2 115.9h.55v.55h-.55zM150.4 127.1h.55v.55h-.55zM146.8 129.4h.55v.55h-.55zM155.7 122.5h.55v.55h-.55zM147.5 114.6h.55v.55h-.55zM138.8 129.3h.55v.55h-.55zM151.2 118.4h.55v.55h-.55zM146.8 117.8h.55v.55h-.55zM154.4 118.1h.55v.55h-.55zM155.0 122.0h.55v.55h-.55zM137.6 127.9h.55v.55h-.55zM149.8 125.7h.55v.55h-.55zM153.4 119.1h.55v.55h-.55zM134.5 121.6h.55v.55h-.55zM147.8 124.2h.55v.55h-.55zM139.6 125.2h.55v.55h-.55zM136.3 123.4h.55v.55h-.55zM150.0 124.4h.55v.55h-.55zM149.6 112.9h.55v.55h-.55zM143.5 120.6h.55v.55h-.55zM143.4 119.8h.55v.55h-.55zM146.4 126.4h.55v.55h-.55zM151.5 121.6h.55v.55h-.55zM143.8 124.5h.55v.55h-.55zM134.2 127.2h.55v.55h-.55zM140.9 127.2h.55v.55h-.55zM148.1 124.3h.55v.55h-.55zM155.2 129.2h.55v.55h-.55zM149.6 116.5h.55v.55h-.55zM138.7 119.4h.55v.55h-.55zM143.1 118.0h.55v.55h-.55zM138.4 129.8h.55v.55h-.55zM145.0 122.0h.55v.55h-.55zM131.0 123.1h.55v.55h-.55zM148.3 127.8h.55v.55h-.55zM131.5 117.6h.55v.55h-.55zM156.1 122.9h.55v.55h-.55zM154.6 126.6h.55v.55h-.55zM154.2 118.8h.55v.55h-.55zM150.6 122.7h.55v.55h-.55zM130.3 124.2h.55v.55h-.55zM140.2 123.8h.55v.55h-.55zM144.8 112.2h.55v.55h-.55zM154.7 121.1h.55v.55h-.55zM146.6 109.7h.55v.55h-.55zM145.7 123.6h.55v.55h-.55zM149.2 114.4h.55v.55h-.55zM154.2 113.6h.55v.55h-.55zM149.0 125.3h.55v.55h-.55zM150.3 115.8h.55v.55h-.55zM148.5 109.3h.55v.55h-.55zM150.3 122.4h.55v.55h-.55zM149.5 123.9h.55v.55h-.55zM146.6 128.8h.55v.55h-.55zM129.5 128.7h.55v.55h-.55zM141.8 116.5h.55v.55h-.55zM149.7 124.5h.55v.55h-.55zM143.8 125.6h.55v.55h-.55zM149.0 122.7h.55v.55h-.55zM138.2 118.0h.55v.55h-.55zM135.3 117.2h.55v.55h-.55zM148.4 129.6h.55v.55h-.55zM128.6 113.3h.55v.55h-.55zM140.8 124.1h.55v.55h-.55zM147.0 117.3h.55v.55h-.55zM152.3 109.6h.55v.55h-.55zM142.7 123.8h.55v.55h-.55zM149.8 119.9h.55v.55h-.55zM152.0 121.7h.55v.55h-.55zM137.3 122.0h.55v.55h-.55zM150.9 124.5h.55v.55h-.55zM151.9 125.6h.55v.55h-.55zM152.2 127.4h.55v.55h-.55zM129.7 118.8h.55v.55h-.55zM149.1 114.5h.55v.55h-.55zM146.9 116.2h.55v.55h-.55zM148.7 114.3h.55v.55h-.55zM151.9 111.3h.55v.55h-.55zM137.8 110.6h.55v.55h-.55zM161.2 123.2h.55v.55h-.55zM136.7 122.6h.55v.55h-.55zM145.6 127.2h.55v.55h-.55zM138.8 120.0h.55v.55h-.55zM151.4 122.3h.55v.55h-.55zM154.4 127.2h.55v.55h-.55zM147.1 99.6h.55v.55h-.55zM143.9 112.4h.55v.55h-.55zM134.1 113.3h.55v.55h-.55zM149.6 116.1h.55v.55h-.55zM153.9 120.3h.55v.55h-.55zM140.1 124.7h.55v.55h-.55zM138.6 116.7h.55v.55h-.55zM142.0 128.3h.55v.55h-.55zM132.7 128.0h.55v.55h-.55zM146.9 123.6h.55v.55h-.55zM136.2 121.8h.55v.55h-.55zM152.5 123.3h.55v.55h-.55zM148.2 124.8h.55v.55h-.55zM145.2 120.8h.55v.55h-.55zM147.2 128.7h.55v.55h-.55zM150.3 112.6h.55v.55h-.55zM136.7 121.3h.55v.55h-.55zM148.2 115.0h.55v.55h-.55zM146.6 115.7h.55v.55h-.55zM147.1 129.6h.55v.55h-.55zM141.3 115.8h.55v.55h-.55zM143.4 123.6h.55v.55h-.55zM142.4 122.9h.55v.55h-.55zM137.6 120.4h.55v.55h-.55zM151.0 124.4h.55v.55h-.55zM139.7 123.6h.55v.55h-.55zM150.6 120.5h.55v.55h-.55zM146.7 122.7h.55v.55h-.55zM151.8 124.5h.55v.55h-.55zM152.5 123.1h.55v.55h-.55zM149.8 119.9h.55v.55h-.55zM142.5 114.9h.55v.55h-.55zM148.4 127.7h.55v.55h-.55zM152.5 122.7h.55v.55h-.55zM147.8 123.8h.55v.55h-.55zM138.5 123.5h.55v.55h-.55zM146.6 125.2h.55v.55h-.55zM150.9 120.9h.55v.55h-.55zM152.9 123.1h.55v.55h-.55zM148.9 119.1h.55v.55h-.55zM152.3 121.6h.55v.55h-.55zM144.6 124.4h.55v.55h-.55zM143.2 129.2h.55v.55h-.55zM143.3 127.7h.55v.55h-.55zM143.6 115.1h.55v.55h-.55zM147.6 123.3h.55v.55h-.55zM147.8 119.2h.55v.55h-.55zM136.6 127.7h.55v.55h-.55zM153.4 120.9h.55v.55h-.55zM144.9 113.7h.55v.55h-.55zM147.5 115.5h.55v.55h-.55zM146.8 129.3h.55v.55h-.55zM142.1 119.6h.55v.55h-.55zM138.5 118.4h.55v.55h-.55zM139.1 126.7h.55v.55h-.55zM140.6 126.3h.55v.55h-.55zM151.1 121.5h.55v.55h-.55zM144.4 122.1h.55v.55h-.55zM134.4 121.8h.55v.55h-.55zM154.2 117.3h.55v.55h-.55zM158.3 118.3h.55v.55h-.55zM147.7 130.1h.55v.55h-.55zM154.9 123.2h.55v.55h-.55zM154.2 116.5h.55v.55h-.55zM151.9 116.8h.55v.55h-.55zM145.8 117.7h.55v.55h-.55zM144.4 124.5h.55v.55h-.55zM153.2 129.6h.55v.55h-.55zM154.6 128.3h.55v.55h-.55zM147.0 121.6h.55v.55h-.55zM135.8 117.9h.55v.55h-.55zM143.5 122.3h.55v.55h-.55zM134.1 122.1h.55v.55h-.55zM140.9 121.5h.55v.55h-.55zM143.5 121.6h.55v.55h-.55zM147.8 126.8h.55v.55h-.55zM138.3 122.7h.55v.55h-.55zM148.3 124.1h.55v.55h-.55zM144.9 116.7h.55v.55h-.55zM153.7 113.1h.55v.55h-.55zM135.1 121.8h.55v.55h-.55zM136.5 128.8h.55v.55h-.55zM154.7 120.5h.55v.55h-.55zM156.7 122.4h.55v.55h-.55zM149.8 120.7h.55v.55h-.55zM142.8 119.8h.55v.55h-.55zM148.9 124.0h.55v.55h-.55zM147.3 124.9h.55v.55h-.55zM138.5 117.5h.55v.55h-.55zM148.5 113.7h.55v.55h-.55zM151.3 121.1h.55v.55h-.55zM130.1 119.5h.55v.55h-.55zM139.4 126.5h.55v.55h-.55zM142.2 123.8h.55v.55h-.55zM138.5 129.5h.55v.55h-.55zM150.2 115.7h.55v.55h-.55zM153.7 124.9h.55v.55h-.55zM139.3 115.2h.55v.55h-.55zM144.9 124.1h.55v.55h-.55zM139.7 121.2h.55v.55h-.55zM151.3 111.5h.55v.55h-.55zM155.9 126.1h.55v.55h-.55zM137.9 123.9h.55v.55h-.55zM131.5 125.1h.55v.55h-.55zM158.9 129.9h.55v.55h-.55zM151.5 118.9h.55v.55h-.55zM157.4 120.3h.55v.55h-.55zM141.5 115.2h.55v.55h-.55zM143.0 114.3h.55v.55h-.55zM146.3 117.7h.55v.55h-.55zM140.1 124.2h.55v.55h-.55zM156.0 122.1h.55v.55h-.55zM140.9 119.2h.55v.55h-.55zM149.3 113.1h.55v.55h-.55zM145.8 114.1h.55v.55h-.55zM141.6 130.3h.55v.55h-.55zM144.6 129.4h.55v.55h-.55zM148.2 115.4h.55v.55h-.55zM153.5 113.5h.55v.55h-.55zM138.2 123.4h.55v.55h-.55zM143.7 128.6h.55v.55h-.55zM156.3 127.8h.55v.55h-.55zM145.1 124.4h.55v.55h-.55zM149.2 126.2h.55v.55h-.55zM140.2 129.3h.55v.55h-.55zM142.4 125.6h.55v.55h-.55zM136.8 123.1h.55v.55h-.55zM138.2 121.5h.55v.55h-.55zM125.8 117.1h.55v.55h-.55zM138.1 129.3h.55v.55h-.55zM135.0 126.0h.55v.55h-.55zM135.0 128.5h.55v.55h-.55zM156.0 121.5h.55v.55h-.55zM144.9 120.1h.55v.55h-.55zM140.8 113.5h.55v.55h-.55zM151.8 109.9h.55v.55h-.55zM141.2 124.0h.55v.55h-.55zM145.3 122.9h.55v.55h-.55zM125.5 121.7h.55v.55h-.55zM139.2 127.3h.55v.55h-.55zM153.1 129.5h.55v.55h-.55zM141.5 125.9h.55v.55h-.55zM149.2 113.5h.55v.55h-.55zM135.1 117.7h.55v.55h-.55zM152.3 129.1h.55v.55h-.55zM136.2 118.3h.55v.55h-.55zM141.5 127.9h.55v.55h-.55zM151.5 125.7h.55v.55h-.55zM136.1 123.2h.55v.55h-.55zM135.4 122.4h.55v.55h-.55zM122.7 116.0h.55v.55h-.55zM150.5 129.3h.55v.55h-.55zM144.6 111.5h.55v.55h-.55zM147.5 126.1h.55v.55h-.55zM142.3 113.9h.55v.55h-.55zM139.9 123.6h.55v.55h-.55zM140.2 122.8h.55v.55h-.55zM144.5 106.4h.55v.55h-.55zM143.4 114.3h.55v.55h-.55zM158.9 130.3h.55v.55h-.55zM154.1 113.9h.55v.55h-.55zM144.6 119.6h.55v.55h-.55zM141.7 128.3h.55v.55h-.55zM141.1 119.5h.55v.55h-.55zM151.1 117.3h.55v.55h-.55zM142.7 109.7h.55v.55h-.55zM144.8 125.9h.55v.55h-.55zM141.9 120.5h.55v.55h-.55zM146.8 122.3h.55v.55h-.55zM147.7 110.7h.55v.55h-.55zM139.1 126.5h.55v.55h-.55zM139.6 119.8h.55v.55h-.55zM141.4 127.1h.55v.55h-.55zM141.8 121.0h.55v.55h-.55zM154.4 127.7h.55v.55h-.55zM131.2 123.3h.55v.55h-.55zM143.2 114.2h.55v.55h-.55zM144.7 130.2h.55v.55h-.55zM133.6 124.0h.55v.55h-.55zM163.7 116.6h.55v.55h-.55zM141.6 124.6h.55v.55h-.55zM133.7 125.3h.55v.55h-.55zM144.3 121.2h.55v.55h-.55zM142.4 121.5h.55v.55h-.55zM134.1 117.5h.55v.55h-.55zM147.9 120.4h.55v.55h-.55zM144.2 119.2h.55v.55h-.55zM139.4 116.2h.55v.55h-.55zM149.3 122.5h.55v.55h-.55zM135.4 126.6h.55v.55h-.55zM150.6 121.6h.55v.55h-.55zM135.9 124.3h.55v.55h-.55zM151.9 113.9h.55v.55h-.55zM139.0 124.4h.55v.55h-.55zM141.6 114.4h.55v.55h-.55zM140.9 116.0h.55v.55h-.55zM144.4 117.6h.55v.55h-.55zM147.6 116.3h.55v.55h-.55zM143.0 122.9h.55v.55h-.55zM149.3 115.2h.55v.55h-.55zM140.9 118.0h.55v.55h-.55zM153.0 124.8h.55v.55h-.55zM140.4 121.7h.55v.55h-.55zM145.7 120.6h.55v.55h-.55zM154.6 111.6h.55v.55h-.55zM151.1 119.9h.55v.55h-.55zM133.2 126.4h.55v.55h-.55zM157.0 126.1h.55v.55h-.55zM154.8 122.6h.55v.55h-.55zM152.4 123.9h.55v.55h-.55zM142.8 114.8h.55v.55h-.55zM141.5 125.6h.55v.55h-.55zM149.8 124.7h.55v.55h-.55zM146.2 126.3h.55v.55h-.55zM148.4 124.6h.55v.55h-.55zM142.3 123.5h.55v.55h-.55zM144.1 117.1h.55v.55h-.55zM146.5 114.4h.55v.55h-.55zM142.8 112.4h.55v.55h-.55zM138.4 129.1h.55v.55h-.55zM158.2 124.8h.55v.55h-.55zM142.0 108.6h.55v.55h-.55zM142.6 124.9h.55v.55h-.55zM144.5 118.2h.55v.55h-.55zM149.5 118.2h.55v.55h-.55zM146.8 120.2h.55v.55h-.55zM155.0 126.4h.55v.55h-.55zM137.9 126.8h.55v.55h-.55zM147.3 126.0h.55v.55h-.55zM153.0 115.3h.55v.55h-.55zM147.2 123.6h.55v.55h-.55zM148.6 124.5h.55v.55h-.55zM143.3 129.2h.55v.55h-.55zM152.2 125.4h.55v.55h-.55zM136.4 114.4h.55v.55h-.55zM135.2 123.2h.55v.55h-.55zM148.3 126.0h.55v.55h-.55zM146.0 121.0h.55v.55h-.55zM129.9 118.5h.55v.55h-.55zM149.0 120.2h.55v.55h-.55zM152.9 121.8h.55v.55h-.55zM153.8 130.0h.55v.55h-.55zM125.2 118.5h.55v.55h-.55zM154.5 130.1h.55v.55h-.55zM144.2 123.6h.55v.55h-.55zM154.7 117.0h.55v.55h-.55zM141.0 116.7h.55v.55h-.55zM142.7 127.5h.55v.55h-.55zM148.5 123.5h.55v.55h-.55zM149.8 119.4h.55v.55h-.55zM148.7 121.0h.55v.55h-.55zM143.2 119.5h.55v.55h-.55zM127.0 114.1h.55v.55h-.55zM144.1 112.9h.55v.55h-.55zM137.9 112.4h.55v.55h-.55zM130.3 122.4h.55v.55h-.55zM143.2 112.6h.55v.55h-.55zM147.4 121.4h.55v.55h-.55zM134.9 125.1h.55v.55h-.55zM149.5 111.8h.55v.55h-.55zM141.8 128.2h.55v.55h-.55zM144.5 106.0h.55v.55h-.55zM145.9 122.7h.55v.55h-.55zM146.2 120.7h.55v.55h-.55zM150.8 124.9h.55v.55h-.55zM160.7 122.8h.55v.55h-.55zM147.7 122.4h.55v.55h-.55zM138.0 122.0h.55v.55h-.55zM145.0 110.0h.55v.55h-.55zM161.5 123.8h.55v.55h-.55zM151.1 124.4h.55v.55h-.55zM145.2 125.7h.55v.55h-.55zM161.3 112.0h.55v.55h-.55zM153.4 111.7h.55v.55h-.55zM158.1 101.6h.55v.55h-.55zM156.3 109.1h.55v.55h-.55zM154.1 107.9h.55v.55h-.55zM153.0 100.3h.55v.55h-.55zM153.2 99.2h.55v.55h-.55zM166.6 113.9h.55v.55h-.55zM155.0 96.7h.55v.55h-.55zM158.7 113.7h.55v.55h-.55zM148.8 103.8h.55v.55h-.55zM160.5 109.8h.55v.55h-.55zM161.9 102.1h.55v.55h-.55zM153.6 102.1h.55v.55h-.55zM150.8 98.3h.55v.55h-.55zM155.2 121.2h.55v.55h-.55zM154.7 108.5h.55v.55h-.55zM146.4 108.6h.55v.55h-.55zM154.1 100.8h.55v.55h-.55zM148.2 114.7h.55v.55h-.55zM159.0 103.1h.55v.55h-.55zM151.8 106.5h.55v.55h-.55zM151.1 92.9h.55v.55h-.55zM151.1 117.1h.55v.55h-.55zM148.9 106.1h.55v.55h-.55zM154.3 96.2h.55v.55h-.55zM159.8 122.2h.55v.55h-.55zM157.6 107.4h.55v.55h-.55zM159.6 112.7h.55v.55h-.55zM144.4 111.0h.55v.55h-.55zM155.8 108.6h.55v.55h-.55zM158.4 106.4h.55v.55h-.55zM156.4 99.9h.55v.55h-.55zM151.7 105.3h.55v.55h-.55zM153.7 117.1h.55v.55h-.55zM160.1 106.1h.55v.55h-.55zM158.2 103.8h.55v.55h-.55zM149.3 106.7h.55v.55h-.55zM154.3 110.4h.55v.55h-.55zM155.2 105.6h.55v.55h-.55zM155.5 113.9h.55v.55h-.55zM156.1 106.8h.55v.55h-.55zM160.0 96.8h.55v.55h-.55zM145.2 103.1h.55v.55h-.55zM157.9 95.8h.55v.55h-.55zM150.7 114.4h.55v.55h-.55zM152.9 111.4h.55v.55h-.55zM155.1 106.3h.55v.55h-.55zM157.0 94.4h.55v.55h-.55zM157.3 99.9h.55v.55h-.55zM153.4 97.0h.55v.55h-.55zM154.4 113.6h.55v.55h-.55zM160.7 114.3h.55v.55h-.55zM154.7 104.0h.55v.55h-.55zM153.2 95.5h.55v.55h-.55zM165.8 113.1h.55v.55h-.55zM159.6 105.5h.55v.55h-.55zM154.8 106.4h.55v.55h-.55zM155.6 94.8h.55v.55h-.55zM155.3 108.6h.55v.55h-.55zM149.1 113.1h.55v.55h-.55zM152.7 114.5h.55v.55h-.55zM154.0 101.9h.55v.55h-.55zM153.0 104.1h.55v.55h-.55zM156.5 98.4h.55v.55h-.55zM158.4 101.5h.55v.55h-.55zM151.5 110.4h.55v.55h-.55zM148.5 110.4h.55v.55h-.55zM154.8 107.2h.55v.55h-.55zM153.6 102.8h.55v.55h-.55zM157.1 111.2h.55v.55h-.55zM152.1 106.9h.55v.55h-.55zM157.9 102.9h.55v.55h-.55zM157.8 103.1h.55v.55h-.55zM162.6 107.2h.55v.55h-.55zM154.2 107.1h.55v.55h-.55zM149.9 97.7h.55v.55h-.55zM150.0 112.2h.55v.55h-.55zM158.2 105.8h.55v.55h-.55zM146.4 91.7h.55v.55h-.55zM153.0 118.8h.55v.55h-.55zM160.0 111.8h.55v.55h-.55zM148.5 103.6h.55v.55h-.55zM148.8 104.6h.55v.55h-.55zM161.3 114.6h.55v.55h-.55zM149.0 104.0h.55v.55h-.55zM155.3 97.7h.55v.55h-.55zM159.2 97.6h.55v.55h-.55zM154.9 109.0h.55v.55h-.55zM153.7 91.1h.55v.55h-.55zM153.2 111.3h.55v.55h-.55zM150.6 90.6h.55v.55h-.55zM153.8 104.1h.55v.55h-.55zM150.4 106.0h.55v.55h-.55zM156.7 115.6h.55v.55h-.55zM151.2 103.0h.55v.55h-.55zM153.5 103.8h.55v.55h-.55zM158.1 102.5h.55v.55h-.55zM150.7 118.4h.55v.55h-.55zM144.5 95.8h.55v.55h-.55zM156.5 94.7h.55v.55h-.55zM161.0 103.6h.55v.55h-.55zM159.7 109.4h.55v.55h-.55zM150.1 107.0h.55v.55h-.55zM166.2 103.4h.55v.55h-.55zM153.6 93.2h.55v.55h-.55zM159.4 106.2h.55v.55h-.55zM152.1 107.1h.55v.55h-.55zM155.8 105.2h.55v.55h-.55zM161.5 88.0h.55v.55h-.55zM154.5 107.4h.55v.55h-.55zM153.3 107.3h.55v.55h-.55zM159.6 103.5h.55v.55h-.55zM157.4 116.3h.55v.55h-.55zM149.9 105.1h.55v.55h-.55zM157.4 123.7h.55v.55h-.55zM161.0 95.8h.55v.55h-.55zM159.3 91.3h.55v.55h-.55zM155.7 118.0h.55v.55h-.55zM152.8 108.8h.55v.55h-.55zM153.9 97.9h.55v.55h-.55zM154.9 114.5h.55v.55h-.55zM150.7 111.3h.55v.55h-.55zM155.6 94.1h.55v.55h-.55zM154.2 112.5h.55v.55h-.55zM156.4 123.1h.55v.55h-.55zM157.9 105.4h.55v.55h-.55zM151.8 112.3h.55v.55h-.55zM159.3 112.5h.55v.55h-.55zM153.4 102.0h.55v.55h-.55zM153.4 116.1h.55v.55h-.55zM156.9 104.7h.55v.55h-.55zM153.6 92.1h.55v.55h-.55zM154.3 84.4h.55v.55h-.55zM154.9 110.5h.55v.55h-.55zM159.3 104.4h.55v.55h-.55zM153.1 98.1h.55v.55h-.55zM154.2 105.3h.55v.55h-.55zM156.6 107.2h.55v.55h-.55zM156.0 103.9h.55v.55h-.55zM153.5 108.7h.55v.55h-.55zM151.1 98.2h.55v.55h-.55zM157.1 95.1h.55v.55h-.55zM155.3 101.5h.55v.55h-.55zM145.0 111.9h.55v.55h-.55zM148.2 111.3h.55v.55h-.55zM151.7 104.2h.55v.55h-.55zM156.2 104.9h.55v.55h-.55zM150.8 96.7h.55v.55h-.55zM155.7 103.8h.55v.55h-.55zM152.4 102.0h.55v.55h-.55zM154.3 104.1h.55v.55h-.55zM150.4 107.5h.55v.55h-.55zM154.6 111.6h.55v.55h-.55zM154.6 96.9h.55v.55h-.55zM151.7 111.0h.55v.55h-.55zM151.1 99.4h.55v.55h-.55zM151.1 91.2h.55v.55h-.55zM157.1 105.4h.55v.55h-.55zM149.8 107.1h.55v.55h-.55zM157.2 109.9h.55v.55h-.55zM156.8 112.3h.55v.55h-.55zM154.2 108.5h.55v.55h-.55zM153.0 94.8h.55v.55h-.55zM155.3 110.1h.55v.55h-.55zM152.2 116.2h.55v.55h-.55zM159.6 113.3h.55v.55h-.55zM157.9 104.2h.55v.55h-.55zM155.7 115.3h.55v.55h-.55zM156.5 102.1h.55v.55h-.55zM158.9 108.7h.55v.55h-.55zM153.3 108.1h.55v.55h-.55zM155.5 103.6h.55v.55h-.55zM153.3 101.4h.55v.55h-.55zM158.0 110.4h.55v.55h-.55zM152.0 110.0h.55v.55h-.55zM152.0 100.2h.55v.55h-.55zM154.0 110.3h.55v.55h-.55zM148.7 98.1h.55v.55h-.55zM156.7 101.6h.55v.55h-.55zM153.4 100.2h.55v.55h-.55zM154.1 104.0h.55v.55h-.55zM155.4 98.7h.55v.55h-.55zM154.9 91.5h.55v.55h-.55zM160.3 115.7h.55v.55h-.55zM157.8 104.6h.55v.55h-.55zM150.5 94.3h.55v.55h-.55zM160.7 108.7h.55v.55h-.55zM153.4 113.5h.55v.55h-.55zM156.8 112.3h.55v.55h-.55zM157.5 102.5h.55v.55h-.55zM153.2 108.0h.55v.55h-.55zM153.2 109.4h.55v.55h-.55zM152.4 111.7h.55v.55h-.55zM149.5 104.3h.55v.55h-.55zM154.5 105.1h.55v.55h-.55zM142.4 107.6h.55v.55h-.55zM158.8 98.4h.55v.55h-.55zM153.7 100.2h.55v.55h-.55zM157.9 107.0h.55v.55h-.55zM158.7 103.2h.55v.55h-.55zM151.7 106.7h.55v.55h-.55zM160.0 107.2h.55v.55h-.55zM161.4 112.1h.55v.55h-.55zM153.2 104.5h.55v.55h-.55zM155.3 108.2h.55v.55h-.55zM156.7 110.9h.55v.55h-.55zM152.0 110.7h.55v.55h-.55zM164.0 111.5h.55v.55h-.55zM144.5 118.6h.55v.55h-.55zM157.4 115.6h.55v.55h-.55zM157.6 100.6h.55v.55h-.55zM154.9 100.5h.55v.55h-.55zM154.3 101.9h.55v.55h-.55zM160.2 93.0h.55v.55h-.55zM154.3 111.3h.55v.55h-.55zM154.2 99.9h.55v.55h-.55zM151.7 101.9h.55v.55h-.55zM160.0 101.8h.55v.55h-.55zM158.4 99.8h.55v.55h-.55zM148.5 100.3h.55v.55h-.55zM159.0 96.7h.55v.55h-.55zM149.8 110.0h.55v.55h-.55zM154.7 101.3h.55v.55h-.55zM159.0 112.6h.55v.55h-.55zM154.7 117.3h.55v.55h-.55zM161.1 107.0h.55v.55h-.55zM155.7 106.4h.55v.55h-.55zM156.8 111.6h.55v.55h-.55zM158.8 112.7h.55v.55h-.55zM158.6 98.7h.55v.55h-.55zM157.6 120.1h.55v.55h-.55zM159.0 104.9h.55v.55h-.55zM160.3 103.9h.55v.55h-.55zM156.0 106.0h.55v.55h-.55zM160.8 122.2h.55v.55h-.55zM158.0 119.8h.55v.55h-.55zM154.0 89.9h.55v.55h-.55zM153.2 101.9h.55v.55h-.55zM155.2 104.3h.55v.55h-.55zM153.0 111.4h.55v.55h-.55zM155.8 98.8h.55v.55h-.55zM156.3 108.8h.55v.55h-.55zM156.5 112.5h.55v.55h-.55zM154.8 105.9h.55v.55h-.55zM160.3 104.3h.55v.55h-.55zM154.6 115.6h.55v.55h-.55zM157.2 105.9h.55v.55h-.55zM157.8 108.4h.55v.55h-.55zM147.2 98.6h.55v.55h-.55zM153.2 105.2h.55v.55h-.55zM151.7 90.2h.55v.55h-.55zM153.7 102.0h.55v.55h-.55zM150.3 101.0h.55v.55h-.55zM152.8 101.1h.55v.55h-.55zM150.9 103.6h.55v.55h-.55zM154.8 102.1h.55v.55h-.55zM152.7 90.5h.55v.55h-.55zM152.3 108.5h.55v.55h-.55zM154.9 112.2h.55v.55h-.55zM151.5 100.2h.55v.55h-.55zM157.0 113.0h.55v.55h-.55zM155.3 110.9h.55v.55h-.55zM151.0 114.2h.55v.55h-.55zM152.2 107.7h.55v.55h-.55zM157.6 106.8h.55v.55h-.55zM150.4 100.2h.55v.55h-.55zM155.5 112.0h.55v.55h-.55zM154.1 103.2h.55v.55h-.55zM151.3 100.6h.55v.55h-.55zM153.9 114.8h.55v.55h-.55zM158.0 111.9h.55v.55h-.55zM153.3 109.4h.55v.55h-.55zM147.4 113.5h.55v.55h-.55zM157.5 98.9h.55v.55h-.55zM157.2 95.6h.55v.55h-.55zM152.2 106.5h.55v.55h-.55zM154.0 112.9h.55v.55h-.55zM159.1 111.9h.55v.55h-.55zM149.0 106.2h.55v.55h-.55zM163.6 109.1h.55v.55h-.55zM152.3 98.6h.55v.55h-.55zM153.0 116.6h.55v.55h-.55zM157.5 121.9h.55v.55h-.55zM156.8 113.6h.55v.55h-.55zM152.1 124.0h.55v.55h-.55zM155.5 115.3h.55v.55h-.55zM162.7 113.4h.55v.55h-.55zM160.6 101.5h.55v.55h-.55zM157.7 109.1h.55v.55h-.55zM157.7 111.4h.55v.55h-.55zM156.0 104.0h.55v.55h-.55zM158.2 109.7h.55v.55h-.55zM152.2 106.1h.55v.55h-.55zM148.1 109.8h.55v.55h-.55zM151.1 107.5h.55v.55h-.55zM154.0 95.4h.55v.55h-.55zM147.6 110.7h.55v.55h-.55zM155.1 94.8h.55v.55h-.55zM152.7 104.3h.55v.55h-.55zM126.5 72.8h.55v.55h-.55zM122.9 79.0h.55v.55h-.55zM121.1 82.5h.55v.55h-.55zM126.8 95.0h.55v.55h-.55zM134.6 76.9h.55v.55h-.55zM126.8 85.0h.55v.55h-.55zM125.7 86.9h.55v.55h-.55zM131.6 78.8h.55v.55h-.55zM126.8 75.2h.55v.55h-.55zM130.5 93.0h.55v.55h-.55zM128.0 81.0h.55v.55h-.55zM127.1 81.8h.55v.55h-.55zM126.4 94.7h.55v.55h-.55zM130.6 88.6h.55v.55h-.55zM122.1 84.8h.55v.55h-.55zM132.6 77.5h.55v.55h-.55zM127.0 103.2h.55v.55h-.55zM120.4 80.0h.55v.55h-.55zM130.4 90.8h.55v.55h-.55zM124.4 93.9h.55v.55h-.55zM128.2 84.2h.55v.55h-.55zM126.4 89.8h.55v.55h-.55zM127.1 76.6h.55v.55h-.55zM121.8 84.7h.55v.55h-.55zM128.7 95.9h.55v.55h-.55zM121.3 76.6h.55v.55h-.55zM127.8 95.1h.55v.55h-.55zM125.4 86.3h.55v.55h-.55zM127.7 80.8h.55v.55h-.55zM126.6 79.9h.55v.55h-.55zM129.7 88.8h.55v.55h-.55zM126.8 79.9h.55v.55h-.55zM127.1 94.0h.55v.55h-.55zM124.5 71.3h.55v.55h-.55zM125.4 82.1h.55v.55h-.55zM125.7 86.3h.55v.55h-.55zM123.2 75.4h.55v.55h-.55zM127.3 87.9h.55v.55h-.55zM123.5 73.7h.55v.55h-.55zM127.7 85.3h.55v.55h-.55zM132.1 77.5h.55v.55h-.55zM127.4 88.4h.55v.55h-.55zM127.7 84.0h.55v.55h-.55zM123.6 88.9h.55v.55h-.55zM156.5 90.8h.55v.55h-.55zM153.3 89.6h.55v.55h-.55zM157.1 93.2h.55v.55h-.55zM155.9 89.3h.55v.55h-.55zM160.3 90.2h.55v.55h-.55zM159.6 97.3h.55v.55h-.55zM157.1 93.3h.55v.55h-.55zM156.0 89.5h.55v.55h-.55zM159.5 90.8h.55v.55h-.55zM160.7 95.9h.55v.55h-.55zM157.9 80.2h.55v.55h-.55zM155.9 81.5h.55v.55h-.55zM152.9 92.3h.55v.55h-.55zM155.0 95.1h.55v.55h-.55zM158.1 90.6h.55v.55h-.55zM157.1 86.4h.55v.55h-.55zM158.1 86.3h.55v.55h-.55zM162.5 93.4h.55v.55h-.55zM162.1 92.8h.55v.55h-.55zM160.8 87.9h.55v.55h-.55zM154.2 97.1h.55v.55h-.55zM159.7 102.4h.55v.55h-.55zM164.4 93.8h.55v.55h-.55zM164.1 94.5h.55v.55h-.55zM154.7 94.8h.55v.55h-.55zM156.4 99.7h.55v.55h-.55zM159.7 91.4h.55v.55h-.55zM156.4 91.3h.55v.55h-.55zM158.2 90.3h.55v.55h-.55zM157.0 95.1h.55v.55h-.55zM157.8 88.6h.55v.55h-.55zM162.1 86.1h.55v.55h-.55zM163.9 100.7h.55v.55h-.55zM161.5 86.2h.55v.55h-.55zM157.6 87.8h.55v.55h-.55zM158.2 96.3h.55v.55h-.55zM163.4 91.5h.55v.55h-.55zM159.0 95.2h.55v.55h-.55zM156.1 87.1h.55v.55h-.55zM157.9 94.7h.55v.55h-.55zM157.9 96.4h.55v.55h-.55zM157.8 96.3h.55v.55h-.55zM154.1 86.3h.55v.55h-.55zM155.6 89.9h.55v.55h-.55zM158.6 93.7h.55v.55h-.55zM160.0 91.9h.55v.55h-.55zM156.1 88.6h.55v.55h-.55zM161.7 96.2h.55v.55h-.55zM157.3 91.3h.55v.55h-.55zM154.2 82.8h.55v.55h-.55zM155.8 96.0h.55v.55h-.55zM162.6 89.9h.55v.55h-.55zM160.2 87.7h.55v.55h-.55zM158.7 87.7h.55v.55h-.55zM159.2 95.6h.55v.55h-.55zM158.0 95.9h.55v.55h-.55zM159.1 91.3h.55v.55h-.55zM158.1 87.9h.55v.55h-.55zM149.9 101.9h.55v.55h-.55zM154.3 88.3h.55v.55h-.55zM158.5 90.4h.55v.55h-.55zM157.2 94.0h.55v.55h-.55zM160.9 86.2h.55v.55h-.55zM160.2 86.8h.55v.55h-.55zM161.1 94.4h.55v.55h-.55zM162.1 82.2h.55v.55h-.55zM158.6 90.8h.55v.55h-.55zM160.9 88.9h.55v.55h-.55zM157.2 90.3h.55v.55h-.55zM162.8 91.1h.55v.55h-.55zM152.8 88.5h.55v.55h-.55zM156.0 95.2h.55v.55h-.55zM157.6 94.6h.55v.55h-.55zM158.0 85.5h.55v.55h-.55zM155.0 84.7h.55v.55h-.55zM154.9 94.2h.55v.55h-.55zM155.7 91.7h.55v.55h-.55zM162.0 87.0h.55v.55h-.55zM157.6 95.6h.55v.55h-.55zM159.4 89.0h.55v.55h-.55zM156.0 93.4h.55v.55h-.55zM156.4 92.2h.55v.55h-.55zM157.5 94.1h.55v.55h-.55zM155.1 86.9h.55v.55h-.55zM157.1 102.3h.55v.55h-.55zM165.1 89.3h.55v.55h-.55zM157.4 100.4h.55v.55h-.55zM157.8 89.5h.55v.55h-.55zM152.8 98.1h.55v.55h-.55zM157.3 90.9h.55v.55h-.55zM161.0 95.0h.55v.55h-.55zM162.6 87.3h.55v.55h-.55zM160.4 91.1h.55v.55h-.55zM159.0 100.6h.55v.55h-.55zM151.6 95.7h.55v.55h-.55zM156.9 88.1h.55v.55h-.55zM158.8 91.6h.55v.55h-.55zM164.6 88.9h.55v.55h-.55zM156.7 90.3h.55v.55h-.55zM158.3 93.6h.55v.55h-.55zM156.9 91.9h.55v.55h-.55zM159.6 86.7h.55v.55h-.55zM160.0 89.0h.55v.55h-.55zM154.4 93.1h.55v.55h-.55zM159.4 92.3h.55v.55h-.55zM156.6 89.7h.55v.55h-.55zM161.2 85.1h.55v.55h-.55zM158.1 98.2h.55v.55h-.55zM157.5 89.2h.55v.55h-.55zM157.7 90.7h.55v.55h-.55zM162.1 92.2h.55v.55h-.55zM154.3 95.5h.55v.55h-.55zM162.0 100.0h.55v.55h-.55zM153.8 97.5h.55v.55h-.55zM159.7 89.2h.55v.55h-.55zM159.0 96.8h.55v.55h-.55zM149.8 89.5h.55v.55h-.55zM156.3 93.1h.55v.55h-.55zM160.0 82.3h.55v.55h-.55zM163.5 87.3h.55v.55h-.55zM157.0 96.6h.55v.55h-.55zM158.0 100.9h.55v.55h-.55zM160.0 88.6h.55v.55h-.55zM157.4 91.2h.55v.55h-.55zM161.9 93.8h.55v.55h-.55zM157.5 96.7h.55v.55h-.55zM163.6 101.9h.55v.55h-.55zM160.0 82.7h.55v.55h-.55zM157.2 94.2h.55v.55h-.55zM162.3 100.5h.55v.55h-.55z" fill="#222" opacity="0.5"/>
<path d="M133.90 103.00 C134.18 100.92 134.32 99.42 136.00 98.50 C137.68 97.58 141.50 97.50 144.00 97.50 C146.50 97.50 149.47 97.58 151.00 98.50 C152.53 99.42 153.12 101.25 153.20 103.00 C153.28 104.75 152.70 107.45 151.50 109.00 C150.30 110.55 148.25 111.42 146.00 112.30 C143.75 113.18 139.95 114.52 138.00 114.30 C136.05 114.08 134.98 112.88 134.30 111.00 C133.62 109.12 133.62 105.08 133.90 103.00 Z" fill="#fff" stroke="#666" stroke-width="0.6"/>
<path d="M136.40 99.00 C135.70 96.92 136.43 91.25 136.80 88.00 C137.17 84.75 137.63 81.78 138.60 79.50 C139.57 77.22 140.70 75.52 142.60 74.30 C144.50 73.08 147.43 72.62 150.00 72.20 C152.57 71.78 155.25 71.80 158.00 71.80 C160.75 71.80 166.00 71.50 166.50 72.20 C167.00 72.90 162.33 74.37 161.00 76.00 C159.67 77.63 159.42 79.67 158.50 82.00 C157.58 84.33 156.50 87.67 155.50 90.00 C154.50 92.33 153.58 94.42 152.50 96.00 C151.42 97.58 150.92 98.75 149.00 99.50 C147.08 100.25 143.10 100.58 141.00 100.50 C138.90 100.42 137.10 101.08 136.40 99.00 Z" fill="#fff" stroke="#3a3a3a" stroke-width="0.9"/>
<path d="M138.76 95.52 C138.20 93.85 138.79 89.32 139.08 86.72 C139.37 84.12 139.75 81.75 140.52 79.92 C141.29 78.09 142.20 76.73 143.72 75.76 C145.24 74.79 147.59 74.41 149.64 74.08 C151.69 73.75 153.84 73.76 156.04 73.76 C158.24 73.76 162.44 73.52 162.84 74.08 C163.24 74.64 159.51 75.81 158.44 77.12 C157.37 78.43 157.17 80.05 156.44 81.92 C155.71 83.79 154.84 86.45 154.04 88.32 C153.24 90.19 152.51 91.85 151.64 93.12 C150.77 94.39 150.37 95.32 148.84 95.92 C147.31 96.52 144.12 96.79 142.44 96.72 C140.76 96.65 139.32 97.19 138.76 95.52 Z" fill="#fff" stroke="#888" stroke-width="0.55"/>
<path d="M140.88 92.39 C140.45 91.10 140.90 87.58 141.13 85.57 C141.36 83.55 141.65 81.71 142.25 80.30 C142.85 78.88 143.55 77.83 144.73 77.07 C145.91 76.32 147.72 76.03 149.32 75.77 C150.91 75.51 152.57 75.52 154.28 75.52 C155.98 75.52 159.24 75.34 159.55 75.77 C159.86 76.21 156.96 77.12 156.14 78.13 C155.31 79.14 155.15 80.40 154.59 81.85 C154.02 83.29 153.35 85.36 152.73 86.81 C152.11 88.25 151.54 89.55 150.87 90.53 C150.19 91.51 149.88 92.23 148.70 92.70 C147.51 93.16 145.04 93.37 143.74 93.32 C142.43 93.27 141.32 93.68 140.88 92.39 Z" fill="#fdfdfd" stroke="#999" stroke-width="0.55"/>
<path d="M142.77 89.60 C142.45 88.65 142.79 86.04 142.96 84.54 C143.12 83.05 143.34 81.68 143.78 80.63 C144.23 79.58 144.75 78.80 145.62 78.24 C146.50 77.68 147.85 77.47 149.03 77.28 C150.21 77.08 151.44 77.09 152.71 77.09 C153.97 77.09 156.39 76.95 156.62 77.28 C156.85 77.60 154.70 78.27 154.09 79.02 C153.47 79.78 153.36 80.71 152.94 81.78 C152.52 82.86 152.02 84.39 151.56 85.46 C151.10 86.54 150.68 87.50 150.18 88.22 C149.68 88.95 149.45 89.49 148.57 89.83 C147.69 90.18 145.85 90.33 144.89 90.29 C143.92 90.26 143.09 90.56 142.77 89.60 Z" fill="#eeeeee" stroke="#888" stroke-width="0.55"/>
<path d="M144.19 87.52 C143.95 86.81 144.20 84.88 144.32 83.78 C144.45 82.67 144.61 81.66 144.94 80.89 C145.26 80.11 145.65 79.53 146.30 79.12 C146.94 78.70 147.94 78.55 148.81 78.40 C149.68 78.26 150.60 78.27 151.53 78.27 C152.47 78.27 154.25 78.17 154.42 78.40 C154.59 78.64 153.01 79.14 152.55 79.70 C152.10 80.25 152.01 80.94 151.70 81.74 C151.39 82.53 151.02 83.66 150.68 84.46 C150.34 85.25 150.03 85.96 149.66 86.50 C149.29 87.03 149.12 87.43 148.47 87.69 C147.82 87.94 146.47 88.05 145.75 88.03 C145.04 88.00 144.43 88.22 144.19 87.52 Z" fill="#bdbdbd" stroke="#666" stroke-width="0.55"/>
<path d="M145.37 85.78 C145.20 85.28 145.38 83.92 145.46 83.14 C145.55 82.36 145.66 81.64 145.90 81.10 C146.13 80.55 146.40 80.14 146.86 79.85 C147.31 79.56 148.02 79.44 148.63 79.34 C149.25 79.24 149.89 79.25 150.55 79.25 C151.21 79.25 152.47 79.18 152.59 79.34 C152.71 79.51 151.59 79.86 151.27 80.26 C150.95 80.65 150.89 81.14 150.67 81.70 C150.45 82.26 150.19 83.06 149.95 83.62 C149.71 84.18 149.49 84.68 149.23 85.06 C148.97 85.44 148.85 85.72 148.39 85.90 C147.93 86.08 146.98 86.16 146.47 86.14 C145.97 86.12 145.54 86.28 145.37 85.78 Z" fill="#5a5a5a" stroke="#444" stroke-width="0.55"/>
<path d="M146.43 84.21 C146.32 83.90 146.43 83.05 146.49 82.56 C146.54 82.07 146.61 81.63 146.76 81.28 C146.91 80.94 147.07 80.69 147.36 80.50 C147.64 80.32 148.09 80.25 148.47 80.19 C148.85 80.13 149.26 80.13 149.67 80.13 C150.08 80.13 150.87 80.08 150.94 80.19 C151.02 80.30 150.32 80.51 150.12 80.76 C149.92 81.00 149.88 81.31 149.75 81.66 C149.61 82.01 149.44 82.51 149.29 82.86 C149.14 83.21 149.01 83.52 148.84 83.76 C148.68 84.00 148.61 84.17 148.32 84.28 C148.03 84.40 147.44 84.45 147.12 84.44 C146.81 84.42 146.53 84.52 146.43 84.21 Z" fill="#1a1a1a" stroke="#111" stroke-width="0.55"/>
<ellipse cx="141.8" cy="105.8" rx="3.4" ry="2.8" transform="rotate(-30 141.8 105.8)" fill="none" stroke="#777" stroke-width="0.5"/>
<path d="M121 128 C126 120 130 114 133.5 112 M124 131 C130 124 136 118 142 116 M136 131 C140 126 147 121 155 118" fill="none" stroke="#999" stroke-width="0.5"/>
<circle cx="148.4" cy="81.3" r="0.9" fill="#fff"/>
<rect x="118.80" y="67.40" width="63.50" height="63.90" fill="none" stroke="#777" stroke-width="0.8" />
<line x1="133.20" y1="67.40" x2="133.20" y2="131.30" stroke="#555" stroke-width="0.9" />
<line x1="118.80" y1="100.10" x2="182.30" y2="100.10" stroke="#555" stroke-width="0.9" />
<text x="116.6" y="132.8" font-size="4" text-anchor="end" fill="#222" class="g" font-weight="bold">10<tspan font-size="2.6" dy="-1.6">0</tspan></text>
<text x="118.8" y="138.0" font-size="4" text-anchor="middle" fill="#222" class="g">10<tspan font-size="2.6" dy="-1.6">0</tspan></text>
<text x="116.6" y="116.8" font-size="4" text-anchor="end" fill="#222" class="g" font-weight="bold">10<tspan font-size="2.6" dy="-1.6">1</tspan></text>
<text x="134.7" y="138.0" font-size="4" text-anchor="middle" fill="#222" class="g">10<tspan font-size="2.6" dy="-1.6">1</tspan></text>
<text x="116.6" y="100.9" font-size="4" text-anchor="end" fill="#222" class="g" font-weight="bold">10<tspan font-size="2.6" dy="-1.6">2</tspan></text>
<text x="150.6" y="138.0" font-size="4" text-anchor="middle" fill="#222" class="g">10<tspan font-size="2.6" dy="-1.6">2</tspan></text>
<text x="116.6" y="84.9" font-size="4" text-anchor="end" fill="#222" class="g" font-weight="bold">10<tspan font-size="2.6" dy="-1.6">3</tspan></text>
<text x="166.4" y="138.0" font-size="4" text-anchor="middle" fill="#222" class="g">10<tspan font-size="2.6" dy="-1.6">3</tspan></text>
<text x="116.6" y="68.9" font-size="4" text-anchor="end" fill="#222" class="g" font-weight="bold">10<tspan font-size="2.6" dy="-1.6">4</tspan></text>
<text x="182.3" y="138.0" font-size="4" text-anchor="middle" fill="#222" class="g">10<tspan font-size="2.6" dy="-1.6">4</tspan></text>
<text x="180.80" y="77.80" font-size="11.6" text-anchor="end" >92</text>
<text x="179.60" y="130.60" font-size="11.6" text-anchor="end" >6</text>
<text x="0.00" y="0.00" font-size="12.8" text-anchor="start" transform="translate(29.8 139) rotate(-90)">c-kit</text>
<path d="M26.2 107.4 V76" stroke="#000" stroke-width="1.7" fill="none" />
<path d="M26.2 71.6 L23.3 77.4 L26.2 76.4 L29.1 77.4 Z" fill="#000" stroke="#000" stroke-width="0.4"/>
<text x="40.00" y="152.20" font-size="13" text-anchor="start" >FcεRIα</text>
<path d="M87.6 149 H132" stroke="#000" stroke-width="1.7" fill="none" />
<path d="M136.2 149 L130.4 146.1 L131.4 149 L130.4 151.9 Z" fill="#000" stroke="#000" stroke-width="0.4"/>
<text x="206.20" y="12.60" font-size="17.5" text-anchor="start" >B</text>
<text x="205.60" y="54.10" font-size="14.5" text-anchor="start">Ik<tspan font-size="9.43" dy="-3.62">+/+</tspan></text>
<text x="205.60" y="122.30" font-size="14.5" text-anchor="start">Ik<tspan font-size="9.43" dy="-4.64">-/-</tspan></text>
<defs>
<radialGradient id="gp1" cx="50%" cy="50%" r="50%"><stop offset="0" stop-color="#9d5fb4"/><stop offset="0.65" stop-color="#a673be"/><stop offset="0.9" stop-color="#b394d0"/><stop offset="1" stop-color="#c3b2de" stop-opacity="0.5"/></radialGradient>
<radialGradient id="gp1b" cx="45%" cy="45%" r="55%"><stop offset="0" stop-color="#9450aa"/><stop offset="0.55" stop-color="#a064b8"/><stop offset="0.85" stop-color="#9a92d0"/><stop offset="1" stop-color="#a8b0e0" stop-opacity="0.4"/></radialGradient>
<radialGradient id="gp2" cx="50%" cy="50%" r="50%"><stop offset="0" stop-color="#b94fa8"/><stop offset="0.6" stop-color="#c766b5"/><stop offset="0.92" stop-color="#cf78bc"/><stop offset="1" stop-color="#d994c8" stop-opacity="0.6"/></radialGradient>
<radialGradient id="gb1" cx="50%" cy="50%" r="50%"><stop offset="0" stop-color="#8a8fd0" stop-opacity="0.85"/><stop offset="0.7" stop-color="#a3a6dc" stop-opacity="0.5"/><stop offset="1" stop-color="#c0c4ea" stop-opacity="0"/></radialGradient>
<filter id="speck" x="0" y="0" width="100%" height="100%" color-interpolation-filters="sRGB">
<feGaussianBlur in="SourceGraphic" stdDeviation="0.55" result="b"/>
<feTurbulence type="fractalNoise" baseFrequency="0.28" numOctaves="2" seed="5" result="n"/>
<feColorMatrix in="n" type="matrix" values="0 0 0 0 1  0 0 0 0 0.92  0 0 0 0 1  0 0 0 -2.2 1.15" result="w0"/>
<feGaussianBlur in="w0" stdDeviation="0.7" result="w"/>
<feComposite in="w" in2="b" operator="in" result="wm"/>
<feMerge><feMergeNode in="b"/><feMergeNode in="wm"/></feMerge>
</filter>
<filter id="speck2" x="0" y="0" width="100%" height="100%" color-interpolation-filters="sRGB">
<feGaussianBlur in="SourceGraphic" stdDeviation="0.55" result="b"/>
<feTurbulence type="fractalNoise" baseFrequency="0.26" numOctaves="2" seed="11" result="n"/>
<feColorMatrix in="n" type="matrix" values="0 0 0 0 1  0 0 0 0 0.8  0 0 0 0 0.92  0 0 0 -2.1 1.08" result="w0"/>
<feGaussianBlur in="w0" stdDeviation="0.7" result="w"/>
<feComposite in="w" in2="b" operator="in" result="wm"/>
<feMerge><feMergeNode in="b"/><feMergeNode in="wm"/></feMerge>
</filter>
</defs>
<rect x="233.80" y="16.20" width="55.00" height="64.50" fill="#fefdff" stroke="#222" stroke-width="1.4" />
<g filter="url(#speck)">
<ellipse cx="256.5" cy="66.5" rx="8.5" ry="7.5" fill="#8a90d0" opacity="0.55"/>
<ellipse cx="275" cy="47.5" rx="10.5" ry="10" fill="url(#gb1)"/>
<ellipse cx="262.3" cy="32.9" rx="13.3" ry="12.6" fill="url(#gp1)"/>
<ellipse cx="274" cy="48.5" rx="10" ry="8.8" fill="#ac98d2" opacity="0.75"/>
<ellipse cx="267.3" cy="54.3" rx="8.3" ry="8.8" fill="#9452a8"/>
<ellipse cx="250" cy="60.3" rx="11.2" ry="13.8" fill="url(#gp1b)"/>
<ellipse cx="249" cy="58" rx="7" ry="8.5" fill="#914ea6" opacity="0.6"/>
</g>
<rect x="234.50" y="84.50" width="55.00" height="65.00" fill="#fcf8f6" stroke="#222" stroke-width="1.4" />
<g filter="url(#speck2)">
<ellipse cx="269" cy="104.6" rx="14.4" ry="11.8" transform="rotate(-14 269 104.6)" fill="url(#gp2)"/>
<ellipse cx="259" cy="125.2" rx="16.6" ry="14.6" fill="url(#gp2)"/>
<ellipse cx="260.7" cy="119.3" rx="7.2" ry="6.2" fill="#951c7c"/>
<ellipse cx="272" cy="104.5" rx="7" ry="5.8" fill="#b0409c" opacity="0.7"/>
</g>
<path d="M251.5 111.3 Q263 113.2 275.5 117.8" stroke="#f6eaf0" stroke-width="1.3" fill="none"/>
<text x="306.90" y="13.50" font-size="17.5" text-anchor="start" >C</text>
<path d="M344.1 29.5 V124.5" stroke="#000" stroke-width="1.6" fill="none" />
<path d="M344.70000000000005 126.1 H453.8" stroke="#000" stroke-width="1.6" fill="none" />
<line x1="340.60" y1="29.50" x2="344.10" y2="29.50" stroke="#000" stroke-width="1.3" />
<text x="339.80" y="33.20" font-size="10.5" text-anchor="end" >35</text>
<line x1="340.60" y1="43.50" x2="344.10" y2="43.50" stroke="#000" stroke-width="1.3" />
<text x="339.80" y="47.20" font-size="10.5" text-anchor="end" >30</text>
<line x1="340.60" y1="57.40" x2="344.10" y2="57.40" stroke="#000" stroke-width="1.3" />
<text x="339.80" y="61.10" font-size="10.5" text-anchor="end" >25</text>
<line x1="340.60" y1="71.40" x2="344.10" y2="71.40" stroke="#000" stroke-width="1.3" />
<text x="339.80" y="75.10" font-size="10.5" text-anchor="end" >20</text>
<line x1="340.60" y1="85.30" x2="344.10" y2="85.30" stroke="#000" stroke-width="1.3" />
<text x="339.80" y="89.00" font-size="10.5" text-anchor="end" >15</text>
<line x1="340.60" y1="99.20" x2="344.10" y2="99.20" stroke="#000" stroke-width="1.3" />
<text x="339.80" y="102.90" font-size="10.5" text-anchor="end" >10</text>
<line x1="340.60" y1="113.20" x2="344.10" y2="113.20" stroke="#000" stroke-width="1.3" />
<text x="339.80" y="116.90" font-size="10.5" text-anchor="end" >5</text>
<line x1="340.60" y1="124.40" x2="344.10" y2="124.40" stroke="#000" stroke-width="1.3" />
<text x="339.80" y="128.10" font-size="10.5" text-anchor="end" >0</text>
<line x1="344.80" y1="126.10" x2="344.80" y2="128.90" stroke="#000" stroke-width="1.3" />
<text x="344.80" y="138.80" font-size="10.5" text-anchor="middle" >0</text>
<line x1="368.70" y1="126.10" x2="368.70" y2="128.90" stroke="#000" stroke-width="1.3" />
<text x="368.70" y="138.80" font-size="10.5" text-anchor="middle" >1</text>
<line x1="393.70" y1="126.10" x2="393.70" y2="128.90" stroke="#000" stroke-width="1.3" />
<text x="393.70" y="138.80" font-size="10.5" text-anchor="middle" >10</text>
<line x1="417.10" y1="126.10" x2="417.10" y2="128.90" stroke="#000" stroke-width="1.3" />
<text x="417.10" y="138.80" font-size="10.5" text-anchor="middle" >100</text>
<line x1="441.30" y1="126.10" x2="441.30" y2="128.90" stroke="#000" stroke-width="1.3" />
<text x="441.30" y="138.80" font-size="10.5" text-anchor="middle" >1000</text>
<text x="399.30" y="153.00" font-size="11.2" text-anchor="middle" >DNP (ng/mL)</text>
<text x="0.00" y="0.00" font-size="10.25" text-anchor="start" transform="translate(320 129.3) rotate(-90)">% net specific release</text>
<path d="M344.80 126.10 L368.70 114.94 L393.70 44.91 L417.10 75.04 L441.30 103.50" stroke="#000" stroke-width="1.7" fill="none" />
<path d="M344.80 126.10 L368.70 126.10 L393.70 100.15 L417.10 112.15 L441.30 126.10" stroke="#000" stroke-width="1.7" fill="none" />
<line x1="368.70" y1="114.94" x2="368.70" y2="111.59" stroke="#000" stroke-width="1.2" />
<line x1="365.70" y1="111.59" x2="371.70" y2="111.59" stroke="#000" stroke-width="1.2" />
<line x1="393.70" y1="44.91" x2="393.70" y2="42.12" stroke="#000" stroke-width="1.2" />
<line x1="390.70" y1="42.12" x2="396.70" y2="42.12" stroke="#000" stroke-width="1.2" />
<line x1="417.10" y1="116.33" x2="417.10" y2="107.96" stroke="#000" stroke-width="1.2" />
<line x1="414.10" y1="107.96" x2="420.10" y2="107.96" stroke="#000" stroke-width="1.2" />
<line x1="414.10" y1="116.33" x2="420.10" y2="116.33" stroke="#000" stroke-width="1.2" />
<line x1="393.70" y1="101.55" x2="393.70" y2="98.76" stroke="#000" stroke-width="1.2" />
<line x1="390.70" y1="98.76" x2="396.70" y2="98.76" stroke="#000" stroke-width="1.2" />
<line x1="390.70" y1="101.55" x2="396.70" y2="101.55" stroke="#000" stroke-width="1.2" />
<path d="M368.70 111.34 L372.30 117.54 L365.10 117.54 Z" fill="#000"/>
<path d="M393.70 41.31 L397.30 47.51 L390.10 47.51 Z" fill="#000"/>
<path d="M417.10 71.44 L420.70 77.64 L413.50 77.64 Z" fill="#000"/>
<path d="M441.30 99.90 L444.90 106.10 L437.70 106.10 Z" fill="#000"/>
<rect x="366.10" y="123.50" width="5.20" height="5.20" fill="#000" stroke="none" stroke-width="0" />
<rect x="391.10" y="97.55" width="5.20" height="5.20" fill="#000" stroke="none" stroke-width="0" />
<rect x="414.50" y="109.55" width="5.20" height="5.20" fill="#000" stroke="none" stroke-width="0" />
<rect x="438.70" y="123.50" width="5.20" height="5.20" fill="#000" stroke="none" stroke-width="0" />
<text x="393.50" y="41.50" font-size="15.5" text-anchor="middle" >***</text>
<rect x="428.40" y="40.50" width="9.20" height="8.30" fill="#000" stroke="none" stroke-width="0" />
<text x="441.50" y="48.80" font-size="11.5" text-anchor="start">Ik<tspan font-size="7.48" dy="-2.88">+/+</tspan></text>
<path d="M433.1 53.4 L438.4 62.2 L427.8 62.2 Z" fill="#000"/>
<text x="441.50" y="61.60" font-size="11.5" text-anchor="start">Ik<tspan font-size="7.48" dy="-3.68">-/-</tspan></text>
<text x="9.20" y="187.60" font-size="17.5" text-anchor="start" >D</text>
<path d="M36.80 211.20 V309.20 H131.80" stroke="#000" stroke-width="1.6" fill="none" stroke-linecap="square"/>
<line x1="33.30" y1="309.20" x2="36.80" y2="309.20" stroke="#000" stroke-width="1.3" />
<text x="32.80" y="312.90" font-size="10.5" text-anchor="end" >0</text>
<line x1="33.30" y1="292.87" x2="36.80" y2="292.87" stroke="#000" stroke-width="1.3" />
<text x="32.80" y="296.57" font-size="10.5" text-anchor="end" >100</text>
<line x1="33.30" y1="276.53" x2="36.80" y2="276.53" stroke="#000" stroke-width="1.3" />
<text x="32.80" y="280.23" font-size="10.5" text-anchor="end" >200</text>
<line x1="33.30" y1="260.20" x2="36.80" y2="260.20" stroke="#000" stroke-width="1.3" />
<text x="32.80" y="263.90" font-size="10.5" text-anchor="end" >300</text>
<line x1="33.30" y1="243.87" x2="36.80" y2="243.87" stroke="#000" stroke-width="1.3" />
<text x="32.80" y="247.57" font-size="10.5" text-anchor="end" >400</text>
<line x1="33.30" y1="227.53" x2="36.80" y2="227.53" stroke="#000" stroke-width="1.3" />
<text x="32.80" y="231.23" font-size="10.5" text-anchor="end" >500</text>
<line x1="33.30" y1="211.20" x2="36.80" y2="211.20" stroke="#000" stroke-width="1.3" />
<text x="32.80" y="214.90" font-size="10.5" text-anchor="end" >600</text>
<rect x="43.10" y="308.40" width="11.30" height="0.80" fill="#000" stroke="#000" stroke-width="1.5" />
<rect x="61.60" y="308.40" width="11.30" height="0.80" fill="#fff" stroke="#000" stroke-width="1.5" />
<line x1="98.75" y1="291.89" x2="98.75" y2="293.04" stroke="#000" stroke-width="1.5" />
<line x1="95.45" y1="291.89" x2="102.05" y2="291.89" stroke="#000" stroke-width="1.5" />
<rect x="93.10" y="293.04" width="11.30" height="16.16" fill="#000" stroke="#000" stroke-width="1.5" />
<line x1="117.15" y1="225.57" x2="117.15" y2="236.20" stroke="#000" stroke-width="1.5" />
<line x1="113.85" y1="225.57" x2="120.45" y2="225.57" stroke="#000" stroke-width="1.5" />
<rect x="111.60" y="236.20" width="11.10" height="73.00" fill="#fff" stroke="#000" stroke-width="1.5" />
<path d="M95.00 223.80 V218.80 H116.50 V223.80" stroke="#000" stroke-width="1.5" fill="none" />
<text x="105.40" y="219.00" font-size="14.5" text-anchor="middle" >***</text>
<rect x="42.30" y="229.30" width="9.60" height="10.20" fill="#000" stroke="none" stroke-width="0" />
<text x="55.30" y="238.50" font-size="11.5" text-anchor="start">Ik<tspan font-size="7.48" dy="-2.88">+/+</tspan></text>
<rect x="42.90" y="244.20" width="8.40" height="9.00" fill="#fff" stroke="#000" stroke-width="1.3" />
<text x="55.30" y="253.50" font-size="11.5" text-anchor="start">Ik<tspan font-size="7.48" dy="-3.68">-/-</tspan></text>
<text x="0.00" y="0.00" font-size="10.4" text-anchor="start" transform="translate(9.3 291.2) rotate(-90)">TNF (pg/mL)</text>
<text x="61.00" y="323.80" font-size="11.6" text-anchor="middle" >-IgE</text>
<text x="108.80" y="323.80" font-size="11.6" text-anchor="middle" >+IgE</text>
<line x1="46.20" y1="329.50" x2="124.20" y2="329.50" stroke="#000" stroke-width="1.6" />
<text x="84.60" y="344.60" font-size="11.6" text-anchor="middle" >+DNP-HSA</text>
<path d="M176.70 210.90 V308.20 H278.50" stroke="#000" stroke-width="1.6" fill="none" stroke-linecap="square"/>
<line x1="173.20" y1="308.20" x2="176.70" y2="308.20" stroke="#000" stroke-width="1.3" />
<text x="172.70" y="311.90" font-size="10.5" text-anchor="end" >0</text>
<line x1="173.20" y1="288.74" x2="176.70" y2="288.74" stroke="#000" stroke-width="1.3" />
<text x="172.70" y="292.44" font-size="10.5" text-anchor="end" >100</text>
<line x1="173.20" y1="269.28" x2="176.70" y2="269.28" stroke="#000" stroke-width="1.3" />
<text x="172.70" y="272.98" font-size="10.5" text-anchor="end" >200</text>
<line x1="173.20" y1="249.82" x2="176.70" y2="249.82" stroke="#000" stroke-width="1.3" />
<text x="172.70" y="253.52" font-size="10.5" text-anchor="end" >300</text>
<line x1="173.20" y1="230.36" x2="176.70" y2="230.36" stroke="#000" stroke-width="1.3" />
<text x="172.70" y="234.06" font-size="10.5" text-anchor="end" >400</text>
<line x1="173.20" y1="210.90" x2="176.70" y2="210.90" stroke="#000" stroke-width="1.3" />
<text x="172.70" y="214.60" font-size="10.5" text-anchor="end" >500</text>
<line x1="192.35" y1="297.89" x2="192.35" y2="298.97" stroke="#000" stroke-width="1.5" />
<line x1="189.05" y1="297.89" x2="195.65" y2="297.89" stroke="#000" stroke-width="1.5" />
<rect x="185.80" y="298.97" width="13.10" height="9.23" fill="#000" stroke="#000" stroke-width="1.5" />
<line x1="212.15" y1="298.86" x2="212.15" y2="299.94" stroke="#000" stroke-width="1.5" />
<line x1="208.85" y1="298.86" x2="215.45" y2="298.86" stroke="#000" stroke-width="1.5" />
<rect x="206.00" y="299.94" width="12.30" height="8.26" fill="#fff" stroke="#000" stroke-width="1.5" />
<line x1="243.40" y1="258.19" x2="243.40" y2="262.97" stroke="#000" stroke-width="1.5" />
<line x1="240.10" y1="258.19" x2="246.70" y2="258.19" stroke="#000" stroke-width="1.5" />
<rect x="237.00" y="262.97" width="12.80" height="45.23" fill="#000" stroke="#000" stroke-width="1.5" />
<line x1="262.70" y1="219.07" x2="262.70" y2="229.89" stroke="#000" stroke-width="1.5" />
<line x1="259.40" y1="219.07" x2="266.00" y2="219.07" stroke="#000" stroke-width="1.5" />
<rect x="257.10" y="229.89" width="11.20" height="78.31" fill="#fff" stroke="#000" stroke-width="1.5" />
<path d="M241.00 213.30 V208.50 H263.00 V213.30" stroke="#000" stroke-width="1.5" fill="none" />
<text x="252.00" y="208.60" font-size="13" text-anchor="middle" >*</text>
<rect x="180.90" y="229.30" width="10.20" height="10.20" fill="#000" stroke="none" stroke-width="0" />
<text x="194.60" y="238.80" font-size="11.5" text-anchor="start">Ik<tspan font-size="7.48" dy="-2.88">+/+</tspan></text>
<rect x="181.50" y="244.20" width="9.10" height="9.00" fill="#fff" stroke="#000" stroke-width="1.3" />
<text x="194.60" y="253.30" font-size="11.5" text-anchor="start">Ik<tspan font-size="7.48" dy="-3.68">-/-</tspan></text>
<text x="0.00" y="0.00" font-size="10.35" text-anchor="start" transform="translate(148 290.2) rotate(-90)">IL-6 (pg/mL)</text>
<text x="203.60" y="325.80" font-size="11.6" text-anchor="middle" >-IgE</text>
<text x="253.60" y="325.80" font-size="11.6" text-anchor="middle" >+IgE</text>
<line x1="191.20" y1="329.30" x2="268.80" y2="329.30" stroke="#000" stroke-width="1.6" />
<text x="229.80" y="344.30" font-size="11.6" text-anchor="middle" >+DNP-HSA</text>
<text x="284.30" y="191.00" font-size="17.5" text-anchor="start" >E</text>
<path d="M319.17 226.40 C319.55 224.10 320.61 218.12 321.48 212.60 C322.35 207.08 323.41 198.03 324.37 193.28 C325.33 188.53 326.39 184.31 327.26 184.08 C328.13 183.85 328.90 187.53 329.57 191.90 C330.25 196.27 330.73 205.16 331.31 210.30 C331.88 215.44 332.46 220.04 333.04 222.72 C333.62 225.40 334.49 225.79 334.77 226.40 L334.77 226.40 L319.17 226.40 Z" fill="#c9c9c9" stroke="#bbb" stroke-width="0.4"/>
<path d="M315.70 226.40 C316.37 224.10 318.49 218.35 319.75 212.60 C321.00 206.85 321.96 197.19 323.21 191.90 C324.47 186.61 326.10 180.86 327.26 180.86 C328.42 180.86 329.28 187.76 330.15 191.90 C331.02 196.04 331.69 202.25 332.46 205.70 C333.23 209.15 334.10 210.07 334.77 212.60 C335.45 215.13 335.83 218.58 336.51 220.88 C337.18 223.18 337.47 225.48 338.82 226.40 C340.17 227.32 343.64 226.40 344.60 226.40" fill="none" stroke="#333" stroke-width="0.9" stroke-dasharray="0.9 1.1"/>
<path d="M315.70 226.40 C316.32 224.56 318.10 220.57 319.40 215.36 C320.70 210.15 322.15 200.95 323.50 195.12 C324.85 189.29 326.38 180.71 327.49 180.40 C328.60 180.09 329.24 189.45 330.15 193.28 C331.06 197.11 332.06 201.10 332.92 203.40 C333.79 205.70 334.66 206.24 335.35 207.08 C336.05 207.92 336.51 208.38 337.09 208.46 C337.66 208.54 337.95 206.70 338.82 207.54 C339.69 208.38 341.04 211.53 342.29 213.52 C343.54 215.51 344.99 217.81 346.33 219.50 C347.68 221.19 349.22 222.72 350.38 223.64 C351.54 224.56 351.82 224.56 353.27 225.02 C354.71 225.48 355.68 226.17 359.05 226.40 C362.42 226.63 371.09 226.40 373.50 226.40" fill="none" stroke="#000" stroke-width="1.35" stroke-linejoin="round"/>
<rect x="315.70" y="180.40" width="57.80" height="46.00" fill="none" stroke="#444" stroke-width="0.8" />
<line x1="314.20" y1="226.40" x2="315.70" y2="226.40" stroke="#666" stroke-width="0.5" />
<text x="0" y="0" font-size="2.8" text-anchor="middle" fill="#666" class="g" transform="translate(313.7 226.4) rotate(-90)">0</text>
<line x1="314.20" y1="217.20" x2="315.70" y2="217.20" stroke="#666" stroke-width="0.5" />
<text x="0" y="0" font-size="2.8" text-anchor="middle" fill="#666" class="g" transform="translate(313.7 217.2) rotate(-90)">20</text>
<line x1="314.20" y1="208.00" x2="315.70" y2="208.00" stroke="#666" stroke-width="0.5" />
<text x="0" y="0" font-size="2.8" text-anchor="middle" fill="#666" class="g" transform="translate(313.7 208.0) rotate(-90)">40</text>
<line x1="314.20" y1="198.80" x2="315.70" y2="198.80" stroke="#666" stroke-width="0.5" />
<text x="0" y="0" font-size="2.8" text-anchor="middle" fill="#666" class="g" transform="translate(313.7 198.8) rotate(-90)">60</text>
<line x1="314.20" y1="189.60" x2="315.70" y2="189.60" stroke="#666" stroke-width="0.5" />
<text x="0" y="0" font-size="2.8" text-anchor="middle" fill="#666" class="g" transform="translate(313.7 189.6) rotate(-90)">80</text>
<line x1="314.20" y1="180.40" x2="315.70" y2="180.40" stroke="#666" stroke-width="0.5" />
<text x="0" y="0" font-size="2.8" text-anchor="middle" fill="#666" class="g" transform="translate(313.7 180.4) rotate(-90)">100</text>
<line x1="315.70" y1="226.40" x2="315.70" y2="227.90" stroke="#666" stroke-width="0.5" />
<text x="315.7" y="231.2" font-size="3" text-anchor="middle" fill="#666" class="g">10<tspan font-size="1.8" dy="-1">0</tspan></text>
<line x1="330.15" y1="226.40" x2="330.15" y2="227.90" stroke="#666" stroke-width="0.5" />
<text x="330.1" y="231.2" font-size="3" text-anchor="middle" fill="#666" class="g">10<tspan font-size="1.8" dy="-1">1</tspan></text>
<line x1="344.60" y1="226.40" x2="344.60" y2="227.90" stroke="#666" stroke-width="0.5" />
<text x="344.6" y="231.2" font-size="3" text-anchor="middle" fill="#666" class="g">10<tspan font-size="1.8" dy="-1">2</tspan></text>
<line x1="359.05" y1="226.40" x2="359.05" y2="227.90" stroke="#666" stroke-width="0.5" />
<text x="359.0" y="231.2" font-size="3" text-anchor="middle" fill="#666" class="g">10<tspan font-size="1.8" dy="-1">3</tspan></text>
<line x1="373.50" y1="226.40" x2="373.50" y2="227.90" stroke="#666" stroke-width="0.5" />
<text x="373.5" y="231.2" font-size="3" text-anchor="middle" fill="#666" class="g">10<tspan font-size="1.8" dy="-1">4</tspan></text>
<path d="M384.70 212.16 C385.09 209.87 386.24 202.85 387.02 198.42 C387.79 193.99 388.60 188.34 389.33 185.60 C390.07 182.85 390.64 180.71 391.42 181.93 C392.19 183.15 393.06 188.27 393.96 192.92 C394.87 197.58 395.99 205.14 396.86 209.87 C397.73 214.60 398.50 218.65 399.18 221.32 C399.85 223.99 400.62 225.14 400.91 225.90 L400.91 225.90 L384.70 225.90 Z" fill="#c9c9c9" stroke="#bbb" stroke-width="0.4"/>
<path d="M410.75 225.90 C411.43 225.14 413.70 224.53 414.81 221.32 C415.92 218.11 416.69 212.62 417.41 206.66 C418.14 200.71 418.65 189.87 419.15 185.60 C419.65 181.32 419.94 180.02 420.42 181.02 C420.91 182.01 421.44 186.36 422.05 191.55 C422.65 196.74 423.35 206.66 424.07 212.16 C424.80 217.66 425.62 222.24 426.39 224.53 C427.16 226.82 428.32 225.67 428.70 225.90" fill="none" stroke="#333" stroke-width="0.9" stroke-dasharray="0.9 1.1"/>
<path d="M384.70 225.90 C385.66 225.90 388.37 225.98 390.49 225.90 C392.61 225.82 395.15 226.51 397.44 225.44 C399.73 224.37 402.30 221.85 404.21 219.49 C406.12 217.12 407.55 215.52 408.90 211.24 C410.25 206.97 411.24 198.65 412.32 193.84 C413.40 189.03 414.61 184.68 415.39 182.39 C416.17 180.10 416.41 179.57 417.01 180.10 C417.61 180.63 418.28 182.16 418.98 185.60 C419.67 189.03 420.38 195.52 421.18 200.71 C421.98 205.90 422.87 212.69 423.78 216.74 C424.70 220.79 425.47 223.46 426.68 224.98 C427.88 226.51 428.37 225.75 431.02 225.90 C433.67 226.05 440.67 225.90 442.60 225.90" fill="none" stroke="#000" stroke-width="1.35" stroke-linejoin="round"/>
<rect x="384.70" y="180.10" width="57.90" height="45.80" fill="none" stroke="#444" stroke-width="0.8" />
<line x1="383.20" y1="225.90" x2="384.70" y2="225.90" stroke="#666" stroke-width="0.5" />
<text x="0" y="0" font-size="2.8" text-anchor="middle" fill="#666" class="g" transform="translate(382.7 225.9) rotate(-90)">0</text>
<line x1="383.20" y1="216.74" x2="384.70" y2="216.74" stroke="#666" stroke-width="0.5" />
<text x="0" y="0" font-size="2.8" text-anchor="middle" fill="#666" class="g" transform="translate(382.7 216.7) rotate(-90)">20</text>
<line x1="383.20" y1="207.58" x2="384.70" y2="207.58" stroke="#666" stroke-width="0.5" />
<text x="0" y="0" font-size="2.8" text-anchor="middle" fill="#666" class="g" transform="translate(382.7 207.6) rotate(-90)">40</text>
<line x1="383.20" y1="198.42" x2="384.70" y2="198.42" stroke="#666" stroke-width="0.5" />
<text x="0" y="0" font-size="2.8" text-anchor="middle" fill="#666" class="g" transform="translate(382.7 198.4) rotate(-90)">60</text>
<line x1="383.20" y1="189.26" x2="384.70" y2="189.26" stroke="#666" stroke-width="0.5" />
<text x="0" y="0" font-size="2.8" text-anchor="middle" fill="#666" class="g" transform="translate(382.7 189.3) rotate(-90)">80</text>
<line x1="383.20" y1="180.10" x2="384.70" y2="180.10" stroke="#666" stroke-width="0.5" />
<text x="0" y="0" font-size="2.8" text-anchor="middle" fill="#666" class="g" transform="translate(382.7 180.1) rotate(-90)">100</text>
<line x1="384.70" y1="225.90" x2="384.70" y2="227.40" stroke="#666" stroke-width="0.5" />
<text x="384.7" y="230.7" font-size="3" text-anchor="middle" fill="#666" class="g">10<tspan font-size="1.8" dy="-1">0</tspan></text>
<line x1="399.18" y1="225.90" x2="399.18" y2="227.40" stroke="#666" stroke-width="0.5" />
<text x="399.2" y="230.7" font-size="3" text-anchor="middle" fill="#666" class="g">10<tspan font-size="1.8" dy="-1">1</tspan></text>
<line x1="413.65" y1="225.90" x2="413.65" y2="227.40" stroke="#666" stroke-width="0.5" />
<text x="413.6" y="230.7" font-size="3" text-anchor="middle" fill="#666" class="g">10<tspan font-size="1.8" dy="-1">2</tspan></text>
<line x1="428.12" y1="225.90" x2="428.12" y2="227.40" stroke="#666" stroke-width="0.5" />
<text x="428.1" y="230.7" font-size="3" text-anchor="middle" fill="#666" class="g">10<tspan font-size="1.8" dy="-1">3</tspan></text>
<line x1="442.60" y1="225.90" x2="442.60" y2="227.40" stroke="#666" stroke-width="0.5" />
<text x="442.6" y="230.7" font-size="3" text-anchor="middle" fill="#666" class="g">10<tspan font-size="1.8" dy="-1">4</tspan></text>
<path d="M316.10 304.88 C316.48 302.20 317.63 294.13 318.40 288.75 C319.16 283.37 319.96 276.23 320.69 272.62 C321.43 269.00 322.15 266.85 322.82 267.08 C323.49 267.31 324.01 269.77 324.71 274.00 C325.41 278.22 326.34 287.29 327.01 292.44 C327.68 297.59 328.15 302.43 328.73 304.88 C329.30 307.34 329.88 306.42 330.45 307.19 C331.02 307.96 331.60 308.73 332.17 309.50 C332.75 310.26 333.61 311.42 333.89 311.80 L333.89 311.80 L316.10 311.80 Z" fill="#c9c9c9" stroke="#bbb" stroke-width="0.4"/>
<path d="M324.71 311.80 C325.38 311.19 327.58 310.03 328.73 308.11 C329.88 306.19 330.74 303.89 331.60 300.28 C332.46 296.66 333.22 290.90 333.89 286.44 C334.56 281.99 334.88 276.76 335.62 273.54 C336.35 270.31 337.64 266.85 338.31 267.08 C338.98 267.31 339.08 271.31 339.63 274.92 C340.19 278.53 340.97 283.99 341.64 288.75 C342.31 293.51 343.03 299.89 343.65 303.50 C344.27 307.11 344.70 309.03 345.37 310.42 C346.04 311.80 347.29 311.57 347.67 311.80" fill="none" stroke="#333" stroke-width="0.9" stroke-dasharray="0.9 1.1"/>
<path d="M316.10 311.80 C318.01 311.80 324.71 311.95 327.58 311.80 C330.45 311.65 331.79 311.65 333.32 310.88 C334.85 310.11 335.81 308.96 336.76 307.19 C337.72 305.42 338.25 305.27 339.06 300.28 C339.87 295.28 340.88 282.99 341.64 277.23 C342.41 271.46 342.89 264.93 343.65 265.70 C344.42 266.47 345.47 276.30 346.24 281.84 C347.00 287.37 347.53 294.36 348.24 298.89 C348.96 303.43 349.68 306.88 350.54 309.03 C351.40 311.19 349.58 311.34 353.41 311.80 C357.24 312.26 370.15 311.80 373.50 311.80" fill="none" stroke="#000" stroke-width="1.35" stroke-linejoin="round"/>
<rect x="316.10" y="265.70" width="57.40" height="46.10" fill="none" stroke="#444" stroke-width="0.8" />
<line x1="314.60" y1="311.80" x2="316.10" y2="311.80" stroke="#666" stroke-width="0.5" />
<text x="0" y="0" font-size="2.8" text-anchor="middle" fill="#666" class="g" transform="translate(314.1 311.8) rotate(-90)">0</text>
<line x1="314.60" y1="302.58" x2="316.10" y2="302.58" stroke="#666" stroke-width="0.5" />
<text x="0" y="0" font-size="2.8" text-anchor="middle" fill="#666" class="g" transform="translate(314.1 302.6) rotate(-90)">20</text>
<line x1="314.60" y1="293.36" x2="316.10" y2="293.36" stroke="#666" stroke-width="0.5" />
<text x="0" y="0" font-size="2.8" text-anchor="middle" fill="#666" class="g" transform="translate(314.1 293.4) rotate(-90)">40</text>
<line x1="314.60" y1="284.14" x2="316.10" y2="284.14" stroke="#666" stroke-width="0.5" />
<text x="0" y="0" font-size="2.8" text-anchor="middle" fill="#666" class="g" transform="translate(314.1 284.1) rotate(-90)">60</text>
<line x1="314.60" y1="274.92" x2="316.10" y2="274.92" stroke="#666" stroke-width="0.5" />
<text x="0" y="0" font-size="2.8" text-anchor="middle" fill="#666" class="g" transform="translate(314.1 274.9) rotate(-90)">80</text>
<line x1="314.60" y1="265.70" x2="316.10" y2="265.70" stroke="#666" stroke-width="0.5" />
<text x="0" y="0" font-size="2.8" text-anchor="middle" fill="#666" class="g" transform="translate(314.1 265.7) rotate(-90)">100</text>
<line x1="316.10" y1="311.80" x2="316.10" y2="313.30" stroke="#666" stroke-width="0.5" />
<text x="316.1" y="316.6" font-size="3" text-anchor="middle" fill="#666" class="g">10<tspan font-size="1.8" dy="-1">0</tspan></text>
<line x1="330.45" y1="311.80" x2="330.45" y2="313.30" stroke="#666" stroke-width="0.5" />
<text x="330.5" y="316.6" font-size="3" text-anchor="middle" fill="#666" class="g">10<tspan font-size="1.8" dy="-1">1</tspan></text>
<line x1="344.80" y1="311.80" x2="344.80" y2="313.30" stroke="#666" stroke-width="0.5" />
<text x="344.8" y="316.6" font-size="3" text-anchor="middle" fill="#666" class="g">10<tspan font-size="1.8" dy="-1">2</tspan></text>
<line x1="359.15" y1="311.80" x2="359.15" y2="313.30" stroke="#666" stroke-width="0.5" />
<text x="359.2" y="316.6" font-size="3" text-anchor="middle" fill="#666" class="g">10<tspan font-size="1.8" dy="-1">3</tspan></text>
<line x1="373.50" y1="311.80" x2="373.50" y2="313.30" stroke="#666" stroke-width="0.5" />
<text x="373.5" y="316.6" font-size="3" text-anchor="middle" fill="#666" class="g">10<tspan font-size="1.8" dy="-1">4</tspan></text>
<path d="M384.50 288.00 C384.88 286.32 386.02 280.06 386.78 277.92 C387.54 275.79 388.30 275.02 389.06 275.18 C389.82 275.33 390.58 277.31 391.34 278.84 C392.10 280.37 392.86 282.81 393.62 284.34 C394.38 285.86 395.04 287.01 395.90 288.00 C396.75 288.99 397.80 290.29 398.75 290.29 C399.70 290.29 400.56 289.30 401.60 288.00 C402.65 286.70 403.97 282.50 405.02 282.50 C406.06 282.50 407.11 284.79 407.87 288.00 C408.63 291.21 409.01 297.92 409.58 301.74 C410.15 305.56 411.00 309.37 411.29 310.90 L411.29 310.90 L384.50 310.90 Z" fill="#c9c9c9" stroke="#bbb" stroke-width="0.4"/>
<path d="M384.50 309.98 C384.98 307.85 386.21 301.21 387.35 297.16 C388.49 293.11 390.10 288.61 391.34 285.71 C392.57 282.81 393.52 281.44 394.76 279.76 C396.00 278.08 397.28 276.63 398.75 275.63 C400.22 274.64 402.36 273.27 403.60 273.80 C404.83 274.34 405.26 276.63 406.16 278.84 C407.06 281.05 408.35 283.95 409.01 287.08 C409.67 290.21 409.39 294.72 410.15 297.62 C410.91 300.52 412.33 303.50 413.57 304.49 C414.81 305.48 416.42 303.27 417.56 303.57 C418.70 303.88 419.46 305.48 420.41 306.32 C421.36 307.16 422.12 307.85 423.26 308.61 C424.40 309.37 426.58 310.52 427.25 310.90" fill="none" stroke="#333" stroke-width="0.9" stroke-dasharray="0.9 1.1"/>
<path d="M384.50 291.66 C384.50 294.87 384.02 308.00 384.50 310.90 C384.98 313.80 386.21 309.83 387.35 309.07 C388.49 308.30 389.98 307.77 391.34 306.32 C392.70 304.87 394.02 303.57 395.50 300.37 C396.98 297.16 398.66 290.44 400.23 287.08 C401.80 283.73 403.63 282.73 404.91 280.21 C406.18 277.70 407.09 274.49 407.87 271.97 C408.65 269.45 408.53 264.64 409.58 265.10 C410.62 265.56 412.81 272.66 414.14 274.72 C415.47 276.78 416.61 275.86 417.56 277.47 C418.51 279.07 418.89 280.98 419.84 284.34 C420.79 287.69 422.31 293.80 423.26 297.62 C424.21 301.43 424.40 305.10 425.54 307.24 C426.68 309.37 428.39 309.83 430.10 310.44 C431.81 311.05 433.90 310.82 435.80 310.90 C437.70 310.98 440.55 310.90 441.50 310.90" fill="none" stroke="#000" stroke-width="1.35" stroke-linejoin="round"/>
<rect x="384.50" y="265.10" width="57.00" height="45.80" fill="none" stroke="#444" stroke-width="0.8" />
<line x1="383.00" y1="310.90" x2="384.50" y2="310.90" stroke="#666" stroke-width="0.5" />
<text x="0" y="0" font-size="2.8" text-anchor="middle" fill="#666" class="g" transform="translate(382.5 310.9) rotate(-90)">0</text>
<line x1="383.00" y1="301.74" x2="384.50" y2="301.74" stroke="#666" stroke-width="0.5" />
<text x="0" y="0" font-size="2.8" text-anchor="middle" fill="#666" class="g" transform="translate(382.5 301.7) rotate(-90)">20</text>
<line x1="383.00" y1="292.58" x2="384.50" y2="292.58" stroke="#666" stroke-width="0.5" />
<text x="0" y="0" font-size="2.8" text-anchor="middle" fill="#666" class="g" transform="translate(382.5 292.6) rotate(-90)">40</text>
<line x1="383.00" y1="283.42" x2="384.50" y2="283.42" stroke="#666" stroke-width="0.5" />
<text x="0" y="0" font-size="2.8" text-anchor="middle" fill="#666" class="g" transform="translate(382.5 283.4) rotate(-90)">60</text>
<line x1="383.00" y1="274.26" x2="384.50" y2="274.26" stroke="#666" stroke-width="0.5" />
<text x="0" y="0" font-size="2.8" text-anchor="middle" fill="#666" class="g" transform="translate(382.5 274.3) rotate(-90)">80</text>
<line x1="383.00" y1="265.10" x2="384.50" y2="265.10" stroke="#666" stroke-width="0.5" />
<text x="0" y="0" font-size="2.8" text-anchor="middle" fill="#666" class="g" transform="translate(382.5 265.1) rotate(-90)">100</text>
<line x1="384.50" y1="310.90" x2="384.50" y2="312.40" stroke="#666" stroke-width="0.5" />
<text x="384.5" y="315.7" font-size="3" text-anchor="middle" fill="#666" class="g">10<tspan font-size="1.8" dy="-1">0</tspan></text>
<line x1="398.75" y1="310.90" x2="398.75" y2="312.40" stroke="#666" stroke-width="0.5" />
<text x="398.8" y="315.7" font-size="3" text-anchor="middle" fill="#666" class="g">10<tspan font-size="1.8" dy="-1">1</tspan></text>
<line x1="413.00" y1="310.90" x2="413.00" y2="312.40" stroke="#666" stroke-width="0.5" />
<text x="413.0" y="315.7" font-size="3" text-anchor="middle" fill="#666" class="g">10<tspan font-size="1.8" dy="-1">2</tspan></text>
<line x1="427.25" y1="310.90" x2="427.25" y2="312.40" stroke="#666" stroke-width="0.5" />
<text x="427.2" y="315.7" font-size="3" text-anchor="middle" fill="#666" class="g">10<tspan font-size="1.8" dy="-1">3</tspan></text>
<line x1="441.50" y1="310.90" x2="441.50" y2="312.40" stroke="#666" stroke-width="0.5" />
<text x="441.5" y="315.7" font-size="3" text-anchor="middle" fill="#666" class="g">10<tspan font-size="1.8" dy="-1">4</tspan></text>
<text x="343.50" y="241.50" font-size="11.6" text-anchor="middle" >CD49b</text>
<text x="342.00" y="254.20" font-size="11.4" text-anchor="middle" >(α2 integrin)</text>
<text x="413.00" y="240.50" font-size="11.6" text-anchor="middle" >CD44</text>
<text x="343.00" y="326.20" font-size="11.8" text-anchor="middle" >CD54</text>
<text x="343.50" y="338.90" font-size="11.6" text-anchor="middle" >(ICAM-1)</text>
<text x="412.70" y="327.30" font-size="11.6" text-anchor="middle" >CD49d</text>
<text x="412.10" y="338.90" font-size="11.6" text-anchor="middle" >(α4 integrin)</text>
<path d="M302.4 255 V226" stroke="#000" stroke-width="1.6" fill="none" />
<path d="M302.4 221.8 L299.6 228 L305.2 228 Z" fill="#000"/>
<text x="0.00" y="0.00" font-size="11.9" text-anchor="start" transform="translate(306.3 312.6) rotate(-90)">% of Max</text>
<line x1="451.60" y1="212.60" x2="464.40" y2="212.60" stroke="#000" stroke-width="3.6" />
<text x="470.00" y="214.80" font-size="11.6" text-anchor="start">Ik<tspan font-size="7.54" dy="-2.90">+/+</tspan></text>
<line x1="451.80" y1="227.40" x2="462.40" y2="227.40" stroke="#000" stroke-width="3.4" stroke-dasharray="4 2.4"/>
<text x="470.60" y="230.30" font-size="11.6" text-anchor="start">Ik<tspan font-size="7.54" dy="-3.71">-/-</tspan></text>
<line x1="451.50" y1="243.20" x2="465.00" y2="243.20" stroke="#9c9c9c" stroke-width="4.0" />
<text x="470.30" y="246.60" font-size="11.8" text-anchor="start" >Isotype</text>
<text x="10.20" y="367.20" font-size="17.5" text-anchor="start" >F</text>
<text x="0.00" y="0.00" font-size="10.1" text-anchor="start" transform="translate(9.4 494.8) rotate(-90)">Relative expression/<tspan font-style="italic">Hprt1</tspan></text>
<text x="0.00" y="0.00" font-size="10.55" text-anchor="start" transform="translate(9.9 640.9) rotate(-90)">Relative expression/<tspan font-style="italic">Hprt1</tspan></text>
<path d="M34.20 389.90 V478.70 H96.50" stroke="#000" stroke-width="1.6" fill="none" stroke-linecap="square"/>
<line x1="30.70" y1="478.70" x2="34.20" y2="478.70" stroke="#000" stroke-width="1.3" />
<text x="29.20" y="482.40" font-size="10.5" text-anchor="end" >0</text>
<line x1="30.70" y1="449.10" x2="34.20" y2="449.10" stroke="#000" stroke-width="1.3" />
<text x="29.20" y="452.80" font-size="10.5" text-anchor="end" >0.5</text>
<line x1="30.70" y1="419.50" x2="34.20" y2="419.50" stroke="#000" stroke-width="1.3" />
<text x="29.20" y="423.20" font-size="10.5" text-anchor="end" >1.0</text>
<line x1="30.70" y1="389.90" x2="34.20" y2="389.90" stroke="#000" stroke-width="1.3" />
<text x="29.20" y="393.60" font-size="10.5" text-anchor="end" >1.5</text>
<line x1="48.50" y1="396.41" x2="48.50" y2="398.69" stroke="#000" stroke-width="1.5" />
<line x1="43.10" y1="396.41" x2="53.90" y2="396.41" stroke="#000" stroke-width="1.5" />
<rect x="38.20" y="398.69" width="20.60" height="80.01" fill="#000" stroke="#000" stroke-width="1.5" />
<line x1="80.80" y1="460.35" x2="80.80" y2="462.03" stroke="#000" stroke-width="1.5" />
<line x1="75.40" y1="460.35" x2="86.20" y2="460.35" stroke="#000" stroke-width="1.5" />
<rect x="70.00" y="462.03" width="21.60" height="16.67" fill="#fff" stroke="#000" stroke-width="1.5" />
<path d="M47.80 391.00 V384.80 H80.00 V391.00" stroke="#000" stroke-width="1.5" fill="none" />
<text x="64.20" y="388.00" font-size="13" text-anchor="middle" >*</text>
<text x="64.80" y="493.20" font-size="12.8" text-anchor="middle" font-style="italic" >Mitf</text>
<path d="M123.60 387.10 V478.70 H189.50" stroke="#000" stroke-width="1.6" fill="none" stroke-linecap="square"/>
<line x1="120.10" y1="478.70" x2="123.60" y2="478.70" stroke="#000" stroke-width="1.3" />
<text x="119.60" y="482.40" font-size="10.5" text-anchor="end" >0</text>
<line x1="120.10" y1="465.61" x2="123.60" y2="465.61" stroke="#000" stroke-width="1.3" />
<text x="119.60" y="469.31" font-size="10.5" text-anchor="end" >0.05</text>
<line x1="120.10" y1="452.53" x2="123.60" y2="452.53" stroke="#000" stroke-width="1.3" />
<text x="119.60" y="456.23" font-size="10.5" text-anchor="end" >0.10</text>
<line x1="120.10" y1="439.44" x2="123.60" y2="439.44" stroke="#000" stroke-width="1.3" />
<text x="119.60" y="443.14" font-size="10.5" text-anchor="end" >0.15</text>
<line x1="120.10" y1="426.36" x2="123.60" y2="426.36" stroke="#000" stroke-width="1.3" />
<text x="119.60" y="430.06" font-size="10.5" text-anchor="end" >0.20</text>
<line x1="120.10" y1="413.27" x2="123.60" y2="413.27" stroke="#000" stroke-width="1.3" />
<text x="119.60" y="416.97" font-size="10.5" text-anchor="end" >0.25</text>
<line x1="120.10" y1="400.19" x2="123.60" y2="400.19" stroke="#000" stroke-width="1.3" />
<text x="119.60" y="403.89" font-size="10.5" text-anchor="end" >0.30</text>
<line x1="120.10" y1="387.10" x2="123.60" y2="387.10" stroke="#000" stroke-width="1.3" />
<text x="119.60" y="390.80" font-size="10.5" text-anchor="end" >0.35</text>
<line x1="140.30" y1="391.03" x2="140.30" y2="398.07" stroke="#000" stroke-width="1.5" />
<line x1="134.90" y1="391.03" x2="145.70" y2="391.03" stroke="#000" stroke-width="1.5" />
<rect x="129.10" y="398.07" width="22.40" height="80.63" fill="#000" stroke="#000" stroke-width="1.5" />
<rect x="161.60" y="462.71" width="21.80" height="15.99" fill="#fff" stroke="#000" stroke-width="1.5" />
<path d="M139.30 387.70 V382.20 H171.80 V387.70" stroke="#000" stroke-width="1.5" fill="none" />
<text x="156.50" y="384.90" font-size="13" text-anchor="middle" >*</text>
<text x="154.50" y="492.30" font-size="12.8" text-anchor="middle" font-style="italic" >Gata1</text>
<path d="M213.90 386.90 V478.70 H276.70" stroke="#000" stroke-width="1.6" fill="none" stroke-linecap="square"/>
<line x1="210.40" y1="478.70" x2="213.90" y2="478.70" stroke="#000" stroke-width="1.3" />
<text x="208.50" y="482.40" font-size="10.5" text-anchor="end" >0</text>
<line x1="210.40" y1="448.10" x2="213.90" y2="448.10" stroke="#000" stroke-width="1.3" />
<text x="208.50" y="451.80" font-size="10.5" text-anchor="end" >10</text>
<line x1="210.40" y1="417.50" x2="213.90" y2="417.50" stroke="#000" stroke-width="1.3" />
<text x="208.50" y="421.20" font-size="10.5" text-anchor="end" >20</text>
<line x1="210.40" y1="386.90" x2="213.90" y2="386.90" stroke="#000" stroke-width="1.3" />
<text x="208.50" y="390.60" font-size="10.5" text-anchor="end" >30</text>
<line x1="230.00" y1="411.99" x2="230.00" y2="418.61" stroke="#000" stroke-width="1.5" />
<line x1="224.60" y1="411.99" x2="235.40" y2="411.99" stroke="#000" stroke-width="1.5" />
<rect x="219.80" y="418.61" width="20.40" height="60.09" fill="#000" stroke="#000" stroke-width="1.5" />
<line x1="261.35" y1="452.38" x2="261.35" y2="455.64" stroke="#000" stroke-width="1.5" />
<line x1="255.95" y1="452.38" x2="266.75" y2="452.38" stroke="#000" stroke-width="1.5" />
<rect x="251.60" y="455.64" width="19.50" height="23.06" fill="#fff" stroke="#000" stroke-width="1.5" />
<path d="M229.60 408.40 V403.20 H261.90 V408.40" stroke="#000" stroke-width="1.5" fill="none" />
<text x="246.10" y="405.60" font-size="13" text-anchor="middle" >*</text>
<text x="244.60" y="492.30" font-size="12.8" text-anchor="middle" font-style="italic" >Gata2</text>
<path d="M293.80 388.40 V478.70 H355.80" stroke="#000" stroke-width="1.6" fill="none" stroke-linecap="square"/>
<line x1="290.30" y1="478.70" x2="293.80" y2="478.70" stroke="#000" stroke-width="1.3" />
<text x="290.20" y="482.40" font-size="10.5" text-anchor="end" >0</text>
<line x1="290.30" y1="433.55" x2="293.80" y2="433.55" stroke="#000" stroke-width="1.3" />
<text x="290.20" y="437.25" font-size="10.5" text-anchor="end" >1</text>
<line x1="290.30" y1="388.40" x2="293.80" y2="388.40" stroke="#000" stroke-width="1.3" />
<text x="290.20" y="392.10" font-size="10.5" text-anchor="end" >2</text>
<line x1="308.95" y1="408.27" x2="308.95" y2="416.44" stroke="#000" stroke-width="1.5" />
<line x1="303.55" y1="408.27" x2="314.35" y2="408.27" stroke="#000" stroke-width="1.5" />
<rect x="298.70" y="416.44" width="20.50" height="62.26" fill="#000" stroke="#000" stroke-width="1.5" />
<line x1="339.75" y1="457.93" x2="339.75" y2="461.14" stroke="#000" stroke-width="1.5" />
<line x1="334.35" y1="457.93" x2="345.15" y2="457.93" stroke="#000" stroke-width="1.5" />
<rect x="330.20" y="461.14" width="19.10" height="17.56" fill="#fff" stroke="#000" stroke-width="1.5" />
<path d="M308.20 403.80 V399.20 H340.10 V403.80" stroke="#000" stroke-width="1.5" fill="none" />
<text x="325.70" y="401.00" font-size="13" text-anchor="middle" >*</text>
<text x="321.70" y="492.30" font-size="12.8" text-anchor="middle" font-style="italic" >Stat5a</text>
<path d="M378.30 388.40 V478.70 H441.70" stroke="#000" stroke-width="1.6" fill="none" stroke-linecap="square"/>
<line x1="374.80" y1="478.70" x2="378.30" y2="478.70" stroke="#000" stroke-width="1.3" />
<text x="374.30" y="482.40" font-size="10.5" text-anchor="end" >0</text>
<line x1="374.80" y1="468.67" x2="378.30" y2="468.67" stroke="#000" stroke-width="1.3" />
<text x="374.30" y="472.37" font-size="10.5" text-anchor="end" >0.5</text>
<line x1="374.80" y1="448.60" x2="378.30" y2="448.60" stroke="#000" stroke-width="1.3" />
<text x="374.30" y="452.30" font-size="10.5" text-anchor="end" >1.5</text>
<line x1="374.80" y1="428.53" x2="378.30" y2="428.53" stroke="#000" stroke-width="1.3" />
<text x="374.30" y="432.23" font-size="10.5" text-anchor="end" >2.5</text>
<line x1="374.80" y1="408.47" x2="378.30" y2="408.47" stroke="#000" stroke-width="1.3" />
<text x="374.30" y="412.17" font-size="10.5" text-anchor="end" >3.5</text>
<line x1="374.80" y1="388.40" x2="378.30" y2="388.40" stroke="#000" stroke-width="1.3" />
<text x="374.30" y="392.10" font-size="10.5" text-anchor="end" >4.5</text>
<line x1="374.80" y1="458.63" x2="378.30" y2="458.63" stroke="#000" stroke-width="1.3" />
<line x1="374.80" y1="438.57" x2="378.30" y2="438.57" stroke="#000" stroke-width="1.3" />
<line x1="374.80" y1="418.50" x2="378.30" y2="418.50" stroke="#000" stroke-width="1.3" />
<line x1="374.80" y1="398.43" x2="378.30" y2="398.43" stroke="#000" stroke-width="1.3" />
<line x1="394.70" y1="397.03" x2="394.70" y2="401.94" stroke="#000" stroke-width="1.5" />
<line x1="389.30" y1="397.03" x2="400.10" y2="397.03" stroke="#000" stroke-width="1.5" />
<rect x="383.80" y="401.94" width="21.80" height="76.76" fill="#000" stroke="#000" stroke-width="1.5" />
<line x1="427.70" y1="461.24" x2="427.70" y2="462.54" stroke="#000" stroke-width="1.5" />
<line x1="422.30" y1="461.24" x2="433.10" y2="461.24" stroke="#000" stroke-width="1.5" />
<rect x="417.30" y="462.54" width="20.80" height="16.16" fill="#fff" stroke="#000" stroke-width="1.5" />
<path d="M393.40 393.20 V388.10 H425.90 V393.20" stroke="#000" stroke-width="1.5" fill="none" />
<text x="411.10" y="390.40" font-size="13" text-anchor="middle" >*</text>
<text x="412.10" y="492.80" font-size="12.8" text-anchor="middle" font-style="italic" >Hes1</text>
<path d="M459.50 388.80 V478.70 H520.00" stroke="#000" stroke-width="1.6" fill="none" stroke-linecap="square"/>
<line x1="456.00" y1="478.70" x2="459.50" y2="478.70" stroke="#000" stroke-width="1.3" />
<text x="455.50" y="482.40" font-size="10.5" text-anchor="end" >0</text>
<line x1="456.00" y1="456.22" x2="459.50" y2="456.22" stroke="#000" stroke-width="1.3" />
<text x="455.50" y="459.92" font-size="10.5" text-anchor="end" >1</text>
<line x1="456.00" y1="433.75" x2="459.50" y2="433.75" stroke="#000" stroke-width="1.3" />
<text x="455.50" y="437.45" font-size="10.5" text-anchor="end" >2</text>
<line x1="456.00" y1="411.27" x2="459.50" y2="411.27" stroke="#000" stroke-width="1.3" />
<text x="455.50" y="414.97" font-size="10.5" text-anchor="end" >3</text>
<line x1="456.00" y1="388.80" x2="459.50" y2="388.80" stroke="#000" stroke-width="1.3" />
<text x="455.50" y="392.50" font-size="10.5" text-anchor="end" >4</text>
<line x1="473.35" y1="472.86" x2="473.35" y2="476.05" stroke="#000" stroke-width="1.5" />
<line x1="467.95" y1="472.86" x2="478.75" y2="472.86" stroke="#000" stroke-width="1.5" />
<rect x="463.10" y="476.05" width="20.50" height="2.65" fill="#000" stroke="#000" stroke-width="1.5" />
<line x1="504.15" y1="388.80" x2="504.15" y2="403.23" stroke="#000" stroke-width="1.5" />
<line x1="498.75" y1="388.80" x2="509.55" y2="388.80" stroke="#000" stroke-width="1.5" />
<rect x="494.20" y="403.23" width="19.90" height="75.47" fill="#fff" stroke="#000" stroke-width="1.5" />
<path d="M472.30 386.70 V381.80 H505.20 V386.70" stroke="#000" stroke-width="1.5" fill="none" />
<text x="488.70" y="383.90" font-size="13" text-anchor="middle" >*</text>
<text x="488.10" y="492.30" font-size="12.8" text-anchor="middle" font-style="italic" >Cebpa</text>
<path d="M33.10 532.70 V627.60 H95.50" stroke="#000" stroke-width="1.6" fill="none" stroke-linecap="square"/>
<line x1="29.60" y1="627.60" x2="33.10" y2="627.60" stroke="#000" stroke-width="1.3" />
<text x="29.10" y="631.30" font-size="10.5" text-anchor="end" >0</text>
<line x1="29.60" y1="608.62" x2="33.10" y2="608.62" stroke="#000" stroke-width="1.3" />
<text x="29.10" y="612.32" font-size="10.5" text-anchor="end" >50</text>
<line x1="29.60" y1="589.64" x2="33.10" y2="589.64" stroke="#000" stroke-width="1.3" />
<text x="29.10" y="593.34" font-size="10.5" text-anchor="end" >100</text>
<line x1="29.60" y1="570.66" x2="33.10" y2="570.66" stroke="#000" stroke-width="1.3" />
<text x="29.10" y="574.36" font-size="10.5" text-anchor="end" >150</text>
<line x1="29.60" y1="551.68" x2="33.10" y2="551.68" stroke="#000" stroke-width="1.3" />
<text x="29.10" y="555.38" font-size="10.5" text-anchor="end" >200</text>
<line x1="29.60" y1="532.70" x2="33.10" y2="532.70" stroke="#000" stroke-width="1.3" />
<text x="29.10" y="536.40" font-size="10.5" text-anchor="end" >250</text>
<line x1="49.10" y1="533.84" x2="49.10" y2="543.83" stroke="#000" stroke-width="1.5" />
<line x1="43.70" y1="533.84" x2="54.50" y2="533.84" stroke="#000" stroke-width="1.5" />
<rect x="38.90" y="543.83" width="20.40" height="83.77" fill="#000" stroke="#000" stroke-width="1.5" />
<line x1="80.00" y1="594.57" x2="80.00" y2="600.77" stroke="#000" stroke-width="1.5" />
<line x1="74.60" y1="594.57" x2="85.40" y2="594.57" stroke="#000" stroke-width="1.5" />
<rect x="69.40" y="600.77" width="21.20" height="26.83" fill="#fff" stroke="#000" stroke-width="1.5" />
<path d="M48.70 530.50 V525.50 H80.70 V530.50" stroke="#000" stroke-width="1.5" fill="none" />
<text x="64.90" y="527.20" font-size="13" text-anchor="middle" >*</text>
<text x="64.00" y="642.20" font-size="12.8" text-anchor="middle" font-style="italic" >Cma1</text>
<text x="64.80" y="654.80" font-size="12.8" text-anchor="middle" font-style="italic" >(Mcpt5)</text>
<path d="M123.80 532.70 V627.60 H184.80" stroke="#000" stroke-width="1.6" fill="none" stroke-linecap="square"/>
<line x1="120.30" y1="627.60" x2="123.80" y2="627.60" stroke="#000" stroke-width="1.3" />
<text x="118.60" y="631.30" font-size="10.5" text-anchor="end" >0</text>
<line x1="120.30" y1="614.04" x2="123.80" y2="614.04" stroke="#000" stroke-width="1.3" />
<text x="118.60" y="617.74" font-size="10.5" text-anchor="end" >0.5</text>
<line x1="120.30" y1="600.49" x2="123.80" y2="600.49" stroke="#000" stroke-width="1.3" />
<text x="118.60" y="604.19" font-size="10.5" text-anchor="end" >1.0</text>
<line x1="120.30" y1="586.93" x2="123.80" y2="586.93" stroke="#000" stroke-width="1.3" />
<text x="118.60" y="590.63" font-size="10.5" text-anchor="end" >1.5</text>
<line x1="120.30" y1="573.37" x2="123.80" y2="573.37" stroke="#000" stroke-width="1.3" />
<text x="118.60" y="577.07" font-size="10.5" text-anchor="end" >2.0</text>
<line x1="120.30" y1="559.81" x2="123.80" y2="559.81" stroke="#000" stroke-width="1.3" />
<text x="118.60" y="563.51" font-size="10.5" text-anchor="end" >2.5</text>
<line x1="120.30" y1="546.26" x2="123.80" y2="546.26" stroke="#000" stroke-width="1.3" />
<text x="118.60" y="549.96" font-size="10.5" text-anchor="end" >3.0</text>
<line x1="120.30" y1="532.70" x2="123.80" y2="532.70" stroke="#000" stroke-width="1.3" />
<text x="118.60" y="536.40" font-size="10.5" text-anchor="end" >3.5</text>
<line x1="139.05" y1="539.48" x2="139.05" y2="549.47" stroke="#000" stroke-width="1.5" />
<line x1="133.65" y1="539.48" x2="144.45" y2="539.48" stroke="#000" stroke-width="1.5" />
<rect x="129.20" y="549.47" width="19.70" height="78.13" fill="#000" stroke="#000" stroke-width="1.5" />
<line x1="169.65" y1="612.42" x2="169.65" y2="615.36" stroke="#000" stroke-width="1.5" />
<line x1="164.25" y1="612.42" x2="175.05" y2="612.42" stroke="#000" stroke-width="1.5" />
<rect x="159.70" y="615.36" width="19.90" height="12.24" fill="#fff" stroke="#000" stroke-width="1.5" />
<path d="M137.00 536.10 V530.90 H170.00 V536.10" stroke="#000" stroke-width="1.5" fill="none" />
<text x="154.50" y="532.90" font-size="13" text-anchor="middle" >*</text>
<text x="153.50" y="642.20" font-size="12.8" text-anchor="middle" font-style="italic" >Tpsb2</text>
<text x="153.00" y="654.80" font-size="12.8" text-anchor="middle" font-style="italic" >(Mcpt6)</text>
<path d="M214.50 532.70 V627.60 H277.00" stroke="#000" stroke-width="1.6" fill="none" stroke-linecap="square"/>
<line x1="211.00" y1="627.60" x2="214.50" y2="627.60" stroke="#000" stroke-width="1.3" />
<text x="209.90" y="631.30" font-size="10.5" text-anchor="end" >0</text>
<line x1="211.00" y1="595.97" x2="214.50" y2="595.97" stroke="#000" stroke-width="1.3" />
<text x="209.90" y="599.67" font-size="10.5" text-anchor="end" >500</text>
<line x1="211.00" y1="564.33" x2="214.50" y2="564.33" stroke="#000" stroke-width="1.3" />
<text x="209.90" y="568.03" font-size="10.5" text-anchor="end" >1000</text>
<line x1="211.00" y1="532.70" x2="214.50" y2="532.70" stroke="#000" stroke-width="1.3" />
<text x="209.90" y="536.40" font-size="10.5" text-anchor="end" >1500</text>
<line x1="229.65" y1="533.33" x2="229.65" y2="540.16" stroke="#000" stroke-width="1.5" />
<line x1="224.25" y1="533.33" x2="235.05" y2="533.33" stroke="#000" stroke-width="1.5" />
<rect x="219.20" y="540.16" width="20.90" height="87.44" fill="#000" stroke="#000" stroke-width="1.5" />
<line x1="260.80" y1="610.83" x2="260.80" y2="611.97" stroke="#000" stroke-width="1.5" />
<line x1="255.40" y1="610.83" x2="266.20" y2="610.83" stroke="#000" stroke-width="1.5" />
<rect x="250.40" y="611.97" width="20.80" height="15.63" fill="#fff" stroke="#000" stroke-width="1.5" />
<path d="M228.20 530.00 V524.80 H261.10 V530.00" stroke="#000" stroke-width="1.5" fill="none" />
<text x="245.20" y="526.50" font-size="13" text-anchor="middle" >*</text>
<text x="247.00" y="641.40" font-size="12.8" text-anchor="middle" font-style="italic" >Cpa3</text>
<path d="M293.60 532.00 V627.60 H355.00" stroke="#000" stroke-width="1.6" fill="none" stroke-linecap="square"/>
<line x1="290.10" y1="627.60" x2="293.60" y2="627.60" stroke="#000" stroke-width="1.3" />
<text x="289.60" y="631.30" font-size="10.5" text-anchor="end" >0</text>
<line x1="290.10" y1="615.65" x2="293.60" y2="615.65" stroke="#000" stroke-width="1.3" />
<text x="289.60" y="619.35" font-size="10.5" text-anchor="end" >10</text>
<line x1="290.10" y1="603.70" x2="293.60" y2="603.70" stroke="#000" stroke-width="1.3" />
<text x="289.60" y="607.40" font-size="10.5" text-anchor="end" >20</text>
<line x1="290.10" y1="591.75" x2="293.60" y2="591.75" stroke="#000" stroke-width="1.3" />
<text x="289.60" y="595.45" font-size="10.5" text-anchor="end" >30</text>
<line x1="290.10" y1="579.80" x2="293.60" y2="579.80" stroke="#000" stroke-width="1.3" />
<text x="289.60" y="583.50" font-size="10.5" text-anchor="end" >40</text>
<line x1="290.10" y1="567.85" x2="293.60" y2="567.85" stroke="#000" stroke-width="1.3" />
<text x="289.60" y="571.55" font-size="10.5" text-anchor="end" >50</text>
<line x1="290.10" y1="555.90" x2="293.60" y2="555.90" stroke="#000" stroke-width="1.3" />
<text x="289.60" y="559.60" font-size="10.5" text-anchor="end" >60</text>
<line x1="290.10" y1="543.95" x2="293.60" y2="543.95" stroke="#000" stroke-width="1.3" />
<text x="289.60" y="547.65" font-size="10.5" text-anchor="end" >70</text>
<line x1="290.10" y1="532.00" x2="293.60" y2="532.00" stroke="#000" stroke-width="1.3" />
<text x="289.60" y="535.70" font-size="10.5" text-anchor="end" >80</text>
<rect x="295.60" y="626.80" width="24.30" height="0.80" fill="#000" stroke="#000" stroke-width="1.5" />
<line x1="339.80" y1="533.19" x2="339.80" y2="546.84" stroke="#000" stroke-width="1.5" />
<line x1="334.40" y1="533.19" x2="345.20" y2="533.19" stroke="#000" stroke-width="1.5" />
<rect x="329.70" y="546.84" width="20.20" height="80.76" fill="#fff" stroke="#000" stroke-width="1.5" />
<path d="M306.80 530.00 V524.80 H339.80 V530.00" stroke="#000" stroke-width="1.5" fill="none" />
<text x="323.20" y="526.50" font-size="13" text-anchor="middle" >*</text>
<text x="322.20" y="641.40" font-size="12.8" text-anchor="middle" font-style="italic" >Mcpt8</text>
<rect x="368.10" y="531.00" width="9.80" height="9.80" fill="#000" stroke="none" stroke-width="0" />
<text x="381.70" y="539.80" font-size="12" text-anchor="start">Ik<tspan font-size="7.80" dy="-3.00">+/+</tspan></text>
<rect x="368.80" y="545.50" width="8.40" height="8.40" fill="#fff" stroke="#000" stroke-width="1.4" />
<text x="381.70" y="553.60" font-size="12" text-anchor="start">Ik<tspan font-size="7.80" dy="-3.84">-/-</tspan></text>
</svg></body></html>
